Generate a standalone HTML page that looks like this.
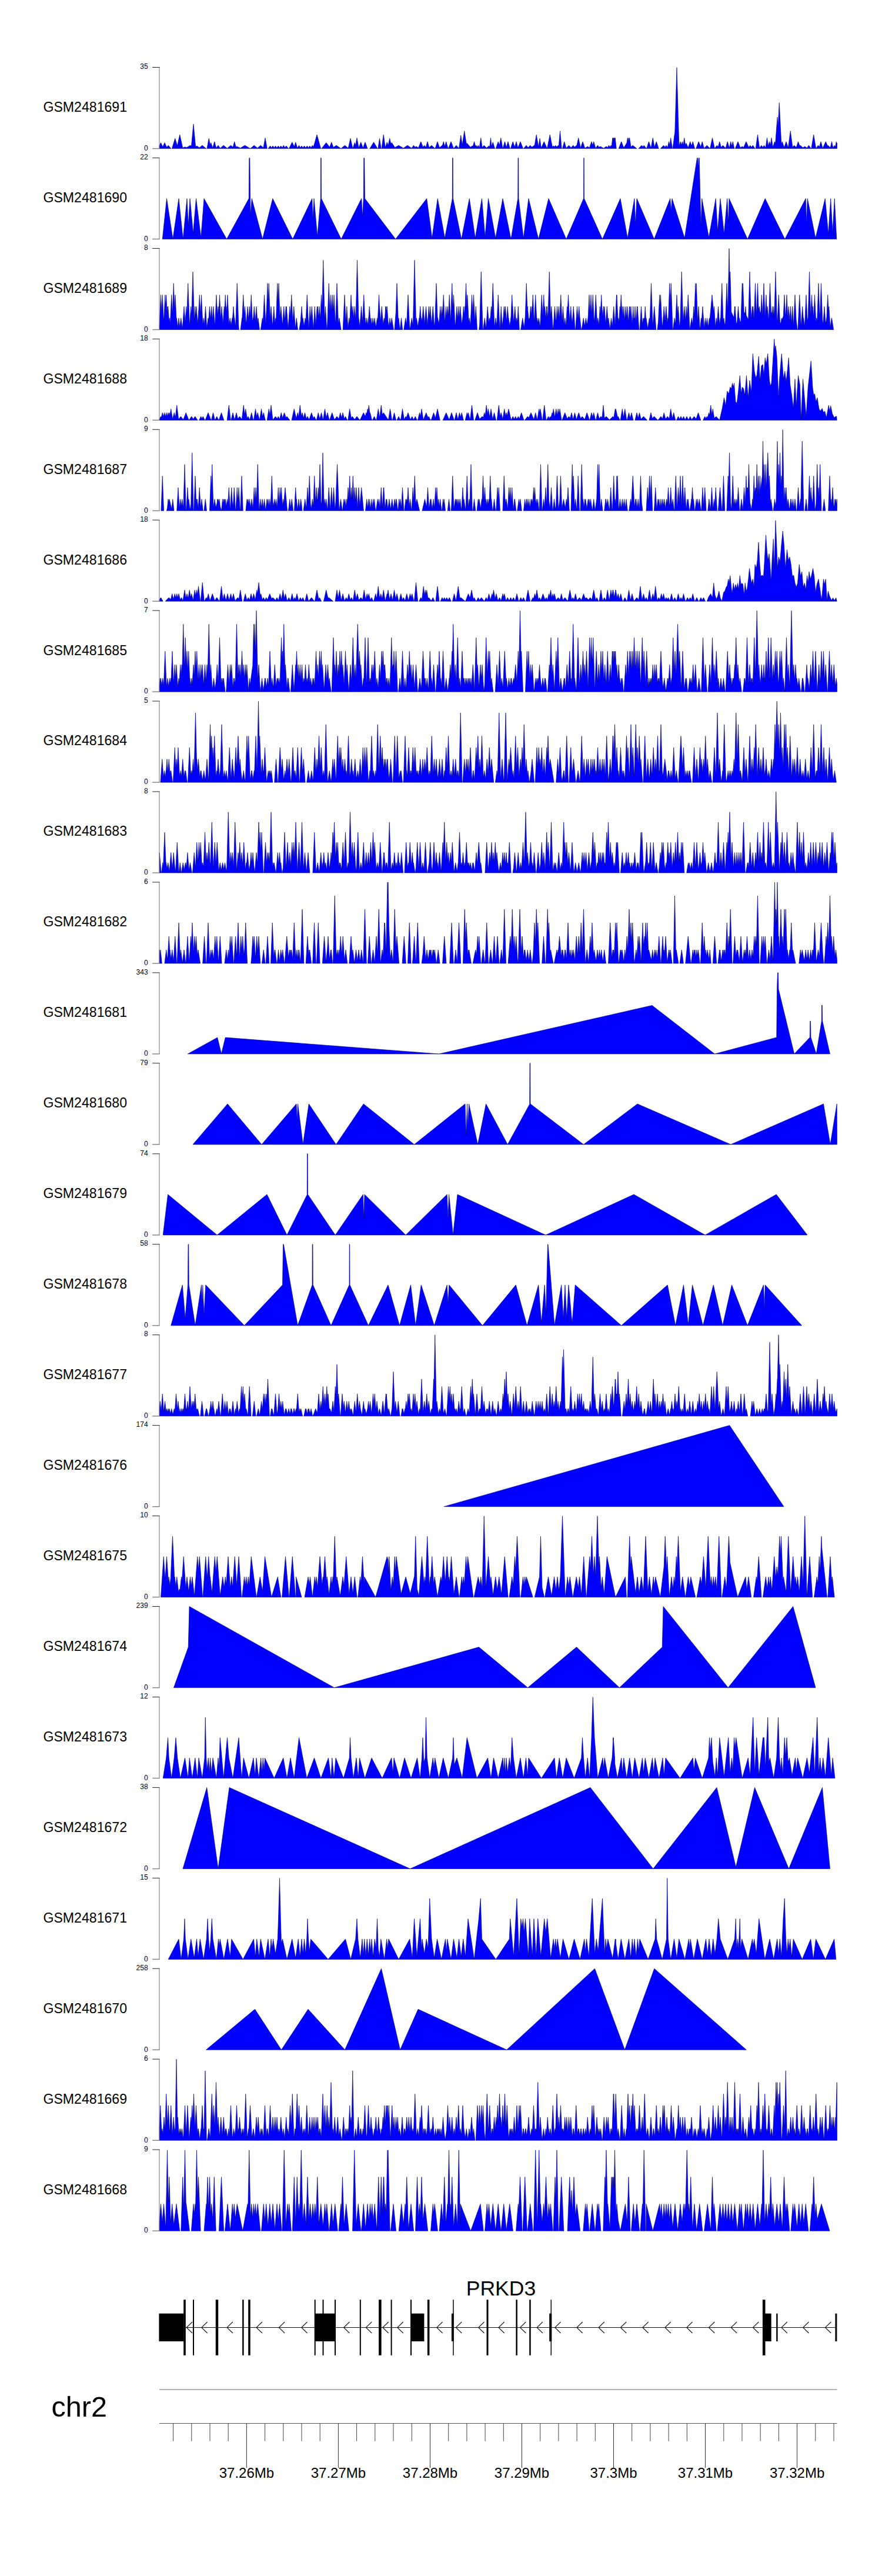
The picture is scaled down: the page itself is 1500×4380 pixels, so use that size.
<!DOCTYPE html>
<html><head><meta charset="utf-8"><title>tracks</title>
<style>
html,body{margin:0;padding:0;background:#fff}
body{width:1500px;height:4380px;overflow:hidden}
svg{display:block}
text{font-family:"Liberation Sans",sans-serif;fill:#000}
.tk{font-size:12.1px}
.lb{font-size:23.1px}
.gn{font-size:35.6px}
.ax{font-size:24px}
.chr{font-size:48.6px}
</style></head><body>
<svg width="1500" height="4380" viewBox="0 0 1500 4380">
<rect width="1500" height="4380" fill="#fff"/>
<path d="M271.00 252.60L271 248.04L273.5 242.62L276.75 249.67L280 242.62L283.5 250.21L283.75 250.11L286.25 247.16L290.75 252.48L291 252.6ZM292.25 252.60L292.5 252.56L297.75 235.37L301.5 247.65L301.75 246.95L305.75 229.02L310.5 250.31L310.75 251.17L314.5 249.88L317.25 250.83L317.5 250.7L323.5 247.16L325.25 248.19L325.5 247.89L329 210.88L332.5 247.89L332.75 249.44L334.75 248.06L339 251L339.25 251.09L344 247.16L350.5 252.54L350.75 252.6ZM351.75 252.60L352 252.4L355.25 235.37L357.25 245.85L357.5 246.42L358.75 242.62L361.5 250.97L361.75 251.57L364.75 240.81L367.75 251.57L368 251.3L371 247.16L374.25 251.64L374.5 251.92L380.25 247.16L386.25 252.12L386.5 252.12L392.5 247.16L396 250.05L396.25 249.77L398.75 240.81L401 248.88L401.25 249.66L402.75 248.97L408.75 251.73L409 251.59L416.5 247.16L425.5 252.48L425.75 252.54L432.25 247.16L437.75 251.71L443.25 247.16L447.75 250.88L448 251.01L451 234.46L454.25 252.39L454.5 252.6ZM456.00 252.60L456.25 252.55L459.5 248.06L461.75 251.17L464 248.06L466.25 251.17L468.5 248.06L470.75 251.17L471 251.17L473.25 248.06L475.5 251.17L477.75 248.06L479.75 250.82L480 250.88L482.25 247.16L484.25 250.47L484.5 250.65L486.75 248.06L490.5 252.38L490.75 252.6ZM491.25 252.60L491.5 252.58L496.75 241.72L500.25 248.96L500.5 249.16L502.75 241.72L505.75 251.65L506 251.3L508.5 247.16L510.75 250.88L511 250.82L513 248.06L515.25 251.17L517.5 248.06L519.75 251.17L520 251.17L522.25 248.06L524.5 251.17L526.75 248.06L528.75 250.82L529 250.88L531.25 247.16L532.75 249.64L533 249.3L534.25 245.85L534.5 245.16L539 229.02L545.5 252.33L545.75 252.6ZM546.75 252.60L547 252.42L554.75 242.62L560.5 249.89L560.75 249.99L563.75 241.72L566.75 249.99L567 250.61L572 247.16L579.75 252.5L580 252.54L586.5 247.16L592 251.71L592.25 251.75L596 235.37L599.75 251.75L600 252.48L603.25 242.62L604.5 246.42L604.75 246.87L607 234.46L610 251.01L610.25 251.37L613.75 241.72L617.25 251.37L617.5 251.37L621 241.72L624.75 252.06L625 252.6ZM628.75 252.60L629 252.47L635.5 241.72L642 252.47L642.25 252.6ZM642.75 252.60L643 251.75L645.5 235.37L648 251.75L648.25 252.6ZM648.75 252.60L649 252.33L652.25 229.02L655 248.74L655.25 249.64L656.25 247.99L656.5 247.51L658.25 241.72L659.75 246.68L660 247.38L662.75 235.37L664.75 244.1L665 244.52L666.25 242.62L671.5 250.59L671.75 250.85L678 247.16L686 251.89L686.25 251.81L693 247.16L700 251.99L703.5 247.16L705.75 250.26L706 250.35L708 248.97L711.5 251.39L711.75 251.05L715.75 240.81L719.25 249.77L719.5 250.26L721.75 247.16L724.25 250.61L724.5 249.77L727 240.81L729.75 250.67L730 250.84L734 247.16L739.75 252.45L740 252.6ZM740.00 252.60L740.25 252.02L744 240.81L747.25 250.52L747.5 250.88L752 247.16L752.25 247.36L752.5 247.08L754.25 240.81L756.5 248.88L758.75 240.81L762 252.46L762.25 252.6ZM762.25 252.60L762.5 252.34L767 240.81L771.5 252.34L771.75 252.18L776 247.16L780.25 252.18L780.5 252.34L783.75 229.92L786 245.44L786.25 245.43L789.75 222.67L793 243.8L793.25 244.68L794.25 243.53L800 250.14L800.25 250.13L803.25 248.06L804.25 248.75L804.5 247.98L806.5 240.81L808.5 247.98L808.75 248.81L809.75 247.16L811.5 250.05L813.25 247.16L815.25 250.47L815.5 249.98L817.75 234.46L820 249.98L820.25 250.26L823.25 247.16L827.25 251.3L827.5 251.51L831.5 248.06L832.75 249.14L833 248.25L834.5 234.46L836 248.25L836.25 248.34L838.25 241.72L841.5 252.47L841.75 252.6ZM843.25 252.60L843.5 252.02L847.25 240.81L849.25 246.79L849.5 246.87L851.75 234.46L855 252.39L855.25 252.46L858.5 240.81L861.25 250.67L864 240.81L867.25 252.46L867.5 252.6ZM868.25 252.60L868.5 252.02L872.25 240.81L875.25 249.77L875.5 249.77L878 240.81L880.75 250.67L881 251.05L885 240.81L889.5 252.34L889.75 252.6ZM890.25 252.60L890.5 252.48L895 247.16L898 250.7L898.25 250.78L901.75 247.16L904.75 250.26L908.5 247.16L909 247.57L909.25 246.95L912.25 229.02L915.75 249.94L916 248.47L918 235.37L920.25 250.11L920.5 251.46L925.25 240.81L930.5 252.58L930.75 252.07L935.25 229.02L939.25 249.51L939.5 249.57L941.25 248.06L942.75 249.36L943 249.57L944.75 247.16L946.5 249.57L946.75 249.74L949.25 247.16L950.25 248.19L950.5 245.43L952.5 222.67L955 251.12L955.25 252.6ZM956.25 252.60L956.5 252.46L959.75 240.81L962.75 251.57L963 251.81L967.5 247.16L971.25 251.04L971.5 251L974.75 247.16L977.25 250.11L977.5 250L980.25 247.16L980.75 247.68L981 247.1L983.75 234.46L987.25 250.55L987.5 251.27L991 240.81L994.75 252.02L995 251.9L999.25 248.97L1002.5 251.21L1002.75 250.52L1006 240.81L1008 246.79L1008.25 246.19L1009.75 240.81L1012.75 251.57L1013 251.99L1016.5 247.16L1018.5 249.92L1018.75 250.21L1021 248.97L1026.5 252.01L1026.75 251.9L1031 248.97L1033.25 250.52L1033.5 250.47L1035.5 247.16L1037.25 250.05L1039 247.16L1040 248.81L1040.25 248.25L1041.75 234.46L1042.25 239.06L1042.75 234.46L1043.25 239.06L1043.75 234.46L1044 236.76L1044.25 236.76L1044.5 234.46L1045 239.06L1045.5 234.46L1045.75 236.76L1046 236.76L1046.25 234.46L1048 250.55L1048.25 252.6ZM1052.00 252.60L1052.25 252.34L1056.75 240.81L1060.75 251.05L1061 251.29L1065.5 243.53L1065.75 243.96L1066 243.08L1067.25 234.46L1068 239.63L1068.25 239.63L1069 234.46L1069.75 239.63L1070 239.63L1070.75 234.46L1072.75 248.25L1073 249.85L1076.25 247.16L1082.75 252.54L1083 252.6ZM1086.00 252.60L1086.25 252.33L1091.25 247.16L1093.5 249.49L1093.75 249.23L1095.25 247.16L1099 252.33L1099.25 252.6ZM1099.50 252.60L1099.75 252.02L1103.5 240.81L1107 251.27L1107.25 251.01L1110.25 234.46L1113 249.63L1113.25 249.77L1116.25 240.81L1120 252.02L1120.25 252.6ZM1123.25 252.60L1123.5 252.33L1128.5 247.16L1131.25 250L1131.5 249.64L1133 247.16L1135.25 250.88L1135.5 249.77L1137.5 240.81L1138.75 246.41L1139 246.53L1140.75 234.46L1143.25 251.7L1143.5 252.6ZM1144.00 252.60L1144.25 251.12L1147.75 224.56L1148 219.56L1151 114.73L1154.75 245.77L1155 247.98L1157 240.81L1158.5 246.19L1158.75 246.19L1160.25 240.81L1161.75 246.19L1162 246.53L1163.75 234.46L1165.5 246.53L1165.75 246.4L1167 243.53L1170.25 251L1170.5 250.52L1173.75 240.81L1176 247.53L1176.25 247.98L1178.25 240.81L1181.5 252.46L1181.75 252.6ZM1183.50 252.60L1183.75 252.34L1188.25 240.81L1191.75 249.77L1194.25 240.81L1197.25 251.57L1197.5 252.07L1202.25 247.16L1207.25 252.33L1207.5 252.6ZM1207.50 252.60L1207.75 251.7L1211.5 234.46L1215.25 251.7L1215.5 252.33L1219.25 247.16L1221 249.57L1221.25 249.77L1223.75 240.81L1226.25 249.77L1226.5 250.26L1229.5 247.16L1234 251.81L1234.25 251.57L1237.25 240.81L1240.25 251.57L1240.5 250.89L1242.75 240.81L1244.5 248.65L1246.25 240.81L1248.75 252.02L1249 252.6ZM1250.25 252.60L1250.5 252.34L1255 240.81L1259 251.05L1259.25 251.04L1262.25 248.97L1264.5 250.52L1264.75 250.33L1269 240.81L1273.25 250.33L1273.5 250.26L1275.75 247.16L1278 250.26L1280.25 247.16L1284 252.33L1284.25 252.6ZM1285.00 252.60L1285.25 252.33L1288.5 229.02L1291.5 250.53L1291.75 251.64L1295 247.16L1297.25 250.26L1297.5 250.47L1299.5 247.16L1302 251.3L1302.25 249.98L1304.5 234.46L1306.25 246.53L1306.5 247.98L1308.5 240.81L1310 246.19L1310.25 246.53L1312 234.46L1314.25 249.98L1314.5 249.77L1317.5 240.81L1318.5 243.8L1318.75 243.17L1322 199.09L1323 212.65L1323.25 214.14L1325.25 174.6L1328.75 243.79L1329 244.54L1330.25 240.81L1333.5 250.52L1333.75 250.52L1337 240.81L1340.25 250.52L1340.5 251.12L1344.25 222.67L1347.75 249.22L1348 250L1350.75 247.16L1354 250.52L1354.25 250.52L1357.5 240.81L1359.75 247.53L1360 247.99L1361 247.16L1365.5 250.88L1365.75 251.04L1368.75 248.97L1372.25 251.39L1372.5 251.3L1375.5 247.16L1379.25 252.33L1379.5 252.6ZM1379.75 252.60L1380 251.43L1383.75 229.02L1387.5 251.43L1387.75 252.33L1391.5 247.16L1393.25 249.57L1393.5 249.77L1396 240.81L1399 251.57L1399.25 252.02L1404.25 240.81L1407.25 247.53L1407.5 247.93L1408.25 247.16L1412 251.04L1412.25 250.89L1414.5 240.81L1416.75 250.89L1417 250.88L1419.25 247.16L1420.75 249.64L1421 248.28L1422.25 240.81L1423 245.29L1423.25 245.29L1423.5 243.05L1423.5 252.6Z" fill="#0000ff" stroke="#000085" stroke-width="0.65" stroke-linejoin="miter" stroke-miterlimit="10"/>
<path d="M271 114.5V252.6" stroke="#7f7f7f" stroke-width="1.1" fill="none"/>
<path d="M259.2 114.5H271.5" stroke="#222" stroke-width="1" fill="none"/>
<path d="M259.2 252.6H271.5" stroke="#7f7f7f" stroke-width="1.4" fill="none"/>
<text x="251.8" y="117.2" class="tk" text-anchor="end">35</text>
<text x="251.8" y="255.8" class="tk" text-anchor="end">0</text>
<text x="73.5" y="189.9" class="lb">GSM2481691</text>
<path d="M276.25 406.54L283.5 337.61L294 406.54ZM294.00 406.54L304 337.61L311.25 406.54ZM311.25 406.54L318 337.61L320.25 383.86L323 337.61L328.5 396.56L333.5 337.61L341.75 403.82L347 337.61L385.5 406.54ZM385.50 406.54L423.25 337.61L423.75 268.67L424.75 268.67L426 365.72L428.25 337.61L446.5 406.54ZM446.50 406.54L463.75 337.61L497.75 406.54ZM497.75 406.54L530.75 337.61L532 372.07L534 337.61L539.75 402L545.25 337.61L545.5 268.67L546.25 268.67L546.5 337.61L580.25 406.54ZM580.25 406.54L614.75 337.61L616.5 368.44L618.25 337.61L618.75 268.67L619.75 268.67L620.5 337.61L672.75 406.54ZM672.75 406.54L725.75 337.61L734.75 404.73L744.25 337.61L756.5 404.73L769.25 337.61L769.5 268.67L770.25 268.67L770.5 337.61L784.75 406.54ZM784.75 406.54L798.25 337.61L808.25 404.73L819.5 337.61L825 402.91L830.5 337.61L842.75 404.73L855 337.61L869 406.54ZM869.00 406.54L880.75 337.61L881 268.67L881.75 268.67L882 337.61L890.25 404.73L899 337.61L915.75 406.54ZM915.75 406.54L933 337.61L963 406.54ZM963.00 406.54L992.5 337.61L992.75 268.67L993.25 268.67L993.5 337.61L1024.5 406.54ZM1024.50 406.54L1055 337.61L1067.25 404.73L1079 337.61L1080.75 381.14L1083 337.61L1112.5 406.54ZM1112.50 406.54L1139.75 337.61L1141.25 358.47L1143 337.61L1164.25 404.73L1185.5 268.67L1186.5 268.67L1187.5 286.36L1188.25 268.67L1189.25 268.67L1192 383.86L1193.75 337.61L1205.5 403.82L1217.25 337.61L1220.5 392.93L1225 337.61L1231.5 397.47L1236.75 337.61L1238.75 379.33L1240 337.61L1271.25 406.54ZM1271.25 406.54L1301.25 337.61L1334.75 406.54ZM1334.75 406.54L1370.25 337.61L1371.5 379.33L1373.25 337.61L1387 404.73L1403.25 337.61L1408.75 397.47L1412.75 337.61L1416 395.2L1419.25 337.61L1422.75 406.54Z" fill="#0000ff" stroke="#000085" stroke-width="0.65" stroke-linejoin="miter" stroke-miterlimit="10"/>
<path d="M271 268.4V406.5" stroke="#7f7f7f" stroke-width="1.1" fill="none"/>
<path d="M259.2 268.4H271.5" stroke="#222" stroke-width="1" fill="none"/>
<path d="M259.2 406.5H271.5" stroke="#7f7f7f" stroke-width="1.4" fill="none"/>
<text x="251.8" y="271.1" class="tk" text-anchor="end">22</text>
<text x="251.8" y="409.7" class="tk" text-anchor="end">0</text>
<text x="73.5" y="343.8" class="lb">GSM2481690</text>
<path d="M271.00 560.48L271 553.93L273.5 501.43L274.75 527.68L275 527.68L276.25 501.43L278 538.18L278.25 542.32L278.5 543.85L278.75 543.43L280.75 501.43L281.75 522.43L282.75 501.43L284.25 532.93L284.5 529.69L285 521.11L285.25 525.4L285.5 524.61L285.75 521.11L287.5 545.61L287.75 544.99L288.25 540.8L289.25 549.19L289.5 548.68L291.75 501.43L293.25 532.93L293.5 530.75L295.25 481.75L296.75 523.75L297 522.43L298 501.43L300 543.43L300.25 542.95L300.5 540.8L302.25 555.88L302.5 554.9L304 540.8L305.5 554.9L305.75 555.35L307.75 540.8L310 557.16L310.25 556.54L310.75 552.6L311 549.11L313 521.11L314.75 545.61L315 547.54L316.75 521.11L317.75 536.22L318 530.75L319.75 481.75L322.25 551.75L322.5 551.68L322.75 549.11L324.75 521.11L325.75 535.11L326 532.07L328 462.07L330.25 540.82L330.5 544.33L331.75 521.11L332.5 535.04L332.75 538.61L334 521.11L336 549.11L336.25 550.41L338.25 521.11L338.5 517.18L339.25 501.43L340.75 532.93L341 532.93L342.5 501.43L344.75 548.68L345 551.55L346.25 540.8L347.5 551.55L347.75 549.91L349.5 521.11L351.75 558.14L352 556.26L354 540.8L354.5 544.66L354.75 544.17L356.5 521.11L358 540.87L358.25 542.11L359.75 521.11L361.25 542.11L361.5 542.11L363 521.11L364.75 545.61L365 548.88L365.5 552.12L365.75 548.68L368 501.43L369.5 532.93L369.75 536.62L371 521.11L371.75 530.42L372 532.93L373.5 501.43L375.25 538.18L375.5 542.11L377 521.11L379 549.11L379.25 550.21L381.25 521.11L381.75 528.39L382 527.68L383.25 501.43L384.25 522.43L384.5 524.71L384.75 521.11L385.5 531.91L385.75 527.68L387 501.43L388.75 538.18L389 543.14L389.75 550.16L390 549.57L391.25 540.8L393 553.08L393.25 551.47L394.75 540.8L395.25 544.35L395.5 542.11L397 521.11L398.5 542.11L398.75 540.8L400.5 555.24L400.75 551.75L403.25 481.75L405.75 551.75L406 555.93L406.25 559.09L406.5 560.48ZM409.00 560.48L409.25 558.66L411.5 540.8L411.75 542.78L412 538.18L413.75 501.43L415.25 532.93L415.5 535.11L416.5 521.11L418.5 549.11L418.75 548.65L419.25 545.51L419.5 542.11L421 521.11L422.5 542.11L422.75 542.11L424.25 521.11L425.25 535.11L425.5 538.18L427.25 501.43L429.25 543.43L429.5 547.21L430.5 540.8L430.75 542.11L432.25 521.11L434 545.61L434.25 545.61L436 521.11L437.75 545.61L438 548.95L439 540.8L441.25 559.15L441.5 560.48ZM443.25 560.48L443.5 559.36L446.25 540.8L447.25 547.55L447.5 543.43L449.5 501.43L451.75 548.68L452 550.62L453.5 521.11L453.75 516.75L455 481.75L456 509.75L456.25 509.75L457.25 481.75L459.25 537.75L459.5 542.11L461 521.11L462.75 545.61L463 548.04L463.5 551.66L463.75 553.18L465.75 521.11L467.5 549.17L467.75 548.24L468.75 540.8L469.25 544.52L469.5 544.75L471.75 481.75L472.75 509.75L473 509.75L474 481.75L476 537.75L476.25 539.41L477.75 521.11L480.25 551.61L480.5 551.33L480.75 549.11L482.75 521.11L484.25 542.11L484.5 540.8L484.75 542.11L486.25 521.11L486.5 524.61L486.75 527.98L487.25 521.11L490 558.9L490.25 556.11L492.75 521.11L493.75 535.11L494 538.18L495.75 501.43L497.75 543.43L498 546.98L499.75 521.11L502.25 558.07L502.5 556.52L504.25 540.8L506.25 558.76L506.5 560.48ZM508.75 560.48L509 559.91L511.25 545.58L511.5 542.11L513 521.11L514.5 542.11L514.75 544.55L515.25 540.8L517 553.94L517.25 554.15L519 540.8L520 548.43L520.25 543.43L522.25 501.43L524.75 553.93L525 558.35L525.25 555.29L527.25 521.11L528.5 542.48L528.75 542.11L530.25 521.11L533 559.61L533.25 556.8L535.25 521.11L537 552.34L537.25 549.65L539.25 521.11L539.5 524.68L539.75 528.11L540.25 521.11L541.5 538.61L541.75 538.61L543 521.11L544.5 542.11L544.75 538.18L546.5 501.43L547.5 522.43L547.75 526.38L549.75 442.38L552 536.88L552.25 543.46L553.5 521.11L555.5 556.86L555.75 559.77L556.5 554.08L556.75 551.75L559.25 481.75L561 530.75L561.25 527.68L562.5 501.43L563.75 527.68L564 527.68L565.25 501.43L566.5 527.68L566.75 527.68L568 501.43L570 543.43L570.25 545.95L570.5 547.67L570.75 544.75L573 481.75L575.25 544.75L575.5 550.39L577 540.8L580 559.99L580.25 560.48ZM583.00 560.48L583.25 559.18L586 501.43L588 543.43L588.25 548.14L589.75 521.11L591.75 557.15L592 556.59L593.75 540.8L594.5 547.56L594.75 548.68L597 501.43L598 522.43L598.25 521.11L599.25 535.11L599.5 531.61L600.25 521.11L601.75 542.11L603.25 521.11L604.75 542.11L605 541.69L605.25 536.88L607.5 442.38L609.75 536.88L610 540.8L611.75 554.59L612 554.36L614.5 521.11L616.25 544.39L616.5 546.91L616.75 543.43L618.75 501.43L620.5 538.18L620.75 543.12L621 540.8L622 550.1L622.25 551.21L623.75 540.8L625.25 551.21L625.5 552.59L626.75 540.8L627 538.61L628.25 521.11L630 545.61L630.25 547.17L631 540.8L632.25 551.42L632.5 552.1L634 540.8L635.25 550.22L635.5 550.64L637 540.8L639.25 555.57L639.5 555.69L641.5 540.8L642.25 546.38L642.5 543.43L644.5 501.43L645.25 517.18L645.5 521.11L647.25 546.69L647.5 544.24L649.25 521.11L651.5 550.85L651.75 550.61L653.25 540.8L654 545.71L654.25 547.1L655.75 521.11L656 525.45L656.25 528.11L656.75 521.11L657.5 531.61L658.25 521.11L660 545.61L660.25 548.24L661 553.83L661.25 555.21L663 540.8L664.25 551.09L664.5 551.71L666.25 540.8L669.25 559.5L669.5 560.48ZM670.75 560.48L671 559.91L673 534.05L673.25 530.75L675 481.75L677.25 544.75L677.5 545.54L678 540.8L680 559.75L680.25 560.48ZM680.25 560.48L680.5 559.12L682.5 540.8L684.5 559.12L684.75 560.48ZM686.75 560.48L687 558.86L689.75 540.8L691.5 552.29L691.75 548.68L694 501.43L696.75 559.18L697 560.48ZM697.00 560.48L697.25 559.35L700.25 540.8L702.25 553.17L702.5 547.38L705 442.38L707.5 547.38L707.75 546.21L708.5 540.8L710.5 555.24L710.75 554.58L712.75 540.8L713 542.52L713.25 542.11L714.75 521.11L716.25 542.11L716.5 542.78L716.75 540.8L717.5 546.75L717.75 545.57L719.75 521.11L722 548.63L722.25 550.13L724.5 521.11L726.75 550.13L727 552.61L729.25 521.11L730.5 538.61L731.75 521.11L733.25 542.11L733.5 545.47L734 548.59L734.25 549.11L736.25 521.11L738 545.61L738.25 548.67L739.25 554.96L739.5 551.75L742 481.75L744 537.75L744.25 542.35L744.5 540.8L746 550.11L746.25 549.18L747 544.15L747.25 542.11L748.75 521.11L750 538.61L750.25 538.61L751.5 521.11L752.5 535.11L752.75 532.93L754.25 501.43L756.5 548.68L756.75 546L758.5 521.11L759.75 538.89L760 536.63L761.25 521.11L762.5 536.63L762.75 532.93L764.25 501.43L766.25 543.43L766.5 542.74L766.75 537.75L768.75 481.75L770.25 523.75L770.5 522.43L771.5 501.43L773.75 548.68L774 551.28L774.25 553.02L774.5 552.92L777 521.11L778.5 540.2L778.75 542.11L780.25 521.11L781.5 538.61L781.75 538.61L783 521.11L785 549.11L785.25 550.97L786.75 540.8L787 538.61L788.25 521.11L789.25 535.11L789.5 535.09L790.5 521.11L790.75 524.61L791 523.75L792.5 481.75L793.75 516.75L794 522.43L795 501.43L797 543.43L797.25 548.04L798.25 540.8L800 553.47L800.25 548.68L802.5 501.43L804 532.93L805.5 501.43L807.5 543.43L807.75 546.85L809.25 521.11L811.5 559.71L811.75 560.48ZM814.50 560.48L814.75 559.63L815.5 552.57L815.75 549.57L818.25 462.07L821 558.32L821.25 560.48ZM821.50 560.48L821.75 560.3L824.25 540.8L826.5 558.35L826.75 556.11L829.25 521.11L831.25 549.11L831.5 547.51L832.5 540.8L833.25 545.83L833.5 545.53L835.5 521.11L836.25 530.27L836.5 530.75L838.25 481.75L840.75 551.75L841 555.52L843 540.8L844.75 553.68L845 548.68L847.25 501.43L849.75 553.93L850 558.66L850.25 560.06L852.25 521.11L854 555.19L854.25 553.22L855.75 540.8L856 538.61L857.25 521.11L858.25 535.11L858.5 531.83L859.25 521.11L859.5 521.11L861.25 545.61L861.5 545.61L863.25 521.11L864.75 542.11L865 540.8L866.75 553.69L867 553.78L868.75 540.8L869 538.18L870.75 501.43L871.75 522.43L872 521.11L873.5 547.13L873.75 549.11L875.75 521.11L877.75 549.11L878 547.18L878.75 540.8L879.75 549.31L880 544.77L881.25 521.11L883.25 558.97L883.5 560.48ZM885.50 560.48L885.75 559.74L888.75 540.8L891.25 556.58L891.5 555.52L893 540.8L893.25 537.75L895.25 481.75L896.75 523.75L897 524.23L897.25 521.11L899.25 546.04L899.5 544.36L900 540.8L900.5 544.36L900.75 542.11L902.25 521.11L903.25 535.11L903.5 534.45L904.5 521.11L904.75 524.45L905 527.68L906.25 501.43L908.5 548.68L910.75 501.43L912.75 543.43L913 543.96L913.5 540.8L914.75 548.7L915 548.73L916.25 540.8L918.5 555.07L918.75 553.93L921.25 501.43L923 538.18L924.75 501.43L926 527.68L926.25 527.94L926.75 521.11L928.25 541.58L928.5 538.61L929.75 521.11L930 524.61L930.25 521.11L931.5 539.77L931.75 537.98L932.25 531.24L932.5 523.32L934.25 462.07L936.25 532.07L936.5 539.87L937.75 521.11L940.25 558.62L940.5 560.48ZM940.50 560.48L940.75 559.61L943.5 521.11L945 542.11L945.25 543.89L945.5 545.44L945.75 546.95L947.5 521.11L948.75 539.57L949 538.61L950.25 521.11L951.75 542.11L952 538.18L953.75 501.43L955.75 543.43L956 546.87L957.5 521.11L959.25 551.16L959.5 551.92L960.75 540.8L962.25 554.14L962.5 554L964.5 521.11L965 529.34L965.25 527.68L966.5 501.43L967.25 517.18L967.5 521.11L968.75 544.97L969 545.61L970.75 521.11L972.25 542.11L972.5 544.09L973.25 549.02L973.5 545.6L975.25 521.11L978 559.59L978.25 560.48ZM978.50 560.48L978.75 559.61L981.5 521.11L982.75 538.61L983 540.8L983.25 542.11L984.75 521.11L986 538.61L986.25 540.8L988.25 558.93L988.5 560.48ZM989.00 560.48L989.25 560.07L992.25 540.8L994.25 553.64L994.5 553.3L996.5 540.8L998.25 551.74L998.5 551.83L1000 540.8L1000.25 538.18L1002 501.43L1003.5 532.93L1005 501.43L1006.5 532.93L1006.75 532.93L1008.25 501.43L1010 538.18L1010.25 540.8L1011 546.26L1011.25 543.43L1013.25 501.43L1015.5 548.68L1015.75 547.79L1016.75 540.8L1018.25 551.29L1018.5 552.9L1020.25 521.11L1021 534.74L1021.25 532.93L1022.75 501.43L1023.5 517.18L1023.75 521.11L1025 536.68L1025.25 538.61L1026.5 521.11L1027.25 531.61L1027.5 528.86L1028 521.11L1029.75 548.22L1030 547.86L1030.5 544.33L1030.75 542.11L1032.25 521.11L1034 545.61L1034.25 547.41L1035 540.8L1037 558.42L1037.25 560.09L1039.5 540.8L1041.25 555.81L1041.5 552.38L1043.75 521.11L1046 552.38L1046.25 548.68L1048.5 501.43L1048.75 506.68L1049 501.43L1051 543.43L1051.25 542.36L1051.5 540.8L1052.5 547.03L1052.75 545.81L1054.25 521.11L1054.75 529.35L1055 527.68L1056.25 501.43L1057.5 527.68L1057.75 531.05L1058.5 521.11L1059.75 537.67L1060 538.35L1061 521.11L1062.25 542.66L1062.5 543.73L1064.25 521.11L1065.75 540.5L1066 538.09L1067 521.11L1068.5 546.58L1068.75 545.61L1070.5 521.11L1070.75 524.61L1071 521.11L1071.75 535.28L1072 535.11L1073 521.11L1075 549.11L1075.25 550.14L1076.75 521.11L1077.75 540.47L1078 544.3L1078.5 540.8L1078.75 542.55L1079 540.58L1080 521.11L1081.25 545.45L1081.5 546.22L1083.5 521.11L1083.75 524.25L1084 521.11L1086.75 559.61L1087 560.48ZM1087.75 560.48L1088 559.42L1090.5 521.11L1092.25 547.93L1092.5 550.64L1094 540.8L1094.5 544.08L1094.75 544.3L1095.25 540.8L1095.75 544.3L1096 541.9L1097.25 521.11L1098.5 541.9L1098.75 542.55L1099 540.8L1101.5 558.3L1101.75 557.6L1104.25 540.8L1105 545.84L1105.25 544.75L1107.5 481.75L1110 551.75L1110.25 552.63L1112.75 521.11L1115.75 558.94L1116 560.48ZM1117.75 560.48L1118 560.21L1119.5 547.27L1119.75 543.43L1121.75 501.43L1122.5 517.18L1122.75 517.18L1123.5 501.43L1125.25 538.18L1125.5 542.22L1126.5 556.29L1126.75 556.11L1129.25 521.11L1131 545.61L1131.25 543.6L1132.75 521.11L1133 521.11L1135 549.11L1135.25 547.18L1136 540.8L1136.25 542.92L1136.5 544.75L1138.75 481.75L1140 516.75L1141.25 481.75L1144 558.75L1144.25 560.48ZM1144.50 560.48L1144.75 559.38L1147 540.8L1148 549.06L1148.25 550.48L1148.75 546.61L1149 543.43L1151 501.43L1152.5 532.93L1152.75 534.24L1153.5 521.11L1155.5 556.11L1155.75 554.47L1156.75 545.35L1157 540.82L1159.25 462.07L1161.5 540.82L1161.75 547.62L1163.75 521.11L1165.5 544.31L1165.75 542.18L1167 521.11L1168.25 542.18L1168.5 538.18L1170.25 501.43L1173 559.18L1173.25 559.56L1176.25 540.8L1178 551.74L1178.25 547.78L1179.75 521.11L1180.5 534.45L1180.75 537.75L1182.75 481.75L1183.5 502.75L1184.25 481.75L1186.5 544.75L1186.75 543.11L1188 521.11L1190 556.3L1190.25 560.48ZM1190.25 560.48L1190.5 559.91L1192.5 540.8L1193 545.57L1193.25 545.61L1195 521.11L1197.5 556.11L1197.75 556.76L1199.5 540.8L1200.75 552.2L1201 552.45L1202.5 540.8L1204.25 554.39L1204.5 555.52L1206.25 540.8L1206.75 545L1207 544.83L1211 501.43L1213.75 531.27L1214 529.44L1214.5 521.11L1216.5 554.43L1216.75 554.89L1218.25 540.8L1219.25 550.2L1219.5 549.11L1221.5 521.11L1223.5 549.11L1223.75 551.98L1225.25 540.8L1225.5 542.66L1225.75 537.75L1227.75 481.75L1230 544.75L1230.25 546.42L1231 540.8L1232.75 553.93L1233 552.15L1233.5 548.36L1233.75 544.75L1236 481.75L1237.5 523.75L1237.75 527.52L1238 520.7L1240 422.7L1241 471.7L1241.25 479.57L1241.75 462.07L1243.5 523.32L1243.75 531.5L1244 530.96L1248 539.64L1248.25 538.61L1249.5 521.11L1249.75 524.45L1250 521.11L1252 547.81L1252.25 548.86L1253 550.49L1253.25 549.43L1253.75 545.12L1254 542.11L1255.5 521.11L1257 542.11L1257.25 544.59L1257.75 540.8L1258.5 546.49L1258.75 548.32L1259.75 546.15L1260 544.75L1262.25 481.75L1262.75 495.75L1263 495.75L1263.5 481.75L1265.25 530.75L1265.5 533.67L1266.75 530.96L1267 531.5L1267.25 531.61L1268 521.11L1269 535.11L1269.25 536.38L1272.5 543.43L1272.75 540.82L1275 462.07L1276.5 514.57L1276.75 521.11L1277.75 538.02L1278 542.11L1279.5 521.11L1280 528.11L1280.25 528.97L1280.75 521.11L1282 540.75L1282.25 542.09L1282.5 537.75L1284.5 481.75L1286 523.75L1286.25 530.52L1286.75 529.07L1287 523.75L1288.5 481.75L1289.75 516.75L1290 522.56L1291 525.45L1291.25 524.41L1291.5 521.11L1292 527.71L1292.25 529.07L1293.5 532.69L1293.75 532.93L1295.25 501.43L1296.75 532.93L1297 537.75L1299 481.75L1301 537.75L1301.25 538.18L1303 501.43L1304.25 527.68L1304.5 531.24L1305.25 521.11L1306.75 541.37L1307 541.81L1307.25 541.26L1307.5 537.75L1309.5 481.75L1311.25 530.75L1311.5 532.04L1312 530.96L1312.5 532.04L1312.75 531.61L1313.5 521.11L1314.5 535.11L1314.75 536.92L1315 533.84L1315.75 521.11L1316.75 538.08L1317 532.07L1319 462.07L1321 532.07L1321.25 540.16L1321.5 543.33L1321.75 545.91L1322.25 542.5L1322.5 538.18L1324.25 501.43L1326 538.18L1326.25 542.96L1327 549.45L1327.25 550.49L1328.25 547.88L1328.5 546.33L1329.25 540.8L1329.5 542.64L1329.75 543.98L1332.25 537.47L1332.5 532.93L1334 501.43L1335.25 527.68L1335.5 532.91L1336.25 534.86L1336.5 532.93L1338 501.43L1339.75 538.18L1340 538.61L1341.25 521.11L1343 545.61L1343.25 541.72L1344.5 521.11L1346.25 549.96L1346.5 545.71L1347.75 521.11L1349.25 550.63L1349.5 552.85L1349.75 548.68L1352 501.43L1353.75 538.18L1354 542.9L1356 559.76L1356.25 560.48ZM1356.75 560.48L1357 559.18L1359.75 501.43L1362.25 553.93L1362.5 552.61L1364.75 521.11L1366.25 542.11L1366.5 540.8L1368.25 554.37L1368.5 553.93L1371 501.43L1373 543.43L1373.25 546.66L1374 540.8L1374.25 540.82L1376.5 462.07L1378.5 532.07L1378.75 538.18L1380.5 501.43L1381.75 527.68L1382 530.15L1382.5 521.11L1383.5 539.19L1383.75 538.18L1385.5 501.43L1387.5 543.43L1387.75 548.34L1388.75 540.8L1389.5 546.45L1389.75 544.75L1392 481.75L1394 537.75L1394.25 536.71L1394.75 530.47L1395 523.75L1396.5 481.75L1398.5 537.75L1398.75 543.08L1399.75 552.23L1400 549.11L1402 521.11L1404 549.11L1404.25 549.98L1405.75 540.8L1406 538.18L1407.75 501.43L1409 527.68L1409.25 529.31L1409.75 521.11L1411.75 553.88L1412 556.48L1412.25 554.8L1414.25 540.8L1414.5 540.8L1417.5 559.62L1417.75 560.48Z" fill="#0000ff" stroke="#000085" stroke-width="0.65" stroke-linejoin="miter" stroke-miterlimit="10"/>
<path d="M271 422.4V560.5" stroke="#7f7f7f" stroke-width="1.1" fill="none"/>
<path d="M259.2 422.4H271.5" stroke="#222" stroke-width="1" fill="none"/>
<path d="M259.2 560.5H271.5" stroke="#7f7f7f" stroke-width="1.4" fill="none"/>
<text x="251.8" y="425.1" class="tk" text-anchor="end">8</text>
<text x="251.8" y="563.7" class="tk" text-anchor="end">0</text>
<text x="73.5" y="497.7" class="lb">GSM2481689</text>
<path d="M271.00 714.42L271 713.26L273.5 708.07L274.25 709.63L274.5 708.98L276.25 701.72L277.75 707.94L278 707.94L279.5 701.72L281 707.94L281.25 707.94L282.75 701.72L284.25 707.94L285.75 701.72L286.75 705.87L287 705.87L288 701.72L289 705.87L289.25 704.71L290.75 695.37L293.5 712.48L293.75 712.09L296.25 701.72L298 708.98L298.25 709.76L300.75 689.02L303.5 711.84L303.75 712.93L307.5 708.07L311.5 713.26L311.75 713.39L316.25 701.72L321 714.04L321.25 714.42ZM321.25 714.42L321.5 714.37L325.75 708.07L328.75 712.52L331.75 708.07L336 714.37L336.25 714.42ZM338.50 714.42L338.75 714.29L341.75 708.07L343.5 711.7L345.25 708.07L348.25 714.29L348.5 714.42ZM349.00 714.42L349.25 714.04L354 701.72L358.75 714.04L359 714.42ZM359.25 714.42L359.5 714.17L362.5 701.72L365.5 714.17L365.75 714.29L368.75 708.07L371.75 714.29L372 714.42ZM372.00 714.42L372.25 714.31L376.5 701.72L380.75 714.31L381 714.42ZM386.00 714.42L386.25 713.91L389.25 689.02L392.25 713.91L392.5 714.42ZM392.75 714.42L393 714.17L396 701.72L399 714.17L402 701.72L404.25 711.05L404.5 711.96L407.5 708.07L411.25 712.93L411.5 711.84L414.25 689.02L416 703.54L416.25 704.71L417.75 695.37L420.25 710.93L420.5 711.18L422 708.07L424.75 713.77L425 713.13L427.75 701.72L430.75 714.17L431 714.42ZM431.25 714.42L431.5 714.04L434.5 695.37L436.5 707.82L436.75 707.94L438.25 701.72L441.25 714.17L441.5 714.04L444.5 695.37L446.5 707.82L446.75 707.94L448.25 701.72L451.25 714.17L451.5 714.42ZM454.00 714.42L454.25 714.04L457.25 695.37L458.75 704.71L459 705.62L461 689.02L463.75 711.84L464 713.9L468.5 708.07L471.25 711.64L471.5 711.7L473.25 708.07L475.5 712.74L475.75 712.09L478.25 701.72L480.25 710.02L480.5 710.61L483.5 701.72L486.25 709.87L486.5 710.02L488 708.07L492.75 714.23L493 714.42ZM495.75 714.42L496 714.26L500.25 695.37L503.75 710.93L504 711.05L506.25 701.72L507.75 707.94L508 707.69L510.25 689.02L512.5 707.69L512.75 706.91L514 701.72L516.25 711.05L518.5 701.72L521 712.09L521.25 711.7L523 708.07L525.5 713.26L525.75 713.57L529.75 701.72L532.75 710.61L533 711.18L534.5 708.07L537.5 714.29L537.75 714.42ZM538.00 714.42L538.25 714.17L541.25 701.72L543.75 712.09L544 712.09L546.5 701.72L549.25 713.13L549.5 714.04L552.5 695.37L554.75 709.37L555 710.02L557 701.72L560 714.17L560.25 714.42ZM560.25 714.42L560.5 714.31L564.75 701.72L568.75 713.57L569 713.26L573 708.07L576 711.96L576.25 712.09L578.75 701.72L580.75 710.02L581 710.02L583 701.72L585.5 712.09L585.75 711.7L587.5 708.07L590.5 714.29L590.75 714.42ZM591.50 714.42L591.75 714.04L594.75 695.37L597 709.37L597.25 710.66L599.25 708.07L603 712.93L603.25 712.93L607 708.07L611.75 714.23L612 714.42ZM612.00 714.42L612.25 714.17L618.25 701.72L621.25 707.94L622.75 701.72L623.25 703.8L623.5 704.71L625 695.37L625.75 700.04L626 699.39L627.25 689.02L629 703.54L629.25 702.76L629.5 701.72L632.5 714.17L632.75 714.42ZM633.25 714.42L633.5 714.29L636.5 708.07L639.5 714.29L639.75 714.42ZM640.00 714.42L640.25 714.04L643.25 695.37L645.5 709.37L645.75 709.76L648.25 689.02L650 703.54L650.25 704.68L652.25 701.72L660.5 713.94L660.75 712.48L663.5 695.37L666.5 714.04L666.75 714.42ZM667.25 714.42L667.5 714.17L670.5 701.72L673.5 714.17L673.75 714.42ZM674.75 714.42L675 714.29L678 708.07L681 714.29L681.25 714.42ZM681.25 714.42L681.5 714.04L684.5 695.37L687.25 712.48L687.5 713.26L690 708.07L691 710.14L691.25 709.87L694 701.72L698 713.57L698.25 713.26L700.75 708.07L703.5 713.77L706.25 708.07L709.25 714.29L709.5 714.42ZM710.25 714.42L710.5 714.17L713.5 701.72L714.75 706.91L715 707.82L717 695.37L719.75 712.48L720 714.04L724.75 701.72L728 710.15L728.25 710.14L729.25 708.07L732.25 714.29L732.5 714.42ZM733.00 714.42L733.25 714.31L737.5 701.72L740.5 710.61L740.75 709.82L744 695.37L748.25 714.26L748.5 714.42ZM753.00 714.42L753.25 714.4L758.75 701.72L763.75 713.24L764 713.57L768 701.72L772.25 714.31L772.5 714.42ZM772.75 714.42L773 714.17L776 701.72L778.75 713.13L781.5 701.72L783.25 708.98L783.5 708.98L785.25 701.72L788.25 714.17L788.5 714.42ZM791.00 714.42L791.25 714.17L794.25 701.72L795.25 705.87L795.5 705.87L796.5 701.72L799.25 713.13L799.5 713.91L802.5 689.02L805.5 713.91L805.75 714.42ZM807.50 714.42L807.75 714.31L812 701.72L815.5 712.09L815.75 712.48L820 708.07L821.75 709.89L822 708.98L823.75 701.72L825 706.91L825.25 705.62L827.25 689.02L829 703.54L829.25 703.15L830.5 695.37L832.75 709.37L835 695.37L837.75 712.48L838 712.09L840.5 701.72L843.5 714.17L843.75 714.42ZM845.00 714.42L845.25 713.91L848.25 689.02L850.5 707.69L850.75 707.94L852.25 701.72L854.75 712.09L855 712.48L857.75 695.37L859.5 706.26L859.75 706.91L861 701.72L862.25 706.91L862.5 706.48L865 695.37L869.25 714.26L869.5 713.77L872.25 708.07L874.5 712.74L876.75 708.07L879 712.74L881.25 708.07L883 711.7L883.25 712.09L886.75 701.72L891 714.31L891.25 714.42ZM892.25 714.42L892.5 714.23L897.25 708.07L899 710.34L899.25 710.36L903 701.72L907.75 712.67L908 713.13L910.75 701.72L913.5 713.13L913.75 714.04L916.75 695.37L917.75 701.59L918 701.59L919 695.37L922 714.04L922.25 714.42ZM922.50 714.42L922.75 713.91L925.75 689.02L928.75 713.91L929 714.42ZM929.25 714.42L929.5 714.29L932.5 708.07L934 711.18L934.25 711.18L935.75 708.07L936.75 710.14L937 710.02L939 701.72L939.5 703.8L939.75 704.71L941.25 695.37L943.5 709.37L945.75 695.37L947.5 706.26L949.25 695.37L950.5 703.15L950.75 703.15L952 695.37L955 714.04L955.25 714.42ZM955.75 714.42L956 714.04L960.75 701.72L964.5 711.44L964.75 711.64L967.5 708.07L969.75 710.99L970 710.02L972 701.72L974.75 713.13L977.5 701.72L980.25 713.13L980.5 712.83L984.25 701.72L987.5 711.35L987.75 711.31L990.25 708.07L994.25 713.26L994.5 712.83L998.25 701.72L1002.5 714.31L1002.75 714.42ZM1002.75 714.42L1003 714.17L1006 701.72L1007.75 708.98L1008 708.98L1009.75 701.72L1012.75 714.17L1013 714.42ZM1013.25 714.42L1013.5 714.17L1016.5 701.72L1018.75 711.05L1019 711.96L1022 708.07L1023.75 710.34L1024 709.76L1026 689.02L1028 709.76L1028.25 710.92L1031 708.07L1036.5 713.77L1036.75 713.77L1042.25 708.07L1043.75 709.63L1044 709.37L1046.25 695.37L1046.5 696.93L1046.75 697.59L1047.25 695.37L1050.25 708.71L1050.5 709.63L1051.25 708.07L1054.25 714.29L1054.5 714.42ZM1055.00 714.42L1055.25 714.04L1058.25 695.37L1060.5 709.37L1062.75 695.37L1065.75 714.04L1066 714.42ZM1066.25 714.42L1066.5 714.17L1069.5 701.72L1071.75 711.05L1074 701.72L1077 714.17L1077.25 714.42ZM1079.75 714.42L1080 714.17L1083 701.72L1085.25 711.05L1087.5 701.72L1090 712.09L1090.25 712.48L1094.5 708.07L1100.5 714.29L1100.75 714.42ZM1103.75 714.42L1104 714.17L1107 701.72L1109.25 711.05L1109.5 711.18L1112.5 708.07L1118.5 714.29L1118.75 714.42ZM1119.00 714.42L1119.25 714.23L1124 708.07L1126.75 711.64L1127 711.05L1129.25 701.72L1131.75 712.09L1132 712.28L1135.25 708.07L1138 711.64L1138.25 710.93L1140.75 695.37L1143.25 710.93L1143.5 711.05L1145.75 701.72L1148.75 714.17L1149 714.42ZM1150.25 714.42L1150.5 714.29L1153.5 708.07L1155.75 712.74L1158 708.07L1160.25 712.74L1162.5 708.07L1165.25 713.77L1168 708.07L1170.75 713.77L1171 713.77L1173.75 708.07L1176.25 713.26L1176.5 713.26L1180.5 708.07L1183.75 712.28L1184 712.09L1187.5 701.72L1191.75 714.31L1192 714.42ZM1195.50 714.42L1195.75 714.29L1198.75 708.07L1200.5 711.7L1202.25 708.07L1203.25 710.14L1203.5 710.02L1205.5 701.72L1206.5 705.87L1206.75 705.62L1208.75 689.02L1210.5 703.54L1210.75 704.71L1212.25 695.37L1214.75 710.93L1215 710.92L1217.75 708.07L1223.75 714.29L1224 713.31L1228.25 694.47L1231.5 676.32L1234 689.93L1236.75 664.99L1239.5 669.52L1241.75 658.18L1244 660.45L1245.5 651.38L1247.25 658.18L1248.5 651.38L1251 683.13L1253.25 685.4L1255.75 664.99L1258.25 638.68L1260.5 669.52L1262.25 658.18L1264.5 660.45L1266.75 671.79L1269.5 638.68L1272.25 676.32L1275 646.85L1277.75 667.25L1280.25 601.49L1283 630.97L1285.25 642.31L1287.25 637.78L1290.25 606.03L1292.5 646.85L1295 621.9L1297.25 619.64L1299 637.78L1301.25 608.3L1303 619.64L1305.75 601.49L1308.5 646.85L1310.25 655.92L1312 651.38L1314.5 612.83L1316.75 576.55L1318 594.69L1319.25 587.89L1321.25 608.3L1324 676.32L1325.75 642.31L1329.25 601.49L1332.5 644.58L1334.75 630.97L1337 649.11L1339.25 628.71L1341.25 608.3L1343.75 653.65L1346.5 671.79L1349.25 694.47L1352 644.58L1354.25 689.93L1357.5 638.68L1360.25 653.65L1362.5 712.61L1365.5 644.58L1371 708.07L1374.25 658.18L1376.5 637.78L1379.25 613.74L1382 658.18L1383.75 671.79L1385.5 669.52L1387.75 683.13L1390 676.32L1392.75 694.47L1395 699L1398.25 694.47L1400.5 701.27L1402.75 699L1405.5 710.34L1409.25 689.02L1411 699L1412.75 689.93L1415.5 703.54L1418.75 710.34L1421 708.07L1422.75 708.07L1423.25 714.42Z" fill="#0000ff" stroke="#000085" stroke-width="0.65" stroke-linejoin="miter" stroke-miterlimit="10"/>
<path d="M271 576.3V714.4" stroke="#7f7f7f" stroke-width="1.1" fill="none"/>
<path d="M259.2 576.3H271.5" stroke="#222" stroke-width="1" fill="none"/>
<path d="M259.2 714.4H271.5" stroke="#7f7f7f" stroke-width="1.4" fill="none"/>
<text x="251.8" y="579.0" class="tk" text-anchor="end">18</text>
<text x="251.8" y="717.6" class="tk" text-anchor="end">0</text>
<text x="73.5" y="651.7" class="lb">GSM2481688</text>
<path d="M273.75 868.36L274 867.9L276.25 809.31L278.5 867.9L278.75 868.36ZM283.25 868.36L283.5 868.21L284.5 863.87L284.75 861.41L286 848.68L286.5 853.77L286.75 854.1L288 848.68L291.75 864.95L292 864.42L293.75 848.68L295.75 866.67L296 868.36ZM300.50 868.36L300.75 868.05L303 828.99L305 863.71L305.25 861.7L306.75 848.68L308 859.53L308.25 860.72L309.75 848.68L311.25 860.72L311.5 862.39L312 857.82L312.25 850.39L314 789.63L316.25 867.75L316.5 868.36ZM316.50 868.36L316.75 868.05L319 828.99L320.25 850.69L320.5 852.78L321 848.68L323.25 867.14L323.5 866.54L324.75 856.61L325 845.9L326.75 769.95L329 867.6L329.25 868.36ZM329.50 868.36L329.75 867.9L332 809.31L333.75 854.88L334 853.79L334.5 848.68L334.75 851.23L335 850.85L335.25 848.68L337 863.87L337.25 863.71L339.25 828.99L341.25 863.71L341.5 861.7L343 848.68L345.25 868.21L345.5 868.36ZM346.75 868.36L347 868.21L349.25 848.68L351.5 868.21L351.75 868.36ZM356.25 868.36L356.5 867.9L358.75 809.31L359.5 828.84L359.75 824.35L360.75 789.63L362.75 859.07L363 862.2L365 848.68L367 862.2L367.25 862.24L368.75 856.81L369 855.89L369.75 848.68L370 851.08L370.25 851.39L371 848.68L372.5 854.1L372.75 854.03L373.25 848.68L374.25 859.38L374.5 861.34L376.25 867.66L376.5 868.36ZM376.50 868.36L376.75 866.18L378.5 848.68L379.25 856.18L379.5 855.19L380.25 848.68L380.75 853.02L381 853.76L381.75 848.68L382.5 853.76L382.75 853.02L383.25 848.68L384.5 859.53L384.75 861.55L386.5 848.68L387.5 856.03L387.75 855.03L389.25 828.99L391.5 868.05L393.75 828.99L395 850.69L395.25 853.79L396.25 860.6L396.5 859.37L398.25 828.99L400.5 868.05L400.75 868.36ZM400.75 868.36L401 868.05L403.25 828.99L404.5 850.69L404.75 850.69L406 828.99L408.25 868.05L408.5 868.36ZM408.50 868.36L408.75 867.9L411 809.31L413.25 867.9L413.5 868.36ZM417.75 868.36L418 867.95L420 848.68L420.5 853.49L420.75 855.46L422 848.68L423.5 856.81L423.75 855.74L424.5 848.68L426 862.8L426.25 861.54L428 848.68L430 863.38L430.25 863.71L432.25 828.99L433.5 850.69L433.75 850.69L435 828.99L436 846.35L436.25 850.5L436.5 850.39L438.25 789.63L440.5 867.75L440.75 867.07L442.75 848.68L444.25 862.47L444.5 861.7L446 848.68L447.75 863.87L449.5 848.68L451.75 868.21L454 848.68L455 857.36L455.25 855.22L456 848.68L457.25 859.59L457.5 859.53L458.75 848.68L460 859.53L460.25 861.39L462.25 809.31L463.75 848.37L464 853.69L465 860.37L465.25 859.05L466.75 848.68L468.25 859.05L468.5 857.36L469.5 848.68L471 861.7L471.25 863.71L473.25 828.99L474.5 850.69L474.75 853.57L475 850.69L476.25 828.99L477.25 846.35L477.5 846.35L478.5 828.99L480.25 859.37L480.5 859.18L481.5 848.68L482.25 856.55L482.5 856.12L485 828.99L488.5 866.97L488.75 868.36ZM490.25 868.36L490.5 868.21L492.75 848.68L494.25 861.7L494.5 862.47L496.25 848.68L498.5 866.41L498.75 868.36ZM500.25 868.36L500.5 868.05L502.75 828.99L504 850.69L504.25 848.68L506 867.56L506.25 865.29L508 848.68L509.5 862.92L509.75 865.08L511.5 848.68L511.75 848.68L514 868.21L514.25 868.36ZM516.00 868.36L516.25 867.27L518.75 848.68L520.75 863.55L521 863.71L523 828.99L524.25 850.69L524.5 854.88L526.25 809.31L528 854.88L528.25 857.73L529.25 864.97L529.5 863.87L531.25 848.68L532.5 859.53L532.75 861.39L534.75 809.31L536.5 854.88L536.75 850.69L538 828.99L539.25 850.69L539.5 850.88L539.75 848.68L540 850.69L541.25 828.99L542.25 846.35L542.5 841.71L544 789.63L546 859.07L546.25 858.08L547 852.44L547.25 845.9L549 769.95L551 856.75L551.25 857.51L552.25 848.68L553.25 857.51L553.5 859.53L554.75 848.68L556.75 866.04L557 868.05L559.25 828.99L561.5 868.05L563.75 828.99L565.5 859.37L565.75 859.37L567.5 828.99L569.5 863.71L569.75 865.79L570.75 856.01L571 851.63L573.5 789.63L576.5 864.03L576.75 868.36ZM576.75 868.36L577 867.5L579.5 848.68L582 867.5L582.25 868.36ZM582.25 868.36L582.5 868.21L584.75 848.68L585.5 855.19L585.75 856.51L586.75 848.68L588.25 860.43L588.5 860.44L589.75 848.68L590.25 853.38L590.5 855.03L592 828.99L593 846.35L593.25 848.37L594.75 809.31L596.25 848.37L596.5 846.35L597.5 828.99L598.5 846.35L598.75 848.37L600.25 809.31L601.75 848.37L602 850.46L602.25 846.35L603.25 828.99L604.5 850.69L604.75 850.69L606 828.99L608 863.71L610 828.99L611.75 859.37L612 858.83L614.75 828.99L618.25 866.97L618.5 868.36ZM621.25 868.36L621.5 868.21L623.75 848.68L625.5 863.87L627.25 848.68L627.5 850.61L627.75 848.68L629.75 864.16L630 864.28L631.5 848.68L632.75 861.68L633 863.89L634.5 848.68L635.25 856.29L635.5 857.36L636.5 848.68L638.75 868.21L639 868.36ZM639.25 868.36L639.5 867.9L642.25 848.68L643.25 855.67L643.5 857.36L644.5 848.68L646 861.7L646.25 863.71L648.25 828.99L650.25 863.71L652.25 828.99L652.5 833.33L652.75 828.99L654.75 863.71L655 863.87L656.75 848.68L657.25 853.02L657.75 848.68L659.5 863.87L659.75 865.81L662 848.68L664.25 865.81L664.5 865.04L666.75 848.68L669 865.04L669.25 864.54L671 848.68L672 857.74L672.25 859.53L673.5 848.68L673.75 850.54L674 848.68L676.5 867.26L676.75 868.36ZM676.75 868.36L677 866.71L678.75 848.68L679.5 856.41L679.75 857.36L680.75 848.68L682.25 861.7L682.5 863.71L684.5 828.99L686.75 868.05L687 868.36ZM687.50 868.36L687.75 868.21L690 848.68L690.75 855.19L691 853.95L691.75 848.68L692.5 853.95L692.75 850.69L694 828.99L695.75 859.37L696 861.7L697.5 848.68L699.75 868.21L700 868.05L702.25 828.99L703.5 850.69L703.75 848.37L705.25 809.31L707 854.88L707.25 856.27L709 848.68L713.5 868.21L713.75 868.36ZM717.75 868.36L718 868.21L722.5 848.68L725.5 861.7L725.75 859.37L727.5 828.99L729.25 859.37L729.5 862.85L729.75 863.83L732 848.68L732.5 852.04L732.75 850.85L733 848.68L735 866.04L737 848.68L738.5 861.7L738.75 863.71L740.75 828.99L741.75 846.35L742 846.35L743 828.99L744.5 855.03L744.75 857.89L745.75 848.68L747 860.2L747.25 861.7L748.75 848.68L751 868.21L751.25 868.36ZM751.50 868.36L751.75 867.25L753.5 848.68L754.25 856.64L754.5 855.19L755.25 848.68L757.5 868.21L757.75 868.36ZM761.00 868.36L761.25 868.21L763.5 848.68L765.75 868.21L766 868.36ZM767.00 868.36L767.25 867.21L767.5 864.56L767.75 861.39L769.75 809.31L771.75 861.39L772 865.37L774.25 848.68L775 854.24L775.25 855.19L776 848.68L776.75 855.19L777 855.83L777.75 848.68L778.75 858.22L779 859.53L780.25 848.68L781.25 857.36L781.5 858.02L782.5 848.68L784.5 867.36L784.75 868.05L787 828.99L788.25 850.69L788.5 852.02L789 848.68L791.75 867.04L792 867.9L794.25 809.31L796.25 861.39L796.5 861.15L798 848.68L799 856.99L799.25 850.39L801 789.63L803.25 867.75L803.5 868.36ZM804.00 868.36L804.25 868.21L806.5 848.68L808.75 868.21L809 868.36ZM810.75 868.36L811 868.21L813.25 848.68L814 855.19L814.25 853.74L815 848.68L817.25 863.87L817.5 864.93L819.25 848.68L819.75 853.32L820 848.37L821.5 809.31L823 848.37L823.25 850.69L824.5 828.99L826 855.03L826.25 853.63L826.75 848.68L827.75 858.58L828 859.53L829.25 848.68L830.25 857.36L830.5 856.53L831.5 848.68L832 852.6L832.25 848.37L833.75 809.31L835.25 848.37L835.5 851.35L835.75 848.68L837.5 867.36L837.75 868.36ZM838.00 868.36L838.25 868.21L840.5 848.68L842.75 868.21L843 868.36ZM843.50 868.36L843.75 868.05L846 828.99L847 846.35L847.25 846.35L848.25 828.99L850.5 868.05L850.75 868.36ZM854.75 868.36L855 867.9L857.25 809.31L858.75 848.37L859 850.36L859.25 848.68L860.25 855.39L860.5 855.19L861.25 848.68L863.25 866.04L863.5 863.71L865.5 828.99L866.5 846.35L866.75 846.35L867.75 828.99L869.25 855.03L870.75 828.99L872.75 863.71L873 866.19L875 848.68L875.25 850.85L875.5 848.68L877.75 868.21L878 868.36ZM879.50 868.36L879.75 867.87L882.5 848.68L883.75 857.4L884 857.36L885 848.68L887.25 868.21L887.5 868.36ZM890.25 868.36L890.5 868.21L892.75 848.68L894.25 861.7L895.75 848.68L896 850.85L896.25 850.74L896.5 848.68L898 861.03L898.25 859.53L899.5 848.68L901.25 863.87L903 848.68L903.75 855.19L904 853.84L904.75 848.68L905.75 855.57L906 855.03L907.5 828.99L908.5 846.35L909.5 828.99L911 855.03L911.25 856.52L912.25 848.68L913.25 856.52L913.5 857.36L914.5 848.68L916.75 868.21L917 868.36ZM917.00 868.36L917.25 867.75L919.5 789.63L921.75 867.75L922 868.36ZM922.00 868.36L922.25 868.21L924.5 848.68L926 861.7L926.25 859.37L928 828.99L929.5 855.03L929.75 859.07L931.75 789.63L933.5 850.39L933.75 852.51L935.25 864.02L935.5 863.71L937.5 828.99L939.75 868.05L940 868.36ZM940.00 868.36L940.25 868.21L942.5 848.68L944.5 866.04L944.75 865.16L945.5 859.67L945.75 854.88L947.5 809.31L949.5 861.39L949.75 866.13L951.75 852.17L952 848.37L953.5 809.31L955.5 861.39L955.75 863.6L958.5 848.68L961.25 863.6L961.5 862.69L963.25 848.68L964.25 856.69L964.5 855.03L966 828.99L968.25 868.05L968.5 868.36ZM970.75 868.36L971 867.75L973.25 789.63L974.25 824.35L974.5 828.84L975.25 809.31L977.25 861.39L977.5 859.53L978.75 848.68L980.75 866.04L981 867.9L983.25 809.31L985.5 867.9L985.75 868.36ZM986.75 868.36L987 867.75L989.25 789.63L991 850.39L991.25 854.06L991.75 848.68L993 862.13L993.25 861.7L994.75 848.68L995 850.85L995.25 852.14L995.75 848.68L998 864.24L998.25 863.44L1000.25 848.68L1001 854.21L1001.25 855.19L1002 848.68L1003 857.36L1003.25 857.21L1004.5 848.68L1007.25 867.46L1007.5 868.21L1009.75 848.68L1012 868.21L1012.25 867.1L1014.75 848.68L1015 841.71L1016.5 789.63L1017.5 824.35L1017.75 824.35L1018.75 789.63L1020.75 859.07L1021 863.87L1022.75 848.68L1025 868.21L1025.25 868.36ZM1027.50 868.36L1027.75 868.21L1030 848.68L1030.25 850.7L1030.5 848.68L1031.75 858.81L1032 858.87L1033.5 848.68L1036.25 867.36L1036.5 868.05L1038.75 828.99L1041 868.05L1041.25 868.36ZM1041.25 868.36L1041.5 867.9L1043.75 809.31L1045.25 848.37L1045.5 852.37L1046 848.68L1047 856.06L1047.25 854.88L1049 809.31L1049.5 822.33L1050 809.31L1052 861.39L1052.25 867.15L1052.5 866.04L1054.5 848.68L1056.25 863.87L1056.5 863.87L1058.25 848.68L1059.75 861.7L1060 861.61L1061.5 848.68L1063.25 863.76L1063.5 861.7L1065 848.68L1067.25 868.21L1067.5 868.36ZM1069.50 868.36L1069.75 867.94L1072.5 848.68L1073.5 855.68L1073.75 855.81L1076.25 809.31L1079 860.46L1079.25 860.9L1081 848.68L1081.25 850.42L1081.5 850.85L1081.75 848.68L1083.5 863.87L1085.25 848.68L1087.25 866.04L1087.5 861.39L1089.5 809.31L1091 848.37L1091.25 854.6L1092.75 866.46L1093 868.36ZM1098.75 868.36L1099 868.05L1101.25 828.99L1102.5 850.69L1102.75 854.88L1104.5 809.31L1106 848.37L1107.5 809.31L1109.75 867.9L1110 868.36ZM1112.25 868.36L1112.5 868.05L1114.75 828.99L1116.75 863.71L1117 865.09L1119 848.68L1119.75 854.83L1120 855.19L1120.75 848.68L1122.25 861.7L1122.5 861.7L1124 848.68L1125.25 859.53L1125.5 860.7L1127 848.68L1128.25 858.7L1128.5 859.53L1129.75 848.68L1131.5 863.87L1131.75 863.87L1133.5 848.68L1133.75 848.68L1134.75 857.49L1135 855.03L1136.5 828.99L1137.75 850.69L1138 854.54L1138.75 860.4L1139 859.37L1140.75 828.99L1142 850.69L1142.25 853.34L1142.75 858L1143 859.53L1144.25 848.68L1146.5 868.21L1146.75 868.36ZM1146.75 868.36L1147 867.9L1149.25 809.31L1151.25 861.39L1151.5 863.71L1153.5 828.99L1155 855.03L1155.25 854.88L1157 809.31L1159 861.39L1161 809.31L1162.5 848.37L1162.75 854.54L1163 856.49L1163.25 855.03L1164.75 828.99L1166.25 855.03L1166.5 859.33L1167 864.66L1167.25 864.94L1168.75 848.68L1169.25 854.1L1169.5 855.19L1170.25 848.68L1172.5 868.21L1172.75 868.36ZM1173.00 868.36L1173.25 867.61L1176 848.68L1176.25 850.4L1176.5 846.35L1177.5 828.99L1178.75 850.69L1179 853.96L1179.5 848.68L1181.25 867.15L1181.5 868.36ZM1181.75 868.36L1182 868.21L1184.25 848.68L1185.25 857.36L1185.5 857.53L1186.5 848.68L1187.75 859.74L1188 859.87L1189.5 848.68L1192 867.34L1192.25 868.36ZM1192.50 868.36L1192.75 868.05L1195 828.99L1196.75 859.37L1197 859.37L1198.75 828.99L1201 868.05L1201.25 868.36ZM1203.50 868.36L1203.75 868.21L1204.5 861.7L1204.75 859.24L1205.75 848.68L1206 848.68L1208 866.04L1208.25 868.05L1210.5 828.99L1212.5 863.71L1212.75 864.91L1214.5 848.68L1215.5 857.95L1215.75 855.03L1217.25 828.99L1219.5 868.05L1219.75 868.36ZM1221.25 868.36L1221.5 866.19L1224.5 828.99L1227.5 866.19L1227.75 868.36ZM1228.00 868.36L1228.25 867.9L1230.5 809.31L1232.75 867.9L1233 868.36ZM1235.75 868.36L1236 866.5L1236.25 861.39L1238.25 809.31L1239 828.84L1239.25 824.2L1240.5 769.95L1242.25 845.9L1242.5 853.62L1243.75 865.96L1244 865.89L1244.25 861.39L1246.25 809.31L1248 854.88L1248.25 859.59L1249.75 848.68L1250 848.68L1251 857.36L1251.25 859.33L1252.75 848.68L1253.75 855.78L1254 855.03L1255.5 828.99L1257.75 868.05L1258 868.36ZM1258.50 868.36L1258.75 867.62L1261 848.68L1263.25 867.62L1263.5 863.71L1265.5 828.99L1266.75 850.69L1267 853.59L1267.25 852.14L1267.5 848.37L1269 809.31L1270 835.35L1270.25 834.78L1270.5 833.33L1270.75 828.99L1271 830.44L1271.25 828.99L1272 833.33L1272.25 833.03L1273.5 789.63L1275.25 850.39L1275.5 853.59L1277.75 866.61L1278 866.54L1279.75 848.68L1280.25 853.78L1280.5 854.88L1282.25 809.31L1283.25 835.35L1283.5 837.67L1285 828.99L1285.75 833.33L1286 833.03L1287.25 789.63L1288.75 841.71L1289 835.35L1290 809.31L1291.25 841.86L1292.5 809.31L1293.25 828.84L1293.5 833.18L1296.25 809.31L1296.5 802.34L1297.5 750.26L1298.75 815.36L1299 815.67L1299.75 789.63L1301 833.03L1302.25 789.63L1303.25 824.35L1303.5 828.3L1303.75 824.2L1305.75 769.95L1307.75 824.2L1308 822.33L1308.5 809.31L1310.25 854.88L1310.5 854.2L1311.25 848.68L1313.75 867.1L1314 868.36ZM1315.00 868.36L1315.25 868.21L1317.5 848.68L1318.75 859.53L1319 859.61L1320 852.32L1320.25 841.4L1322 750.26L1323 802.34L1323.25 812.57L1323.5 809.31L1323.75 806.99L1324.25 789.63L1325 815.67L1325.25 824.2L1326.5 769.95L1327.75 824.2L1328 825.59L1329 809.31L1329.75 821.52L1330 806.53L1331.25 730.58L1333.25 852.1L1333.5 850.69L1334.75 828.99L1335.75 846.35L1336 846.35L1337 828.99L1338.75 859.37L1339 858.07L1340.25 848.68L1342.5 865.59L1342.75 866.04L1344.75 848.68L1345 850.47L1345.25 848.68L1347 861.21L1347.25 859.51L1348.5 848.68L1350.25 863.84L1350.5 861.7L1352 848.68L1354.25 868.21L1354.5 868.36ZM1355.00 868.36L1355.25 868.05L1357.5 828.99L1359.25 859.37L1359.5 863L1361.5 848.68L1361.75 850.47L1362 847.91L1364.25 750.26L1366.75 858.76L1367 868.36ZM1368.50 868.36L1368.75 868.21L1371 848.68L1373.25 868.21L1373.5 868.36ZM1374.00 868.36L1374.25 867.9L1376.5 809.31L1378 848.37L1378.25 846.35L1379.25 828.99L1380.25 846.35L1380.5 850.53L1380.75 848.68L1381.75 856.1L1382 854.88L1383.75 809.31L1386 867.9L1386.25 867.86L1387.75 857.4L1388 850.39L1389.75 789.63L1391.25 841.71L1391.5 837.67L1392 828.99L1393 846.35L1393.25 841.71L1394.75 789.63L1397 867.75L1397.25 868.36ZM1399.00 868.36L1399.25 868.21L1401.5 848.68L1403.75 868.21L1404 868.36ZM1408.50 868.36L1408.75 867.9L1411 809.31L1412.5 848.37L1412.75 852.79L1413.25 848.68L1414.25 856.91L1414.5 855.03L1416 828.99L1417.5 855.03L1417.75 859.26L1418.25 862.78L1418.5 861.7L1420 848.68L1420.25 850.85L1420.5 852.12L1421 848.68L1422.25 857.29L1422.5 855.19L1423.25 848.68L1423.5 850.85L1423.5 868.36Z" fill="#0000ff" stroke="#000085" stroke-width="0.65" stroke-linejoin="miter" stroke-miterlimit="10"/>
<path d="M271 730.3V868.4" stroke="#7f7f7f" stroke-width="1.1" fill="none"/>
<path d="M259.2 730.3H271.5" stroke="#222" stroke-width="1" fill="none"/>
<path d="M259.2 868.4H271.5" stroke="#7f7f7f" stroke-width="1.4" fill="none"/>
<text x="251.8" y="733.0" class="tk" text-anchor="end">9</text>
<text x="251.8" y="871.6" class="tk" text-anchor="end">0</text>
<text x="73.5" y="805.6" class="lb">GSM2481687</text>
<path d="M271.00 1022.30L271 1020.27L273.5 1015.95L277 1022L277.25 1022.3ZM281.00 1022.30L281.25 1022.17L287.25 1015.95L290.25 1019.06L290.5 1018.93L292.75 1009.6L295 1018.93L297.25 1009.6L299 1016.86L300.75 1009.6L302.25 1015.82L302.5 1015.82L304 1009.6L306.5 1019.97L306.75 1019.58L308.5 1015.95L311 1021.14L311.25 1020.36L314 1003.25L316 1015.7L316.25 1016.86L318 1009.6L319.75 1016.86L320 1017.25L322.25 1003.25L324.25 1015.7L324.5 1014.79L325.75 1009.6L328.25 1019.97L328.5 1020.36L331.25 1003.25L332.75 1012.59L333 1012.59L334.5 1003.25L335.75 1011.03L336 1009.35L337.5 996.9L340.5 1021.79L340.75 1022.3ZM341.00 1022.30L341.25 1021.67L344.25 990.55L347.25 1021.67L347.5 1022.3ZM347.50 1022.30L347.75 1022.17L350.75 1015.95L352 1018.54L352.25 1017.9L354.25 1009.6L357 1021.01L357.25 1021.45L361.25 1009.6L365 1020.71L365.25 1021.14L368.75 1015.95L373 1022.25L373.25 1022.3ZM373.25 1022.30L373.5 1021.79L376.5 996.9L379 1017.64L379.25 1018.93L381.5 1009.6L384.25 1021.01L387 1009.6L389.75 1021.01L392.5 1009.6L394.75 1018.93L397 1009.6L399.75 1021.01L400 1021.46L404.25 1015.95L406.25 1018.54L406.5 1017.25L408.75 1003.25L411.75 1021.92L412 1022.3ZM414.00 1022.30L414.25 1022.05L417.25 1009.6L419.75 1019.97L420 1020.62L422.25 1015.95L424.25 1020.1L424.5 1019.97L427 1009.6L429.25 1018.93L431.5 1009.6L434 1019.97L434.25 1018.81L436.75 1003.25L437.75 1009.47L438 1007.84L440 990.55L442.5 1012.16L442.75 1013.75L443.75 1009.6L446.25 1019.97L446.5 1019.58L448.25 1015.95L450.5 1020.62L452.75 1015.95L454.5 1019.58L454.75 1019.97L458.75 1009.6L461.75 1017.38L462 1018.02L464 1015.95L468.5 1020.62L468.75 1020.62L471 1015.95L473.25 1020.62L473.5 1021.01L476.25 1009.6L478.5 1018.93L478.75 1018.81L481.25 1003.25L483.5 1017.25L483.75 1016.86L485.5 1009.6L488.25 1021.01L488.5 1021.65L491.25 1015.95L493.75 1021.14L494 1021.01L496.75 1009.6L499.25 1019.97L499.5 1019.58L501.25 1015.95L502.5 1018.54L502.75 1018.93L505 1009.6L507.75 1021.01L508 1021.65L510.75 1015.95L512.75 1020.1L513 1020.1L515 1015.95L518 1022.17L518.25 1022.3ZM518.50 1022.30L518.75 1022.05L521.75 1009.6L524.75 1022.05L525 1022.11L529.75 1015.95L534.5 1022.11L534.75 1022.3ZM535.25 1022.30L535.5 1021.4L539 1003.25L542 1018.81L542.25 1018.54L543.5 1015.95L546.5 1022.17L546.75 1022.3ZM550.25 1022.30L550.5 1022.14L554.75 1003.25L557.75 1016.59L558 1017.03L559.25 1015.95L566.5 1022.22L566.75 1022.3ZM569.75 1022.30L570 1021.92L573 1003.25L575.25 1017.25L577.5 1003.25L580.25 1020.36L580.5 1019.97L583 1009.6L585.75 1021.01L586 1021.65L588.75 1015.95L590.5 1019.58L590.75 1019.97L593.25 1009.6L595.75 1019.97L596 1019.58L597.75 1015.95L600.25 1021.14L600.5 1020.36L603.25 1003.25L605.5 1017.25L605.75 1017.9L607.75 1009.6L610.25 1019.97L610.5 1020.16L613.75 1015.95L616.5 1019.52L616.75 1018.81L619.25 1003.25L621.75 1018.81L622 1018.93L624.25 1009.6L625.75 1015.82L627.25 1009.6L629.75 1019.97L630 1020.1L632 1015.95L635 1022.17L635.25 1022.3ZM635.50 1022.30L635.75 1022.05L638.75 1009.6L640.5 1016.86L640.75 1017.64L643.25 996.9L645.75 1017.64L646 1016.86L647.75 1009.6L649.75 1017.9L650 1017.25L652.25 1003.25L655.25 1021.92L655.5 1021.01L658.25 1009.6L658.5 1010.64L658.75 1011.03L660 1003.25L662.5 1018.81L662.75 1018.93L665 1009.6L667.5 1019.97L667.75 1020.36L670.5 1003.25L672.75 1017.25L673 1017.9L675 1009.6L678 1022.05L678.25 1022.3ZM678.50 1022.30L678.75 1022.05L681.75 1009.6L684.25 1019.97L684.5 1019.58L686.25 1015.95L688.75 1021.14L689 1021.01L691.75 1009.6L694.5 1021.01L694.75 1021.01L697.5 1009.6L699 1015.82L699.25 1015.82L700.75 1009.6L703.75 1022.05L704 1022.3ZM704.25 1022.30L704.5 1021.67L707.5 990.55L710.5 1021.67L710.75 1022.3ZM712.50 1022.30L712.75 1022.17L715.75 1015.95L717.5 1019.58L717.75 1017.64L720.25 996.9L722 1011.42L722.25 1011.03L723.5 1003.25L724.5 1009.47L724.75 1009.47L725.75 1003.25L728 1017.25L728.25 1017.25L729.25 1015.95L733.5 1021.46L733.75 1021.14L736.25 1015.95L739.25 1022.17L739.5 1022.3ZM740.75 1022.30L741 1021.79L744 996.9L747 1021.79L747.25 1022.3ZM748.75 1022.30L749 1022.17L752 1015.95L753.75 1019.58L754 1019.58L755.75 1015.95L757.75 1020.1L759.75 1015.95L762 1020.62L764.25 1015.95L767.25 1022.17L767.5 1022.3ZM769.25 1022.30L769.5 1022.05L772.5 1009.6L775.5 1022.05L775.75 1021.1L779.25 996.9L782 1015.92L782.25 1017.25L783.75 1015.95L791 1022.22L791.25 1022.3ZM791.50 1022.30L791.75 1021.92L796.5 1009.6L799.25 1016.73L799.5 1016.22L802 1003.25L805 1018.81L805.25 1018.54L806.5 1015.95L809.5 1022.17L809.75 1022.3ZM810.00 1022.30L810.25 1022.17L813.25 1015.95L815.25 1020.1L815.5 1020.16L818.75 1015.95L823.5 1022.11L823.75 1022.17L826.75 1015.95L828.75 1020.1L829 1019.97L831.5 1009.6L834 1019.97L834.25 1019.97L836.75 1009.6L837.75 1013.75L838 1012.59L839.5 1003.25L841.75 1017.25L842 1017.9L844 1009.6L846.75 1021.01L847 1021.14L849.5 1015.95L852 1021.14L852.25 1021.01L855 1009.6L856.25 1014.79L856.5 1014.79L857.75 1009.6L860.5 1021.01L860.75 1021.14L863.25 1015.95L865.75 1021.14L866 1021.14L868.5 1015.95L870.75 1020.62L871 1020.62L873.25 1015.95L876 1021.65L876.25 1021.01L879 1009.6L882 1022.05L882.25 1022.3ZM882.50 1022.30L882.75 1022.17L885.75 1015.95L888 1020.62L890.25 1015.95L893.25 1022.17L893.5 1022.3ZM894.25 1022.30L894.5 1021.4L898 1003.25L901.5 1021.4L901.75 1022.3ZM903.00 1022.30L903.25 1022.17L906.25 1015.95L907.25 1018.02L907.5 1017.9L909.5 1009.6L910.75 1014.79L911 1015.7L913 1003.25L915.5 1018.81L915.75 1019.58L917.5 1015.95L919.75 1020.62L920 1019.97L923.5 1009.6L927 1019.97L927.25 1019.58L929 1015.95L930.75 1019.58L931 1019.97L933.5 1009.6L934.5 1013.75L934.75 1014.14L936.5 1003.25L938.5 1015.7L938.75 1015.82L940.25 1009.6L941.5 1014.79L941.75 1014.79L943 1009.6L945.5 1019.97L945.75 1020.49L949.25 1015.95L952.25 1019.84L952.5 1018.93L954.75 1009.6L957.25 1019.97L957.5 1020.16L960.75 1015.95L965.5 1022.11L965.75 1021.4L969.25 1003.25L972.25 1018.81L972.5 1019.58L974.25 1015.95L976 1019.58L976.25 1019.97L978.75 1009.6L981.5 1021.01L981.75 1020.81L985.5 1015.95L988.75 1020.16L989 1019.97L992.5 1009.6L995.25 1017.75L995.5 1017.51L997 1015.95L1000.75 1019.84L1003.75 1015.95L1006.5 1019.52L1006.75 1018.81L1009.75 1003.25L1012.75 1018.81L1013 1020.1L1015 1015.95L1018 1022.17L1018.25 1022.3ZM1018.75 1022.30L1019 1021.92L1022 1003.25L1024.75 1020.36L1025 1021.65L1027.75 1015.95L1030.25 1021.14L1030.5 1020.36L1033.25 1003.25L1036 1020.36L1036.25 1020.36L1039 1003.25L1040.5 1012.59L1040.75 1012.59L1042.25 1003.25L1042.5 1004.81L1042.75 1003.25L1044.75 1015.7L1046.75 1003.25L1047 1004.81L1047.25 1003.25L1049.25 1015.7L1049.5 1016.86L1051.25 1009.6L1053.5 1018.93L1055.75 1009.6L1058.75 1022.05L1059 1022.3ZM1059.50 1022.30L1059.75 1022.17L1062.75 1015.95L1065.75 1022.17L1066 1022.3ZM1066.25 1022.30L1066.5 1021.92L1069.5 1003.25L1072.25 1020.36L1072.5 1019.97L1075 1009.6L1078 1022.05L1078.25 1022.11L1083 1015.95L1086 1019.84L1086.25 1019.72L1089 996.9L1091.75 1019.72L1092 1019.97L1094.5 1009.6L1097 1019.97L1097.25 1019.58L1099 1015.95L1101.5 1021.14L1101.75 1020.36L1104.5 1003.25L1107.25 1020.36L1107.5 1021.01L1110.25 1009.6L1112 1016.86L1112.25 1017.64L1114.75 996.9L1117.5 1019.72L1117.75 1021.14L1120.25 1015.95L1122 1019.58L1122.25 1019.97L1124.75 1009.6L1126.5 1016.86L1126.75 1016.86L1128.5 1009.6L1131 1019.97L1131.25 1019.58L1133 1015.95L1134.75 1019.58L1136.5 1015.95L1139 1021.14L1139.25 1021.01L1142 1009.6L1144.75 1021.01L1145 1021.14L1147.5 1015.95L1150.25 1021.65L1150.5 1022.05L1153.5 1009.6L1156 1019.97L1156.25 1019.58L1158 1015.95L1159.75 1019.58L1160 1019.97L1162.5 1009.6L1165.5 1022.05L1165.75 1022.3ZM1166.00 1022.30L1166.25 1022.17L1169.25 1015.95L1171.5 1020.62L1173.75 1015.95L1175.5 1019.58L1175.75 1019.97L1178.25 1009.6L1181.25 1022.05L1181.5 1022.3ZM1181.75 1022.30L1182 1022.17L1185 1015.95L1188 1022.17L1188.25 1022.3ZM1188.75 1022.30L1189 1022.17L1192 1015.95L1194.25 1020.62L1196.5 1015.95L1199.5 1022.17L1199.75 1022.3ZM1202.25 1022.30L1205.5 1014.14L1208.75 1009.6L1211.5 1016.4L1213.75 991.46L1216 1011.87L1218.25 1018.67L1220.5 1014.14L1222.75 1005.07L1225 1016.4L1227.75 1022.3ZM1227.75 1022.30L1230.5 1007.33L1232.75 1005.07L1235 998.26L1236.75 996L1238.75 984.66L1240 991.46L1241.75 978.76L1243.25 993.73L1245 1009.6L1247.25 991.46L1249 1002.8L1251 993.73L1252.75 1000.53L1254.5 991.46L1256.25 1002.8L1258.25 978.76L1260 993.73L1261.75 991.46L1263.5 993.73L1265.5 1011.87L1267.25 991.46L1269 1005.07L1270.75 1000.53L1272.75 984.66L1274.5 966.52L1276.25 980.12L1278 991.46L1280.25 984.66L1282.25 998.26L1284 959.71L1286.25 966.52L1288 952.91L1290 922.07L1292.25 961.98L1294 980.12L1296.25 977.86L1298.5 980.12L1300.25 952.91L1302.5 909.83L1304.5 939.31L1306.25 952.91L1308 941.57L1309.75 961.98L1311.25 989.19L1313 952.91L1315.25 916.63L1316.75 966.52L1319 884.89L1322.5 966.52L1324.25 947.02L1326.5 955.18L1329 925.7L1331.25 903.03L1333.5 927.97L1335.75 966.52L1338.5 934.77L1340.75 952.91L1343 947.02L1345.25 959.71L1347.5 980.12L1349.75 977.86L1352 991.46L1354.25 998.26L1356.5 991.46L1359.25 959.71L1361.5 980.12L1363.75 971.96L1366 998.26L1368.25 991.46L1370.5 1002.8L1372.5 978.76L1374.25 991.46L1376 971.96L1378.25 984.66L1380.25 977.86L1382.5 966.52L1384.75 980.12L1387 1007.33L1389.25 993.73L1392 984.66L1394.75 1002.8L1397.25 1020.94L1400.5 984.66L1402.25 993.73L1404.25 984.66L1406.5 1022.3ZM1406.50 1022.30L1408.25 1005.07L1411 1014.14L1414.25 1020.94L1416.5 1016.4L1419.25 1020.94L1421.75 1016.4L1423.25 1022.3Z" fill="#0000ff" stroke="#000085" stroke-width="0.65" stroke-linejoin="miter" stroke-miterlimit="10"/>
<path d="M271 884.2V1022.3" stroke="#7f7f7f" stroke-width="1.1" fill="none"/>
<path d="M259.2 884.2H271.5" stroke="#222" stroke-width="1" fill="none"/>
<path d="M259.2 1022.3H271.5" stroke="#7f7f7f" stroke-width="1.4" fill="none"/>
<text x="251.8" y="886.9" class="tk" text-anchor="end">18</text>
<text x="251.8" y="1025.5" class="tk" text-anchor="end">0</text>
<text x="73.5" y="959.5" class="lb">GSM2481686</text>
<path d="M271.00 1176.24L271 1164.88L272 1153.25L272.5 1159.06L272.75 1159.38L273.5 1153.25L275 1165.51L275.25 1163.84L276.5 1153.25L276.75 1153.25L278.25 1165.51L278.5 1162.46L280.75 1107.26L283 1162.46L283.25 1167.56L285 1153.25L286.75 1167.56L288.5 1153.25L289.5 1161.42L289.75 1161.86L290.75 1153.25L291 1155.4L291.25 1150.19L293 1107.26L295.25 1162.46L295.5 1158.87L297.25 1130.25L298.5 1150.7L298.75 1150.7L300 1130.25L302.25 1167.05L302.5 1165.51L304 1153.25L304.75 1159.38L305 1158.87L306.75 1130.25L307.75 1146.61L308 1146.61L309 1130.25L309.75 1142.52L310 1132.83L311.75 1061.27L313.5 1132.83L313.75 1133.33L315.25 1084.27L316.75 1133.33L317 1131.79L318 1107.26L319.25 1137.93L319.5 1137.93L320.75 1107.26L322.5 1150.19L322.75 1155.92L323 1153.25L324 1163.94L324.25 1165.51L325.75 1153.25L326.75 1161.42L327 1162.96L329 1130.25L330 1146.61L330.25 1150.19L332 1107.26L333.25 1137.93L333.5 1137.93L334.75 1107.26L336.75 1156.32L337 1154.79L338.5 1130.25L340 1154.79L340.25 1154.79L341.75 1130.25L343 1150.7L344.25 1130.25L346.25 1162.96L346.5 1162.96L348.5 1130.25L350.25 1158.87L352 1130.25L353 1146.61L353.25 1143.05L355.25 1061.27L357.25 1143.05L357.5 1146.61L358.5 1130.25L360.75 1167.05L361 1171.01L361.25 1171.65L363.5 1153.25L365.5 1169.6L365.75 1171.1L367.5 1157.22L367.75 1154.79L369.25 1130.25L371 1158.87L371.25 1157.86L373.5 1084.27L375.75 1157.86L376 1161.42L377 1153.25L378 1161.42L378.25 1162.28L379 1153.25L379.5 1159.27L379.75 1157.34L380.25 1153.25L383 1175.73L383.25 1176.24ZM384.50 1176.24L384.75 1175.23L387.5 1130.25L389.5 1162.96L391.5 1130.25L392.5 1146.61L392.75 1146.61L393.75 1130.25L396 1167.05L396.25 1168.72L397.5 1153.25L397.75 1156.34L398 1155.29L398.25 1153.25L399.25 1161.42L399.5 1161.12L400 1157.18L400.25 1153.27L402.5 1061.27L404.5 1143.05L404.75 1150.7L406 1130.25L407 1146.61L407.25 1146.61L408.25 1130.25L409.5 1150.7L409.75 1150.19L411.5 1107.26L413 1144.06L413.25 1146.61L414.25 1130.25L415.75 1154.79L417.25 1130.25L418.5 1150.7L419.75 1130.25L422.25 1171.14L422.5 1173.88L422.75 1171.22L424.25 1153.25L425 1162.23L425.25 1164.66L429.75 1132.06L430 1122.6L431.5 1061.27L432.25 1091.94L432.5 1091.94L433.25 1061.27L434.25 1102.16L434.5 1111.88L436 1038.28L438.25 1148.68L438.5 1154.79L440 1130.25L442.75 1175.23L443 1175.23L445.5 1153.25L447.75 1173.03L448 1173.69L450.5 1153.25L450.75 1155.29L451 1155.23L451.25 1153.25L453 1167.12L453.25 1167.56L455 1153.25L456.5 1165.51L456.75 1162.46L459 1107.26L461.25 1162.46L461.5 1163.47L462.75 1153.25L464.75 1169.6L465 1167.05L467.25 1130.25L469.5 1167.05L469.75 1165.51L471.25 1153.25L471.75 1157.34L472 1157.83L472.5 1153.25L473.25 1160.12L473.5 1161.42L474.5 1153.25L475.75 1163.47L476 1161.49L476.25 1157.86L478.5 1084.27L479.75 1125.15L480 1119.53L480.5 1107.26L481 1119.53L481.25 1122.6L482.75 1061.27L484.5 1132.83L484.75 1142.52L485.5 1130.25L487.75 1167.05L488 1169.6L488.25 1167.56L488.5 1165.01L489.5 1153.25L489.75 1155.29L490 1153.25L492.75 1175.73L493 1176.24ZM494.25 1176.24L494.5 1175.23L497.25 1130.25L500 1175.23L502.75 1130.25L503 1134.34L503.25 1137.93L504.5 1107.26L506 1144.06L506.25 1146.61L507.25 1130.25L508.75 1154.79L510.25 1130.25L511.75 1154.79L512 1154.79L513.5 1130.25L515.5 1162.96L515.75 1161.42L516.75 1153.25L517.5 1159.38L517.75 1158.87L519.5 1130.25L521.25 1158.87L521.5 1159.38L522.25 1153.25L523.25 1161.42L523.5 1158.87L525.25 1130.25L527.25 1162.96L527.5 1161.42L528.5 1153.25L530.25 1167.56L532 1153.25L532.75 1159.38L533 1160.58L533.75 1153.25L535 1165.46L535.25 1162.46L537.5 1107.26L539 1144.06L539.25 1146.61L540.25 1130.25L541.5 1150.7L541.75 1150.19L543.5 1107.26L544.75 1137.93L545 1137.93L546.25 1107.26L547.5 1137.93L547.75 1142.52L548.5 1130.25L551 1171.14L551.25 1169.83L551.75 1165.69L552 1162.96L554 1130.25L555.75 1158.87L557.5 1130.25L559.25 1158.87L559.5 1159.38L560.25 1153.25L563 1175.73L563.25 1176.24ZM564.00 1176.24L564.25 1174.22L567 1084.27L568.5 1133.33L568.75 1138.43L569.25 1130.25L570.25 1146.61L570.5 1144.06L572 1107.26L573.75 1150.19L574 1150.7L575.25 1130.25L576.25 1146.61L576.5 1144.06L578 1107.26L579.25 1137.93L579.5 1137.93L580.75 1107.26L582 1137.93L582.25 1142.52L583 1130.25L585 1162.96L585.25 1162.46L587.5 1107.26L589 1144.06L589.25 1146.61L590.25 1130.25L593 1175.23L593.25 1175.23L596 1130.25L597.25 1150.7L597.5 1153.25L597.75 1155.92L598 1157.86L600.25 1084.27L602.25 1149.69L602.5 1150.7L603.75 1130.25L605.25 1154.79L605.5 1148.41L608.25 1061.27L610.25 1124.65L610.5 1131.79L611.5 1107.26L612.75 1137.93L613 1142.52L613.75 1130.25L616 1167.05L616.25 1169.6L618.25 1153.25L618.75 1157.34L619 1149.69L621 1084.27L623.5 1166.04L626 1084.27L628.25 1157.86L628.5 1161.42L629.5 1153.25L630.25 1159.38L630.5 1158.87L632.25 1130.25L633.25 1146.61L633.5 1146.61L634.5 1130.25L635.5 1146.61L635.75 1144.06L637.25 1107.26L639.5 1162.46L639.75 1163.47L641 1153.25L643 1169.6L643.25 1167.05L645.5 1130.25L647 1154.79L647.25 1150.19L649 1107.26L650 1131.79L650.25 1131.79L651.25 1107.26L651.5 1107.26L652.75 1137.93L653 1142.52L653.75 1130.25L654 1134.34L654.25 1134.34L654.5 1130.25L656.5 1162.96L656.75 1161.76L657.5 1153.25L657.75 1156.09L658 1155.29L658.25 1153.25L659.75 1165.51L660 1163.63L661.25 1153.25L663 1167.78L663.25 1166.04L665.75 1084.27L667.25 1133.33L667.5 1136.59L668.25 1130.25L668.75 1134.48L669 1131.79L670 1107.26L671.75 1150.19L673.5 1107.26L676.25 1174.72L676.5 1176.24ZM677.50 1176.24L677.75 1176.14L680 1153.25L681.75 1171.05L682 1168.59L684.5 1107.26L687 1168.59L687.25 1171.07L688.75 1153.25L690.25 1171.07L690.5 1171.14L693 1130.25L694.25 1150.7L694.5 1150.19L696.25 1107.26L697.75 1144.06L698 1146.61L699 1130.25L700.75 1158.87L702.5 1130.25L705 1171.14L707.5 1130.25L710.25 1175.23L710.5 1176.24ZM711.00 1176.24L711.25 1176.15L714 1153.25L716 1169.9L716.25 1170.1L716.75 1164.48L717 1161.58L719.5 1107.26L721.75 1156.15L722 1157.34L722.5 1153.25L722.75 1155.29L723 1156.3L723.25 1153.25L724.25 1165.47L724.5 1167.56L726.25 1153.25L728.5 1171.65L728.75 1168.59L731.25 1107.26L733.25 1156.32L733.5 1155.54L733.75 1153.25L735.25 1166.99L735.5 1162.96L737.5 1130.25L740.25 1175.23L740.5 1176.24ZM741.00 1176.24L741.25 1175.23L744 1130.25L745 1146.61L745.25 1150.19L747 1107.26L749 1156.32L749.25 1158.8L749.75 1153.25L751 1167.14L751.25 1162.46L753.5 1107.26L756 1168.59L756.25 1173.69L758.75 1153.25L761.5 1175.73L761.75 1173.73L764 1153.25L764.25 1154.79L765.75 1130.25L766.75 1146.61L767 1150.19L768.75 1107.26L769.25 1119.53L769.5 1112.38L770.75 1061.27L772.75 1143.05L773 1150.7L774.25 1130.25L775.75 1154.79L776 1157.86L778.25 1084.27L780.5 1157.86L780.75 1164.81L781.75 1153.25L783 1167.69L783.25 1168.23L783.5 1166.09L783.75 1162.46L786 1107.26L788 1156.32L788.25 1155.71L788.5 1153.25L788.75 1155.71L789 1155.29L789.25 1153.25L790.75 1165.51L791 1164.2L792 1153.25L792.75 1161.46L793 1163.47L794.25 1153.25L795.5 1163.47L795.75 1165.18L797 1153.25L797.5 1158.02L797.75 1157.34L798.25 1153.25L799.75 1165.51L800 1162.69L800.75 1153.25L801.75 1165.83L802 1167.05L804.25 1130.25L806.75 1171.14L807 1174.22L809.75 1084.27L811.5 1141.51L811.75 1138.43L812.25 1130.25L814.5 1167.05L814.75 1166.59L815 1162.96L817 1130.25L818.5 1154.79L820 1130.25L822.75 1175.23L823 1174.77L824.25 1164.99L824.5 1157.86L826.75 1084.27L828.75 1149.69L829 1144.06L830.5 1107.26L831.5 1131.79L831.75 1131.79L832.75 1107.26L834.75 1156.32L835 1161.42L836 1153.25L838.75 1175.73L839 1176.24ZM842.00 1176.24L842.25 1175.23L845 1130.25L847 1162.96L847.25 1162.46L849.5 1107.26L851.75 1162.46L852 1163.47L853.25 1153.25L855.25 1169.6L855.5 1167.01L858.25 1107.26L860.5 1156.15L860.75 1161.24L861.5 1153.25L863 1169.23L863.25 1171.65L865.5 1153.25L867.25 1167.56L869 1153.25L869.25 1155.29L869.5 1156.04L869.75 1153.25L870.75 1164.41L871 1165.92L873.5 1153.25L874.5 1158.32L874.75 1155.6L876.75 1130.25L879 1158.77L879.25 1156.32L881.25 1107.26L882.25 1131.79L882.5 1136.41L884.5 1038.28L886 1111.88L886.25 1119.53L886.75 1107.26L889.5 1174.72L889.75 1176.24ZM893.25 1176.24L893.5 1174.72L896.25 1107.26L897.5 1137.93L897.75 1137.93L899 1107.26L900.75 1150.19L901 1154.79L902.5 1130.25L903.75 1150.7L904 1150.7L905.25 1130.25L908 1175.23L908.25 1176.24ZM908.25 1176.24L908.5 1174.86L910.75 1153.25L911.75 1162.85L912 1161.42L913 1153.25L914 1161.42L914.25 1160.55L915 1153.25L915.5 1158.12L915.75 1158.87L917.5 1130.25L918.75 1150.7L919 1153.25L920.75 1168.05L921 1169.6L923 1153.25L923.25 1153.25L925 1167.3L925.25 1167.58L926.5 1153.25L926.75 1156.11L927 1157.34L927.5 1153.25L930.25 1175.73L930.5 1176.24ZM931.25 1176.24L931.5 1175.23L934.25 1130.25L935 1142.52L935.25 1141.51L937 1084.27L939 1149.69L939.25 1146.61L940.25 1130.25L942.75 1171.14L943 1174.72L945.75 1107.26L947 1137.93L947.25 1133.33L948.75 1084.27L951.25 1166.04L951.5 1171.65L953.75 1153.25L956.5 1175.73L959.25 1153.25L959.75 1157.34L960 1156.3L960.25 1153.25L961.5 1168.51L961.75 1171.14L964.25 1130.25L966.25 1162.96L966.5 1162.46L968.75 1107.26L970.75 1156.32L971 1155.41L971.25 1153.25L972.25 1161.89L972.5 1153.27L974.75 1061.27L977 1153.27L977.25 1155.29L977.5 1153.25L980 1173.69L980.25 1174.22L983 1084.27L985.5 1166.04L985.75 1162.96L987.75 1130.25L989.25 1154.79L989.5 1156.32L991.5 1107.26L993 1144.06L993.25 1146.61L994.25 1130.25L995.5 1150.7L995.75 1150.19L997.5 1107.26L1000 1168.59L1000.25 1166.04L1002.75 1084.27L1004 1125.15L1004.25 1125.15L1005.5 1084.27L1006.25 1108.8L1006.5 1113.6L1007.25 1123.1L1007.5 1125.15L1008.75 1084.27L1011.5 1174.22L1011.75 1168.59L1014.25 1107.26L1016.25 1156.32L1016.5 1158.87L1018.25 1130.25L1019.75 1154.79L1020 1156.32L1022 1107.26L1023.5 1144.06L1025 1107.26L1026.75 1150.19L1027 1155.45L1027.25 1153.25L1027.5 1150.7L1028.75 1130.25L1030.75 1162.96L1031 1162.46L1033.25 1107.26L1035.5 1162.46L1035.75 1162.96L1037.75 1130.25L1039.25 1154.79L1039.5 1150.19L1041.25 1107.26L1041.75 1119.53L1042.25 1107.26L1043 1125.66L1043.25 1125.66L1044 1107.26L1044.75 1125.66L1045.5 1107.26L1046 1119.53L1046.25 1119.53L1046.75 1107.26L1048 1137.93L1048.25 1142.52L1049 1130.25L1050.5 1154.79L1050.75 1154.79L1052.25 1130.25L1053.75 1154.79L1054 1153.25L1055.25 1163.69L1055.5 1163.47L1056.75 1153.25L1057.5 1159.38L1057.75 1158.36L1058.25 1153.25L1060.25 1173.72L1060.5 1176.24ZM1061.00 1176.24L1061.25 1175.23L1064 1130.25L1065.25 1150.7L1065.5 1150.19L1067.25 1107.26L1069 1150.19L1070.75 1107.26L1071.75 1131.79L1072 1131.79L1073 1107.26L1074.25 1137.93L1074.5 1137.93L1075.75 1107.26L1076.75 1131.79L1077 1133.33L1078.5 1084.27L1079.75 1125.15L1080 1133.3L1080.75 1130.25L1081 1125.66L1081.75 1107.26L1083 1137.93L1083.25 1137.93L1084.5 1107.26L1085.75 1137.93L1086 1137.93L1087.25 1107.26L1089.5 1162.46L1089.75 1166.04L1092.25 1084.27L1093.75 1133.33L1094 1137.93L1095.25 1107.26L1097.5 1162.46L1099.75 1107.26L1102 1162.46L1102.25 1168.53L1103.5 1153.25L1104.25 1162.42L1104.5 1163.47L1105.75 1153.25L1106.75 1161.42L1107 1161.52L1107.75 1153.25L1108.25 1158.76L1108.5 1158.87L1110.25 1130.25L1111.75 1154.79L1112 1154.79L1113.5 1130.25L1114.75 1150.7L1115 1150.7L1116.25 1130.25L1118 1158.87L1118.25 1161.42L1119.25 1153.25L1119.75 1157.34L1120 1158.73L1120.5 1153.25L1121.25 1161.47L1121.5 1161.58L1124 1107.26L1126 1150.72L1126.25 1155.72L1127.5 1168.06L1127.75 1169.6L1129.75 1153.25L1132.5 1175.73L1135.25 1153.25L1136 1159.38L1136.25 1160.09L1137 1153.25L1137.25 1154.79L1138.75 1130.25L1140.75 1162.96L1141 1163.53L1142.25 1153.25L1142.5 1155.3L1142.75 1149.69L1144.75 1084.27L1146.5 1141.51L1146.75 1137.93L1148 1107.26L1149.5 1144.06L1149.75 1148.41L1152.5 1061.27L1154.5 1124.65L1154.75 1131.79L1155.75 1107.26L1158.25 1168.59L1158.5 1168.59L1161 1107.26L1163.5 1168.59L1163.75 1171.65L1166 1153.25L1166.75 1159.38L1167 1159.4L1167.5 1153.25L1169.25 1174.8L1169.5 1176.24ZM1170.00 1176.24L1170.25 1175.73L1173 1153.25L1174 1161.42L1174.25 1161.69L1175.25 1153.25L1176.5 1163.81L1176.75 1162.96L1178.75 1130.25L1180 1150.7L1180.25 1153.25L1180.75 1158.05L1181 1158.87L1182.75 1130.25L1185.5 1175.23L1185.75 1176.24ZM1185.75 1176.24L1186 1175.73L1188.75 1153.25L1191.5 1175.73L1191.75 1176.24ZM1192.50 1176.24L1192.75 1174.22L1195.5 1084.27L1197.75 1157.86L1198 1158.87L1199.75 1130.25L1202.5 1175.23L1202.75 1176.24ZM1204.00 1176.24L1204.25 1175.23L1207 1130.25L1209 1162.96L1209.25 1157.86L1211.5 1084.27L1213.25 1141.51L1213.5 1146.61L1214.5 1130.25L1216 1154.79L1216.25 1150.72L1218.25 1107.26L1220.75 1161.58L1221 1161.99L1221.75 1153.25L1223.5 1173.66L1223.75 1171.65L1226 1153.25L1228.25 1171.65L1230.5 1153.25L1233.25 1175.73L1233.5 1176.24ZM1234.00 1176.24L1234.25 1172.45L1237.25 1107.26L1239.25 1150.72L1239.5 1154.79L1241 1130.25L1242.75 1158.87L1243 1158.36L1243.5 1153.25L1244.5 1163.47L1244.75 1165.51L1246.25 1153.25L1246.75 1157.34L1247 1157.24L1247.5 1153.25L1247.75 1155.24L1248 1154.79L1249.5 1130.25L1250 1138.43L1250.25 1133.33L1251.75 1084.27L1253.75 1149.69L1254 1146.61L1255 1130.25L1256.25 1150.7L1256.5 1153.25L1257.25 1160.69L1257.5 1161.42L1258.5 1153.25L1261.25 1175.73L1261.5 1176.24ZM1263.50 1176.24L1263.75 1174.45L1266 1153.25L1266.25 1155.6L1266.5 1155.29L1266.75 1153.25L1267.75 1161.42L1268 1161.3L1268.25 1157.86L1270.5 1084.27L1272.75 1157.86L1273 1162.96L1275 1130.25L1276.75 1158.87L1277 1161.17L1278 1153.25L1278.5 1157.21L1278.75 1155.29L1279 1153.25L1280.25 1163.47L1280.5 1157.86L1282.75 1084.27L1284.5 1141.51L1284.75 1146.92L1287.25 1038.28L1289.5 1136.06L1289.75 1146.61L1290.75 1130.25L1292 1150.7L1292.25 1153.25L1293 1161.21L1293.25 1162.96L1295.25 1130.25L1296.75 1154.79L1297 1155.64L1297.25 1153.25L1297.5 1154.79L1299 1130.25L1300.75 1158.87L1301 1156.32L1303 1107.26L1304.5 1144.06L1304.75 1149.69L1306.75 1084.27L1309 1157.86L1311.25 1084.27L1313.5 1157.86L1313.75 1154.79L1315.25 1130.25L1316.5 1150.7L1316.75 1150.19L1318.5 1107.26L1319.75 1137.93L1320 1137.93L1321.25 1107.26L1323.5 1162.46L1323.75 1161.67L1324.5 1153.25L1324.75 1150.19L1326.5 1107.26L1327.75 1137.93L1328 1137.93L1329.25 1107.26L1331.5 1162.46L1331.75 1161.72L1332.5 1153.25L1334.5 1175.84L1334.75 1174.22L1337.5 1084.27L1339.5 1149.69L1339.75 1146.61L1340.75 1130.25L1343 1167.05L1343.25 1157.79L1346 1038.28L1348.5 1146.92L1348.75 1146.61L1349.75 1130.25L1351.25 1154.79L1351.5 1154.79L1353 1130.25L1354.5 1154.79L1354.75 1157.36L1355.25 1153.25L1356.75 1165.6L1357 1167.56L1358.75 1153.25L1361.5 1175.73L1361.75 1176.24ZM1362.50 1176.24L1362.75 1174.6L1364.5 1153.25L1364.75 1156.3L1365 1157.34L1365.5 1153.25L1368.25 1175.73L1368.5 1176.24ZM1369.00 1176.24L1369.25 1175.23L1372 1130.25L1373.5 1154.79L1373.75 1155.33L1374 1153.25L1376 1169.91L1376.25 1171.14L1378.75 1130.25L1380.25 1154.79L1380.5 1156.32L1382.5 1107.26L1384.25 1150.19L1384.5 1155.36L1384.75 1157.46L1385 1156.32L1387 1107.26L1389.75 1174.72L1390 1175.23L1392.75 1130.25L1394.5 1158.87L1394.75 1162.46L1397 1107.26L1398.75 1150.19L1400.5 1107.26L1402.5 1156.32L1402.75 1154.79L1404.25 1130.25L1407 1175.23L1407.25 1176.24ZM1407.50 1176.24L1407.75 1174.72L1410.5 1107.26L1412.5 1156.32L1412.75 1154.79L1414.25 1130.25L1416.25 1162.96L1418.25 1130.25L1420.5 1167.05L1420.75 1165.51L1422.25 1153.25L1423.5 1163.47L1423.5 1176.24Z" fill="#0000ff" stroke="#000085" stroke-width="0.65" stroke-linejoin="miter" stroke-miterlimit="10"/>
<path d="M271 1038.1V1176.2" stroke="#7f7f7f" stroke-width="1.1" fill="none"/>
<path d="M259.2 1038.1H271.5" stroke="#222" stroke-width="1" fill="none"/>
<path d="M259.2 1176.2H271.5" stroke="#7f7f7f" stroke-width="1.4" fill="none"/>
<text x="251.8" y="1040.8" class="tk" text-anchor="end">7</text>
<text x="251.8" y="1179.4" class="tk" text-anchor="end">0</text>
<text x="73.5" y="1113.5" class="lb">GSM2481685</text>
<path d="M272.75 1330.18L273 1329.31L275.75 1290.81L277.75 1318.81L278 1321L279.5 1310.5L281 1321L281.25 1320.8L282.25 1310.5L282.5 1311.81L284 1290.81L285.5 1311.81L285.75 1311.81L287.25 1290.81L289 1315.31L289.25 1315.54L290 1310.5L290.25 1312.18L290.5 1312.25L290.75 1310.5L293.5 1329.75L293.75 1330.18ZM294.25 1330.18L294.5 1328.88L297.25 1271.13L299 1307.88L299.25 1304.81L300.25 1290.81L301.25 1304.81L301.5 1302.63L303 1271.13L304.75 1307.88L305 1312.44L305.75 1318.26L306 1319.25L307.25 1310.5L308.5 1319.25L308.75 1318.81L310.75 1290.81L312.75 1318.81L313 1321L314.5 1310.5L315 1314L315.25 1314.37L315.75 1310.5L318.25 1329.85L318.5 1330.18ZM319.25 1330.18L319.5 1328.88L322.25 1271.13L324 1307.88L324.25 1312.38L324.75 1316.16L325 1315.75L325.75 1310.5L326.5 1315.75L326.75 1315.31L328.5 1290.81L330 1311.81L330.25 1306.58L332.5 1212.08L334.25 1285.58L334.5 1294.31L334.75 1290.81L336 1308.31L336.25 1308.31L337.5 1290.81L339.5 1318.81L339.75 1321.26L341.25 1310.5L341.5 1312.29L341.75 1312.25L342 1310.5L344.25 1326.25L344.5 1325.72L346.75 1310.5L349 1325.72L349.25 1324.87L349.75 1321.28L350 1318.81L352 1290.81L354.5 1325.81L354.75 1328.02L357.5 1231.77L358.75 1275.52L359 1272.45L359.75 1251.45L361 1286.45L361.25 1286.88L362 1271.13L363 1292.13L363.25 1293.45L364.75 1251.45L367 1314.45L367.25 1321L368.75 1310.5L369.25 1314L369.5 1311.81L371 1290.81L373 1318.81L373.25 1319.43L374.5 1310.5L374.75 1310.52L377 1231.77L379.5 1319.27L379.75 1322.75L381.5 1310.5L383 1321L383.25 1321L384.75 1310.5L387.25 1328L387.5 1328.88L390.25 1271.13L392.75 1323.63L393 1322.31L395.25 1290.81L396.75 1311.81L397 1310.5L398.25 1323.42L398.5 1323.63L401 1271.13L402.5 1302.63L402.75 1307.25L405 1251.45L407 1301.05L407.25 1304.81L408.25 1290.81L409.5 1308.31L409.75 1310.5L411.5 1325.98L411.75 1328L414.25 1310.5L417 1329.75L417.25 1328.45L420 1251.45L421.25 1286.45L421.5 1286.45L422.75 1251.45L425.25 1321.45L425.5 1326.25L427.75 1310.5L428 1312.25L428.25 1310.5L430 1324.98L430.25 1324.24L432.25 1310.5L432.75 1313.93L433 1307.45L435 1251.45L437 1307.45L437.25 1306.33L439.5 1192.4L441 1268.35L441.25 1265.45L441.75 1251.45L444 1314.45L444.25 1315.31L446 1290.81L447.75 1315.31L448 1313.18L448.25 1310.5L448.5 1313.13L450.5 1271.13L453.25 1328.88L453.5 1329.75L456.25 1310.5L457.25 1317.5L457.5 1316.16L458.25 1310.5L458.75 1314.28L459 1314L459.5 1310.5L460.5 1317.5L460.75 1316.9L461.5 1310.5L463.75 1329.72L464 1330.18ZM466.50 1330.18L466.75 1329.31L469.5 1290.81L472.25 1329.31L472.5 1330.18ZM473.00 1330.18L473.25 1326.93L476.25 1271.13L478.25 1308.33L478.5 1311.81L480 1290.81L482.5 1325.81L482.75 1325.52L484.75 1310.5L485.75 1318.01L486 1318.81L488 1290.81L489.75 1315.31L490 1315.31L491.75 1290.81L494.5 1329.31L494.75 1330.18ZM494.75 1330.18L495 1329.41L495.25 1327.31L495.5 1323.63L498 1271.13L500.25 1318.38L500.5 1317.54L501.25 1310.5L501.5 1312.25L501.75 1310.5L503.5 1322.75L503.75 1323.63L506.25 1271.13L508.75 1323.63L509 1328.47L509.25 1330.18ZM509.50 1330.18L509.75 1328.88L512.5 1271.13L514.5 1313.13L514.75 1311.81L516.25 1290.81L519 1329.31L519.25 1330.18ZM521.50 1330.18L521.75 1329.75L524.5 1310.5L527 1328L527.25 1328L529.75 1310.5L532 1326.25L532.25 1326.75L532.75 1323.14L533 1318.38L535.25 1271.13L537.25 1313.13L537.5 1311.81L539 1290.81L540.25 1308.31L540.5 1307.45L542.5 1251.45L544.5 1307.45L544.75 1302.63L546.25 1271.13L548.5 1318.38L548.75 1321L550.25 1310.5L551.5 1319.25L551.75 1319.27L554.25 1231.77L557 1328.02L557.25 1330.18ZM557.25 1330.18L557.5 1329.75L560.25 1310.5L563 1329.75L563.25 1329.31L566 1290.81L567.25 1308.31L567.5 1308.31L568.75 1290.81L571.25 1325.81L571.5 1327.58L571.75 1321.45L574.25 1251.45L576 1300.45L576.25 1297.38L577.5 1271.13L578.5 1292.13L578.75 1292.13L579.75 1271.13L581.5 1307.88L581.75 1308.31L583 1290.81L584.5 1311.81L584.75 1312.62L585 1310.5L585.25 1308.31L586.5 1290.81L588.25 1315.31L588.5 1315.29L589 1310.5L590 1320.08L590.25 1314.45L592.5 1251.45L594.75 1314.45L595 1320.94L596 1313.98L596.25 1311.81L597.75 1290.81L599.5 1315.31L599.75 1318.52L600.5 1310.5L601.5 1321.19L601.75 1318.81L603.75 1290.81L605.75 1318.81L606 1321.22L606.25 1323.37L606.5 1322.75L608.25 1310.5L610 1322.75L610.25 1322.31L612.5 1290.81L614.75 1322.31L615 1318.38L617.25 1271.13L618.75 1302.63L619 1302.63L620.5 1271.13L622 1302.63L622.25 1302.63L623.75 1271.13L626.25 1323.63L626.5 1326.77L626.75 1328.81L627 1328.78L629 1310.5L629.5 1315.07L629.75 1314.45L632 1251.45L634.25 1314.45L634.5 1317.5L635.5 1310.5L637 1321L637.25 1322.73L638.75 1310.5L639.75 1318.65L640 1310.52L642.25 1231.77L644.25 1301.77L644.5 1307.25L646.75 1251.45L648.5 1294.85L648.75 1297.38L650 1271.13L651 1292.13L651.25 1290.81L652.5 1308.31L653.75 1290.81L654.5 1301.31L654.75 1301.31L655.5 1290.81L656.75 1308.31L657 1308.31L658.25 1290.81L658.5 1294.31L658.75 1294.31L659 1290.81L661.25 1322.31L661.5 1323.95L662.75 1314.34L663 1311.81L664.5 1290.81L667.25 1329.31L667.5 1330.18ZM668.25 1330.18L668.5 1328.45L671.25 1251.45L673.5 1314.45L675.75 1251.45L678.25 1321.45L678.5 1322.7L680.75 1310.5L681.5 1314.57L681.75 1315.05L682.25 1310.5L684.25 1328.72L684.5 1330.18ZM685.75 1330.18L686 1329.12L686.25 1326.46L686.5 1321.45L689 1251.45L691 1307.45L691.25 1312.54L691.5 1310.5L692.5 1318.68L692.75 1318.38L695 1271.13L697.25 1318.38L697.5 1317L698.25 1310.5L698.5 1312.67L698.75 1312.25L699 1310.5L700 1317.5L700.25 1313.13L702.25 1271.13L704 1307.88L705.75 1271.13L707.75 1313.13L708 1317.2L708.75 1310.5L709.25 1314.97L709.5 1315.75L710.25 1310.5L711.5 1319.25L711.75 1318.24L712.75 1310.5L713 1312.43L713.25 1311.81L714.75 1290.81L716.75 1318.81L717 1318.81L719 1290.81L720.5 1311.81L720.75 1309.8L722.5 1290.81L724.25 1309.8L724.5 1307.88L726.25 1271.13L728 1307.88L728.25 1310.5L729.5 1319.14L729.75 1317.5L730.75 1310.5L731.75 1317.5L732 1314.45L734.25 1251.45L736.5 1314.45L736.75 1315.31L738.5 1290.81L740.25 1315.31L742 1290.81L744.25 1322.31L744.5 1322.24L746 1310.5L746.25 1308.31L747.5 1290.81L749.75 1322.31L752 1290.81L754.25 1322.31L754.5 1324.4L756 1310.5L756.5 1315.13L756.75 1313.13L758.75 1271.13L760.25 1302.63L760.5 1307.45L762.5 1251.45L764.5 1307.45L764.75 1314.42L765.5 1320.31L765.75 1319.25L767 1310.5L768.5 1321L768.75 1318.81L770.75 1290.81L772.75 1318.81L774.75 1290.81L776.75 1318.81L777 1319.25L778.25 1310.5L778.5 1312.18L778.75 1310.5L780.5 1322.25L780.75 1320.58L783.25 1212.08L785.75 1320.58L786 1330.18ZM786.75 1330.18L787 1329.31L789.75 1290.81L791.5 1315.31L793.25 1290.81L794.5 1308.31L794.75 1308.31L796 1290.81L797.75 1315.31L798 1313.13L800 1271.13L802.5 1323.63L802.75 1326.25L803.5 1321L803.75 1318.4L804.5 1310.5L804.75 1312.25L805 1310.5L807 1324.5L807.25 1323.63L809.75 1271.13L811 1297.38L811.25 1293.45L812.75 1251.45L814.75 1307.45L815 1304.81L816 1290.81L817.25 1308.31L817.5 1307.45L819.5 1251.45L822 1321.45L822.25 1321L823.75 1310.5L825.75 1324.5L826 1322.31L828.25 1290.81L830 1315.31L830.25 1313.13L832.25 1271.13L834 1307.88L834.25 1309.8L836 1290.81L839.5 1328.79L839.75 1330.18ZM842.25 1330.18L842.5 1329.54L845 1310.5L846 1318.12L846.25 1317.08L848.75 1212.08L851.25 1317.08L851.5 1325.81L854 1290.81L856.5 1325.81L856.75 1328.96L857.25 1324.35L857.5 1317.08L860 1212.08L862.75 1327.58L863 1325.81L865.5 1290.81L866.25 1301.31L866.5 1303.68L868.5 1271.13L871.25 1315.89L871.5 1319.73L872.5 1310.5L874 1324.35L874.25 1321.45L876.75 1251.45L878.75 1307.45L879 1302.63L880.5 1271.13L882.75 1318.38L883 1318.81L885 1290.81L886 1304.81L886.25 1307.88L888 1271.13L889.25 1297.38L889.5 1293.02L891.25 1231.77L893.5 1310.52L893.75 1308.31L895 1290.81L897 1318.81L897.25 1317.25L898 1310.5L900 1328.51L900.25 1330.18ZM900.50 1330.18L900.75 1328.41L903 1312.29L903.25 1309.8L905 1290.81L908.5 1328.79L908.75 1330.18ZM910.00 1330.18L910.25 1328.88L913 1271.13L914.5 1302.63L914.75 1302.63L916.25 1271.13L917.5 1297.38L917.75 1301.31L918.5 1290.81L919.5 1304.81L919.75 1302.63L921.25 1271.13L923.25 1313.13L923.5 1312.63L923.75 1310.5L924 1308.31L925.25 1290.81L927.25 1318.81L927.5 1318.38L929.75 1271.13L930.5 1286.88L930.75 1286.45L932 1251.45L933.75 1300.45L934 1301.66L935.75 1290.81L942 1329.56L942.25 1330.18ZM945.50 1330.18L945.75 1329.31L948.5 1290.81L950.25 1315.31L950.5 1313.13L952.5 1271.13L954.75 1318.38L955 1321.8L955.75 1327.45L956 1328L958.5 1310.5L958.75 1312.25L959 1312.95L959.25 1310.5L961 1327.65L961.25 1321.45L963.75 1251.45L966.5 1328.45L966.75 1330.18ZM967.75 1330.18L968 1328.88L970.75 1271.13L972.75 1313.13L973 1312.7L973.25 1310.5L973.5 1312.51L975.5 1290.81L979 1328.79L979.25 1330.18ZM980.00 1330.18L980.25 1329.12L983 1310.5L983.25 1310.5L986 1329.75L986.25 1329.6L986.5 1327.48L986.75 1321.45L989.25 1251.45L991.5 1314.45L991.75 1311.81L993.25 1290.81L995.5 1322.31L997.75 1290.81L999 1308.31L999.25 1308.31L1000.5 1290.81L1002.75 1322.31L1005 1290.81L1006.5 1311.81L1006.75 1311.81L1008.25 1290.81L1009.5 1308.31L1009.75 1308.31L1011 1290.81L1012.75 1315.31L1013 1315.46L1013.5 1310.5L1014.25 1317.95L1014.5 1313.13L1016.5 1271.13L1018.5 1313.13L1018.75 1315.31L1020.5 1290.81L1022 1311.81L1022.25 1310.5L1022.5 1312.67L1022.75 1311.81L1024.25 1290.81L1025.75 1311.81L1027.25 1290.81L1029.25 1318.81L1029.5 1314.45L1031.75 1251.45L1034.5 1328.45L1034.75 1326.45L1036 1315.06L1036.25 1311.81L1037.75 1290.81L1039.75 1318.81L1040 1314.45L1042.25 1251.45L1042.5 1258.45L1042.75 1251.45L1043.75 1279.45L1044 1284.27L1045.5 1231.77L1047.5 1301.77L1047.75 1297.38L1049 1271.13L1051 1313.13L1051.25 1312.58L1051.5 1310.5L1053 1323.01L1053.25 1318.38L1055.5 1271.13L1057.75 1318.38L1058 1317.47L1058.75 1310.5L1059.5 1317.47L1059.75 1317.5L1060.75 1310.5L1062.75 1324.5L1063 1321.45L1065.5 1251.45L1066.75 1286.45L1067 1292.13L1068 1271.13L1070.25 1318.38L1070.5 1319.27L1073 1231.77L1074.75 1293.02L1075 1297.38L1076.25 1271.13L1078.5 1318.38L1078.75 1319.27L1081.25 1231.77L1082.75 1284.27L1083 1292.13L1084 1271.13L1085.25 1297.38L1085.5 1300.45L1087.25 1251.45L1089 1300.45L1089.25 1301.31L1090 1290.81L1092.75 1329.31L1093 1330.18ZM1093.75 1330.18L1094 1328.45L1096.75 1251.45L1099.25 1321.45L1099.5 1322.31L1101.75 1290.81L1103.5 1315.31L1103.75 1317.88L1104.25 1322.8L1104.5 1322.31L1106.75 1290.81L1108.25 1311.81L1108.5 1313.88L1109 1317.26L1109.25 1313.13L1111.25 1271.13L1113 1307.88L1113.25 1311.81L1114.75 1290.81L1116.25 1311.81L1116.5 1307.45L1118.5 1251.45L1120.5 1307.45L1120.75 1313.98L1121.25 1310.5L1121.5 1312.24L1121.75 1310.52L1124 1231.77L1126 1301.77L1126.25 1310.5L1127.25 1317.8L1127.5 1319.02L1130.75 1290.81L1134.75 1325.53L1135 1325.48L1136.5 1310.5L1136.75 1313L1137 1314L1137.5 1310.5L1139.25 1322.75L1139.5 1323.39L1141.25 1310.5L1143 1323.39L1143.25 1323.63L1145.75 1271.13L1148.25 1323.63L1148.5 1322.75L1150.25 1310.5L1153 1329.75L1153.25 1330.18ZM1153.75 1330.18L1154 1328.61L1158 1251.45L1160.75 1304.49L1161 1302.63L1162.5 1271.13L1164.75 1318.38L1165 1321.72L1166.5 1310.5L1167.75 1319.85L1168 1319.25L1169.25 1310.5L1170.75 1321L1171 1320.06L1172 1310.5L1172.25 1312.89L1172.5 1314L1173 1310.5L1175.75 1329.75L1176 1330.18ZM1177.50 1330.18L1177.75 1328.88L1180.5 1271.13L1182.75 1318.38L1183 1318.81L1185 1290.81L1187.5 1325.81L1187.75 1328.88L1190.5 1271.13L1192 1302.63L1192.25 1304.81L1193.25 1290.81L1194.75 1311.81L1195 1311.81L1196.5 1290.81L1197.5 1304.81L1197.75 1307.45L1199.75 1251.45L1201.75 1307.45L1202 1308.31L1203.25 1290.81L1205.5 1322.31L1205.75 1324.5L1207.75 1310.5L1210.5 1329.75L1210.75 1330.18ZM1212.00 1330.18L1212.25 1328.88L1215 1271.13L1217.25 1318.38L1217.5 1316.62L1217.75 1306.58L1220 1212.08L1222.25 1306.58L1222.5 1308.31L1223.75 1290.81L1226.5 1329.31L1226.75 1329.28L1229 1310.5L1229.25 1312.58L1229.5 1310.52L1231.75 1231.77L1234.25 1319.27L1234.5 1323.56L1235.25 1329.16L1235.5 1329.75L1238.25 1310.5L1239.75 1321L1240 1322.32L1241.25 1310.5L1241.5 1312.25L1241.75 1310.5L1243.25 1321L1243.5 1321L1245 1310.5L1246 1317.5L1246.25 1316L1246.5 1314.17L1246.75 1311.81L1248.25 1290.81L1249.25 1304.81L1249.5 1306.58L1251.75 1212.08L1253.5 1285.58L1253.75 1293.02L1255.5 1231.77L1257.75 1310.52L1258 1317.5L1259 1310.5L1259.25 1312.24L1259.5 1310.5L1262 1327.9L1262.25 1328.88L1265 1271.13L1267 1313.13L1267.25 1315.31L1269 1290.81L1271.75 1329.31L1272 1330.18ZM1272.00 1330.18L1272.25 1328.45L1275 1251.45L1277.25 1314.45L1277.5 1311.81L1279 1290.81L1280.5 1311.81L1280.75 1313.13L1282.75 1271.13L1283.5 1286.88L1283.75 1284.27L1285.25 1231.77L1287.75 1319.27L1288 1318.38L1290.25 1271.13L1292.25 1313.13L1292.5 1311.81L1294 1290.81L1295.75 1315.31L1296 1313.13L1298 1271.13L1300 1313.13L1300.25 1317.83L1301.25 1310.5L1301.5 1311.81L1303 1290.81L1304.25 1308.31L1304.5 1310.5L1305.75 1322.55L1306 1321L1307.5 1310.5L1309.5 1324.5L1309.75 1322.31L1312 1290.81L1313.5 1311.81L1313.75 1311.81L1315.25 1290.81L1316 1301.31L1316.25 1293.02L1318 1231.77L1319 1266.77L1319.25 1268.35L1321.25 1192.4L1323 1258.86L1323.25 1266.77L1324.25 1231.77L1325.75 1284.27L1326 1275.08L1327.5 1212.08L1329.25 1285.58L1329.5 1286.88L1330.25 1271.13L1331.75 1302.63L1332 1301.77L1334 1231.77L1335.25 1275.52L1336.5 1231.77L1338 1284.27L1338.25 1292.13L1339.25 1271.13L1341.25 1313.13L1341.5 1314.45L1343.75 1251.45L1346.25 1321.45L1346.5 1318.81L1348.5 1290.81L1350 1311.81L1351.5 1290.81L1353.5 1318.81L1353.75 1318.38L1356 1271.13L1358.25 1318.38L1358.5 1322.31L1360.75 1290.81L1362 1308.31L1362.25 1310.5L1363.75 1321.91L1364 1321L1365.5 1310.5L1367.25 1322.75L1367.5 1322.31L1369.75 1290.81L1372 1322.31L1372.25 1324.5L1374.25 1310.5L1376.5 1326.25L1376.75 1323.63L1379.25 1271.13L1381 1307.88L1381.25 1313.07L1381.5 1310.52L1383.75 1231.77L1386.25 1319.27L1386.5 1322.75L1388.25 1310.5L1388.75 1314L1389 1314.91L1389.5 1310.5L1389.75 1312.7L1390 1313.13L1392 1271.13L1394 1313.13L1394.25 1310.52L1396.5 1231.77L1398.75 1310.52L1399 1313.13L1401 1271.13L1403 1313.13L1403.25 1315.31L1405 1290.81L1407.5 1325.81L1407.75 1328.88L1410.5 1271.13L1412.5 1313.13L1412.75 1311.81L1414.25 1290.81L1416 1315.31L1416.25 1318.03L1417.25 1325.56L1417.5 1324.5L1419.5 1310.5L1422 1328L1422.25 1330.18Z" fill="#0000ff" stroke="#000085" stroke-width="0.65" stroke-linejoin="miter" stroke-miterlimit="10"/>
<path d="M271 1192.1V1330.2" stroke="#7f7f7f" stroke-width="1.1" fill="none"/>
<path d="M259.2 1192.1H271.5" stroke="#222" stroke-width="1" fill="none"/>
<path d="M259.2 1330.2H271.5" stroke="#7f7f7f" stroke-width="1.4" fill="none"/>
<text x="251.8" y="1194.8" class="tk" text-anchor="end">5</text>
<text x="251.8" y="1333.4" class="tk" text-anchor="end">0</text>
<text x="73.5" y="1267.4" class="lb">GSM2481684</text>
<path d="M271.00 1484.12L271 1452.72L271.25 1449.65L274 1483.36L274.25 1484.12ZM274.50 1484.12L274.75 1482.97L276.75 1466.89L277.5 1472.92L277.75 1470.35L280 1415.19L282 1464.22L282.25 1468.42L282.5 1466.89L284 1476.07L284.25 1476.08L285.75 1466.89L288 1480.68L288.25 1480.3L290.75 1449.65L293 1477.23L295.25 1449.65L297 1471.1L297.25 1473.42L298.5 1481.59L298.75 1478.39L301.25 1432.42L303.75 1478.39L304 1482.63L304.25 1484.12ZM304.25 1484.12L304.5 1482.18L306.25 1466.89L308 1482.18L308.25 1484.12ZM308.25 1484.12L308.5 1483.74L311.25 1466.89L313.25 1479.14L315.25 1466.89L315.5 1468.42L315.75 1466.89L316.75 1473.32L317 1474.17L319 1449.65L321.25 1477.23L321.5 1479.14L323.5 1466.89L326.25 1483.74L326.5 1484.12ZM327.25 1484.12L327.5 1483.36L330.25 1449.65L332.25 1474.17L332.5 1473.79L334.75 1432.42L336.5 1464.6L336.75 1464.6L338.5 1432.42L339.75 1455.4L340 1455.4L341.25 1432.42L343 1464.6L343.25 1466.89L343.75 1471.5L344 1471.48L344.75 1466.89L346 1474.55L346.25 1470.35L348.5 1415.19L350.5 1464.22L350.75 1464.98L352 1449.65L353.25 1464.98L353.5 1464.6L355.25 1432.42L357.25 1469.19L357.5 1468.92L357.75 1466.89L358 1466.9L360.25 1397.95L362.75 1474.57L363 1473.79L365.25 1432.42L367.25 1469.19L369.25 1432.42L371.75 1478.39L372 1480.68L374.25 1466.89L376.25 1479.14L376.5 1478.71L378.5 1466.89L378.75 1466.89L380.5 1477.61L380.75 1477.61L382.5 1466.89L384.75 1480.68L385 1481.28L385.5 1477.17L385.75 1472.65L388.25 1380.72L390.5 1463.46L390.75 1471.1L392.5 1449.65L393.75 1464.98L394 1464.98L395.25 1449.65L397.25 1474.17L397.5 1466.9L399.75 1397.95L402.25 1474.57L402.5 1480.3L405 1449.65L406 1461.91L406.25 1460L407.75 1432.42L409.5 1464.6L409.75 1464.98L411 1449.65L412.5 1468.04L412.75 1469.19L414.75 1432.42L417.25 1478.39L417.5 1477.84L418.75 1466.89L419 1469.08L419.25 1471.1L421 1449.65L422.5 1468.04L422.75 1471.03L423.75 1479.33L424 1478.18L425.25 1470.11L425.5 1468.04L427 1449.65L428.5 1468.04L430 1449.65L431.75 1471.1L432 1473.51L433 1482.34L433.25 1483.36L436 1449.65L437.5 1468.04L437.75 1466.9L440 1397.95L441.25 1436.26L441.5 1433.57L442.25 1415.19L443.5 1445.83L443.75 1445.83L445 1415.19L447.75 1482.61L448 1484.12ZM448.50 1484.12L448.75 1482.98L451.5 1432.42L453.25 1464.6L453.5 1468.04L455 1449.65L456 1461.91L456.25 1461.91L457.25 1449.65L458.5 1464.98L458.75 1463.46L461 1380.72L463.5 1472.65L463.75 1474.06L464.75 1466.89L465.25 1470.47L465.5 1471.48L466.25 1466.89L469 1483.74L469.25 1484.12ZM469.25 1484.12L469.5 1483.36L472.25 1449.65L473.75 1468.04L474 1468.04L475.5 1449.65L477.25 1471.1L477.5 1469.25L477.75 1466.89L479.5 1483.45L479.75 1484.12ZM480.00 1484.12L480.25 1483.68L481.5 1475.28L481.75 1470.35L484 1415.19L486.25 1470.35L486.5 1475.4L486.75 1473.7L487 1469.19L489 1432.42L491 1469.19L491.25 1468.04L492.75 1449.65L494.5 1471.1L494.75 1469.19L496.75 1432.42L498 1455.4L498.25 1455.4L499.5 1432.42L500.75 1455.4L501 1459.24L503 1397.95L505.5 1474.57L505.75 1478.45L506 1478.39L508.5 1432.42L510.75 1473.79L511 1474.57L513.5 1397.95L515.75 1466.9L516 1474.36L516.25 1475.85L516.5 1474.17L518.5 1449.65L521.25 1483.36L524 1449.65L526.75 1483.36L527 1484.12ZM531.75 1484.12L532 1482.61L534.75 1415.19L537.5 1482.61L537.75 1482.21L540.25 1466.89L542.75 1482.21L543 1483.36L545.75 1449.65L547.75 1474.17L548 1473.97L549 1466.89L549.25 1468.04L550.75 1449.65L552.5 1471.1L552.75 1473.5L553.75 1466.89L555.5 1478.47L555.75 1477.23L558 1449.65L560.25 1477.23L560.5 1475.38L561.5 1466.89L561.75 1464.98L563 1449.65L564 1461.91L564.25 1458.09L566 1415.19L567 1439.7L567.25 1436.26L568.5 1397.95L570.5 1459.24L570.75 1455.4L572 1432.42L573 1450.81L573.25 1450.81L574.25 1432.42L576.5 1473.79L576.75 1473.14L577.5 1466.89L578 1471.06L578.25 1469.95L578.75 1466.89L580.5 1477.61L580.75 1478.39L583.25 1432.42L585.25 1469.19L585.5 1464.22L587.5 1415.19L590 1476.48L590.25 1477.61L592 1466.89L592.75 1471.48L593 1472.65L595.5 1380.72L597.5 1454.27L597.75 1460L599.25 1432.42L600.75 1460L601 1460L602.5 1432.42L604.5 1469.19L604.75 1472.92L605.75 1480.96L606 1482.61L608.75 1415.19L611.25 1476.48L611.5 1480.68L613.75 1466.89L615.5 1477.61L615.75 1478.39L618.25 1432.42L620.5 1473.79L620.75 1474.17L622.75 1449.65L624.25 1468.04L624.5 1469.83L625 1466.89L625.25 1464.98L626.5 1449.65L628.25 1471.1L628.5 1469.19L630.5 1432.42L632.25 1464.6L632.5 1464.22L634.5 1415.19L636 1451.96L636.25 1450.81L637.25 1432.42L639.75 1478.39L640 1477.61L641.75 1466.89L643.25 1476.08L643.5 1475.2L644.75 1466.89L645 1464.6L646.75 1432.42L649.5 1482.98L649.75 1484.12ZM649.75 1484.12L650 1483.36L652.75 1449.65L653 1452.72L653.25 1449.65L655.25 1474.17L655.5 1474.55L656.75 1466.89L657.25 1469.95L657.75 1466.89L659.5 1477.61L659.75 1474.57L662.25 1397.95L664.75 1474.57L665 1478.48L665.25 1479.14L667.25 1466.89L668.5 1474.55L668.75 1474.17L670.75 1449.65L672.75 1474.17L673 1473.77L674 1466.89L675 1473.77L675.25 1474.17L677.25 1449.65L678.75 1468.04L679 1468.37L679.25 1466.89L680.5 1474.29L680.75 1474.17L682.75 1449.65L685.5 1483.36L685.75 1484.12ZM687.75 1484.12L688 1482.98L690.75 1432.42L693 1473.79L693.25 1474.55L694.5 1466.89L695 1469.95L695.25 1469.19L697.25 1432.42L699.25 1469.19L699.5 1471.1L701.25 1449.65L702.75 1468.04L703 1468.52L703.25 1466.89L705.75 1483.26L706 1484.12ZM706.25 1484.12L706.5 1483.09L707.25 1476.15L707.5 1473.79L709.75 1432.42L712 1473.79L712.25 1473.79L714.5 1432.42L717 1478.39L717.25 1477.61L719 1466.89L720.75 1477.61L721 1478.39L723.5 1432.42L726.25 1482.98L726.5 1484.12ZM727.00 1484.12L727.25 1483.07L729.75 1466.89L730 1464.6L731.75 1432.42L733.75 1469.19L734 1473.56L735.25 1481.9L735.5 1478.39L738 1432.42L740 1469.19L740.25 1471.1L742 1449.65L743.5 1468.04L743.75 1468.82L744 1466.89L745.25 1476.53L745.5 1474.17L747.5 1449.65L750 1480.3L750.25 1482.98L753 1432.42L754 1450.81L754.25 1443.92L755.75 1397.95L757.75 1459.24L758 1464.6L759.75 1432.42L761.25 1460L761.5 1461.91L762.5 1449.65L763.75 1464.98L764 1466.89L764.25 1469.03L764.5 1468.04L766 1449.65L767.25 1464.98L767.5 1464.6L769.25 1432.42L772 1482.98L772.25 1482.21L774.75 1466.89L777 1480.68L777.25 1481.95L779.25 1466.89L779.5 1464.22L781.5 1415.19L783.75 1470.35L784 1471.77L784.75 1466.89L785.5 1471.77L785.75 1471.1L787.5 1449.65L789.5 1474.17L789.75 1473.55L790.5 1466.89L791 1471.33L791.25 1469.19L793.25 1432.42L795.25 1469.19L795.5 1471.18L796 1466.89L796.5 1471.18L796.75 1471.48L797.5 1466.89L798.75 1474.55L799 1474.57L800.25 1466.89L802.25 1479.17L802.5 1478.5L804 1466.89L804.25 1468.82L804.5 1469.95L805 1466.89L807.25 1480.68L807.5 1480.3L810 1449.65L811.5 1468.04L811.75 1468.04L814.25 1432.42L817 1471.61L817.25 1471.22L817.75 1466.89L819.5 1482.06L819.75 1484.12ZM824.75 1484.12L825 1482.98L827.75 1432.42L830.25 1478.39L830.5 1477.23L832.75 1449.65L834 1464.98L834.25 1464.6L836 1432.42L837.75 1464.6L838 1461.91L839 1449.65L840.25 1464.98L840.5 1464.6L842.25 1432.42L843.75 1460L844 1461.91L845 1449.65L846.25 1464.98L846.5 1466.89L848.25 1481.26L848.5 1482.21L851 1466.89L852.5 1476.08L852.75 1477.23L855 1449.65L856.25 1464.98L856.5 1464.98L857.75 1449.65L859.25 1468.04L859.5 1468.04L861 1449.65L862.5 1468.04L862.75 1469.82L863.25 1466.89L864 1471.28L864.25 1469.19L866.25 1432.42L869 1482.98L869.25 1484.12ZM872.00 1484.12L872.25 1483.02L873.25 1476.57L873.5 1474.17L875.5 1449.65L878.25 1483.36L878.5 1483.36L881.25 1449.65L883.5 1477.23L883.75 1479.09L885.5 1466.89L887 1477.35L887.25 1473.79L889.5 1432.42L891.5 1469.19L891.75 1463.46L894 1380.72L896 1454.27L896.25 1461.91L897.25 1449.65L899.25 1474.17L899.5 1472.8L900.5 1466.89L900.75 1464.6L902.5 1432.42L904.5 1469.19L904.75 1468.55L905 1466.89L906.25 1475.2L906.5 1474.17L908.5 1449.65L911.25 1483.36L911.5 1484.12ZM912.25 1484.12L912.5 1483.36L915.25 1449.65L917.5 1477.23L917.75 1479.52L919.25 1468.69L919.5 1464.6L921.25 1432.42L923 1464.6L923.25 1468.04L924.75 1449.65L927 1477.23L927.25 1476.48L929.75 1415.19L931.25 1451.96L931.5 1450.81L932.5 1432.42L934.75 1473.79L935 1474.57L937.5 1397.95L940.25 1482.23L940.5 1480.71L942.5 1466.89L943.5 1473.8L943.75 1473.02L944.75 1466.89L947.25 1482.21L947.5 1482.51L947.75 1480.3L950.25 1449.65L952.5 1477.23L952.75 1479.14L954.75 1466.89L956 1474.55L956.25 1474.57L958.75 1397.95L960.25 1443.92L960.5 1441.61L961 1432.42L962.25 1455.4L962.5 1455.4L963.75 1432.42L965.75 1469.19L966 1468.04L967.5 1449.65L970 1480.3L970.25 1482.98L973 1432.42L975.75 1482.98L976 1483.74L978.75 1466.89L981.25 1482.21L981.5 1482.98L984.25 1466.89L987 1482.98L987.25 1484.12ZM987.25 1484.12L987.5 1483.36L990.25 1449.65L991.75 1468.04L993.25 1449.65L994.75 1468.04L995 1468.04L996.5 1449.65L999 1480.3L1001.5 1449.65L1003.75 1477.23L1004 1477.31L1005.5 1466.89L1005.75 1468.62L1006 1464.04L1008.25 1415.19L1010 1453.19L1010.25 1455.4L1011.5 1432.42L1013.75 1473.79L1014 1477.46L1015.75 1466.89L1016.25 1469.91L1016.5 1471.1L1018.25 1449.65L1019.5 1464.98L1019.75 1464.98L1021 1449.65L1022.5 1468.04L1022.75 1468.04L1024.25 1449.65L1025.25 1461.91L1025.5 1461.91L1026.5 1449.65L1028 1468.04L1028.25 1470.83L1028.75 1466.89L1029.25 1470.83L1029.5 1470.35L1031.75 1415.19L1032.75 1439.7L1033 1443.92L1034.5 1397.95L1036.5 1459.24L1036.75 1460L1038.25 1432.42L1040 1464.6L1040.25 1461.91L1041.25 1449.65L1041.5 1449.65L1043.5 1474.17L1043.75 1474.26L1044.75 1466.89L1045.75 1474.26L1046 1473.79L1048.25 1432.42L1048.5 1437.02L1048.75 1437.02L1049 1432.42L1049.75 1446.21L1050.5 1432.42L1053.25 1482.98L1053.5 1484.12ZM1055.25 1484.12L1055.5 1482.82L1055.75 1480.3L1058.25 1449.65L1060.25 1474.17L1060.5 1474.65L1061.75 1466.89L1062.75 1473.09L1063 1474.17L1065 1449.65L1066.75 1471.1L1068.5 1449.65L1070.25 1471.1L1070.5 1471.33L1071 1466.89L1072 1475.77L1072.25 1477.61L1074 1466.89L1075.25 1474.55L1075.5 1475.58L1076.75 1466.89L1077.5 1472.1L1077.75 1471.1L1079.5 1449.65L1081.75 1477.23L1082 1479.14L1084 1466.89L1084.75 1471.48L1085 1470.97L1085.5 1466.89L1087.25 1481.19L1087.5 1476.48L1090 1415.19L1090.75 1433.57L1091 1433.57L1091.75 1415.19L1094.5 1482.61L1094.75 1484.12ZM1095.00 1484.12L1095.25 1482.87L1097.75 1466.89L1098 1464.6L1099.75 1432.42L1101.5 1464.6L1101.75 1466.89L1102.5 1471.44L1102.75 1471.48L1103.5 1466.89L1104 1469.95L1104.25 1469.19L1106.25 1432.42L1108.75 1478.39L1111.25 1432.42L1113.75 1478.39L1114 1480.04L1116 1466.89L1116.25 1466.89L1119 1483.74L1119.25 1484.12ZM1120.00 1484.12L1120.25 1483.36L1123 1449.65L1124 1461.91L1124.25 1460L1125.75 1432.42L1126.75 1450.81L1127 1450.81L1128 1432.42L1130 1469.19L1130.25 1471.56L1131.25 1477.79L1131.5 1476.68L1132.75 1466.89L1133.5 1472.77L1133.75 1469.19L1135.75 1432.42L1137 1455.4L1137.25 1458.85L1138 1449.65L1139 1461.91L1139.25 1460L1140.75 1432.42L1143 1473.79L1143.25 1474.17L1145.25 1449.65L1146.75 1468.04L1147 1464.6L1148.75 1432.42L1150.25 1460L1150.5 1464.22L1152.5 1415.19L1154.5 1464.22L1154.75 1461.91L1155.75 1449.65L1156.75 1461.91L1157 1464.6L1158.75 1432.42L1159.75 1450.81L1160 1450.81L1161 1432.42L1163.75 1482.98L1164 1484.12ZM1167.50 1484.12L1167.75 1483.74L1170.5 1466.89L1171.25 1471.48L1171.5 1471.36L1172.25 1466.89L1174 1477.32L1174.25 1477.61L1176 1466.89L1177.75 1477.61L1178 1478.39L1180.5 1432.42L1182.75 1473.79L1185 1432.42L1187.5 1478.39L1187.75 1477.44L1188.75 1470.4L1189 1468.04L1190.5 1449.65L1192.25 1471.1L1192.5 1471.85L1193.25 1466.89L1193.5 1468.54L1193.75 1464.6L1195.5 1432.42L1197.25 1464.6L1197.5 1464.98L1198.75 1449.65L1201.5 1483.36L1201.75 1484.12ZM1201.75 1484.12L1202 1483.74L1204.75 1466.89L1207.25 1482.21L1207.5 1482.21L1210 1466.89L1212.75 1483.74L1213 1482.78L1214 1473.7L1214.25 1471.1L1216 1449.65L1217.75 1471.1L1218 1470.42L1218.5 1466.89L1219 1470.42L1219.25 1469.2L1221.5 1397.95L1223.75 1469.2L1224 1474.17L1226 1449.65L1228 1474.17L1228.25 1473.79L1230.5 1432.42L1233.25 1482.98L1236 1432.42L1236.75 1446.21L1237 1445.83L1238.25 1415.19L1239.25 1439.7L1239.5 1435.88L1241 1380.72L1243.25 1463.46L1243.5 1460L1245 1432.42L1247.25 1473.79L1247.5 1474.17L1249.5 1449.65L1251.25 1471.1L1251.5 1471.1L1253.25 1449.65L1255 1471.1L1256.75 1449.65L1258.25 1468.04L1258.5 1468.04L1260 1449.65L1261.75 1471.1L1262 1472.96L1262.25 1466.9L1264.5 1397.95L1267.25 1482.23L1267.5 1484.12ZM1268.25 1484.12L1268.5 1483.74L1271.25 1466.89L1271.75 1469.95L1272 1469.2L1272.25 1466.89L1273.25 1476.13L1273.5 1473.79L1275.75 1432.42L1278 1473.79L1278.25 1474.17L1280.25 1449.65L1282.5 1477.23L1282.75 1477.23L1285 1449.65L1286.25 1464.98L1286.5 1464.22L1288.5 1415.19L1290.5 1464.22L1290.75 1464.6L1292.5 1432.42L1294 1460L1294.25 1461.91L1295.25 1449.65L1296.25 1461.91L1296.5 1459.24L1298.5 1397.95L1300.75 1466.9L1301 1466.89L1301.5 1471.18L1301.75 1469.95L1302.25 1466.89L1304 1477.61L1304.25 1474.57L1306.75 1397.95L1308.5 1451.58L1308.75 1451.96L1310.25 1415.19L1312.25 1464.22L1312.5 1468.5L1313.5 1474.96L1313.75 1476.08L1315.25 1466.89L1317 1477.61L1317.25 1468.83L1319.75 1346.25L1321.25 1419.8L1321.5 1428.6L1322.5 1397.95L1325.25 1482.23L1325.5 1478.39L1328 1432.42L1328.75 1446.21L1329 1445.83L1330.25 1415.19L1332.25 1464.22L1332.5 1460L1334 1432.42L1335.75 1464.6L1336 1468.42L1336.25 1469.96L1336.5 1464.22L1338.5 1415.19L1340.75 1470.35L1341 1469.95L1341.5 1466.89L1343 1476.08L1343.25 1474.17L1345.25 1449.65L1346.75 1468.04L1347 1468.04L1348.5 1449.65L1349.75 1464.98L1350 1466.89L1352.75 1483.64L1353 1484.12ZM1353.00 1484.12L1353.25 1482.23L1356 1397.95L1357.75 1451.58L1358 1458.09L1359.75 1415.19L1361.5 1458.09L1361.75 1455.4L1363 1432.42L1364.5 1460L1364.75 1458.09L1366.5 1415.19L1368.75 1470.35L1369 1474.55L1370.25 1466.89L1371.75 1476.08L1372 1477.22L1373 1470.33L1373.25 1468.04L1374.75 1449.65L1376.25 1468.04L1376.5 1469.17L1376.75 1466.89L1377 1464.6L1378.75 1432.42L1381 1473.79L1383.25 1432.42L1385.25 1469.19L1385.5 1469.19L1387.5 1432.42L1389.5 1469.19L1389.75 1471.1L1391.5 1449.65L1392.5 1461.91L1392.75 1460L1394.25 1432.42L1396.25 1469.19L1398.25 1432.42L1400.5 1473.79L1400.75 1474.17L1402.75 1449.65L1404 1464.98L1404.25 1466.89L1404.5 1468.5L1404.75 1464.6L1406.5 1432.42L1409.25 1482.98L1409.5 1480.3L1412 1449.65L1412.5 1455.78L1412.75 1458.09L1414.5 1415.19L1415.5 1439.7L1416.5 1415.19L1418.25 1458.09L1418.5 1460L1420 1432.42L1422 1469.19L1422.25 1473.02L1423.25 1466.89L1423.5 1468.42L1423.5 1484.12Z" fill="#0000ff" stroke="#000085" stroke-width="0.65" stroke-linejoin="miter" stroke-miterlimit="10"/>
<path d="M271 1346.0V1484.1" stroke="#7f7f7f" stroke-width="1.1" fill="none"/>
<path d="M259.2 1346.0H271.5" stroke="#222" stroke-width="1" fill="none"/>
<path d="M259.2 1484.1H271.5" stroke="#7f7f7f" stroke-width="1.4" fill="none"/>
<text x="251.8" y="1348.7" class="tk" text-anchor="end">8</text>
<text x="251.8" y="1487.3" class="tk" text-anchor="end">0</text>
<text x="73.5" y="1421.4" class="lb">GSM2481683</text>
<path d="M271.00 1638.06L271 1617.11L271.25 1615.07L272 1621.2L272.25 1622.66L273 1615.07L275.25 1637.84L275.5 1638.06ZM279.75 1638.06L280 1637.55L282.75 1615.07L284.75 1631.42L285 1628.87L287.25 1592.07L288.75 1616.61L289 1615.07L290.75 1629.83L291 1629.38L292.75 1615.07L295 1633.47L295.25 1632.96L297.75 1592.07L300.5 1637.05L300.75 1638.06ZM301.00 1638.06L301.25 1636.54L304 1569.08L306.25 1624.28L306.5 1623.24L307.5 1615.07L310.25 1637.55L313 1615.07L315.75 1637.55L316 1638.06ZM316.00 1638.06L316.25 1637.05L319 1592.07L321.75 1637.05L324.5 1592.07L325.25 1604.34L325.5 1605.88L327 1569.08L329 1618.14L329.25 1616.61L330.75 1592.07L332 1612.52L332.25 1612.52L333.5 1592.07L335.25 1620.69L335.5 1624.57L337 1615.07L340.5 1637.25L340.75 1638.06ZM344.50 1638.06L344.75 1637.05L347.5 1592.07L349.75 1628.87L350 1632.84L350.5 1637.92L350.75 1638.06ZM351.00 1638.06L351.25 1636.29L351.5 1630.41L354 1569.08L356.5 1630.41L356.75 1631.42L358.75 1615.07L360 1625.29L361.25 1615.07L363.25 1631.42L363.5 1628.87L365.75 1592.07L367.25 1616.61L368.75 1592.07L371.5 1637.05L374.25 1592.07L377 1637.05L377.25 1638.06ZM381.75 1638.06L382 1637.55L384.75 1615.07L386.75 1631.42L387 1630.62L388.25 1615.07L389.25 1627.51L389.5 1624.78L391.5 1592.07L392.75 1612.52L393 1612.52L394.25 1592.07L397 1637.05L397.25 1638.06ZM397.50 1638.06L397.75 1637.05L400.5 1592.07L402.5 1624.78L402.75 1623.08L403 1618.14L405 1569.08L407.25 1624.28L407.5 1628.87L409.75 1592.07L411.25 1616.61L412.75 1592.07L414.5 1620.69L414.75 1624.06L415.75 1615.07L416 1612.01L417.75 1569.08L420.5 1636.54L420.75 1638.06ZM426.75 1638.06L427 1636.41L427.75 1628.4L428 1624.78L430 1592.07L431 1608.43L431.25 1608.43L432.25 1592.07L434.5 1628.87L436.75 1592.07L438.25 1616.61L438.5 1616.61L440 1592.07L442.75 1637.05L443 1638.06ZM445.25 1638.06L445.5 1637.55L448.25 1615.07L451 1637.55L451.25 1638.06ZM452.00 1638.06L452.25 1637.05L455 1592.07L457.75 1637.05L458 1638.06ZM460.25 1638.06L460.5 1636.54L463.25 1569.08L465.5 1624.28L465.75 1626.9L467.25 1615.07L467.5 1617.04L467.75 1615.07L470.5 1637.55L470.75 1638.06ZM471.25 1638.06L471.5 1636.22L473.5 1615.07L475.25 1633.57L475.5 1633.47L477.75 1615.07L479.25 1627.33L480.75 1615.07L483.5 1637.55L483.75 1638.06ZM484.00 1638.06L484.25 1636.44L487.75 1592.07L490.5 1626.93L490.75 1627.33L492.25 1615.07L493 1621.2L493.25 1621.34L494 1615.07L494.75 1621.34L495 1621.2L495.75 1615.07L497.5 1629.38L497.75 1630.41L500.25 1569.08L502 1612.01L502.25 1615.07L503.25 1626.93L503.5 1627.33L505 1615.07L506.75 1629.38L507 1626.8L508 1615.07L508.25 1617.11L508.5 1615.07L511 1635.51L511.25 1636.04L514 1546.09L516.75 1636.04L517 1638.06ZM520.00 1638.06L520.25 1637.05L523 1592.07L524.75 1620.69L525 1624.04L526 1615.07L526.25 1617.31L526.5 1617.11L526.75 1615.07L529.5 1637.55L529.75 1638.06ZM531.50 1638.06L531.75 1636.54L534.5 1569.08L537.25 1636.54L537.5 1638.06ZM538.00 1638.06L538.25 1637.19L538.5 1634.97L538.75 1630.41L541.25 1569.08L544 1636.54L544.25 1638.06ZM548.25 1638.06L548.5 1635.53L551.5 1592.07L554.5 1635.53L554.75 1633.16L556.5 1615.07L556.75 1612.52L558 1592.07L560.25 1628.87L560.5 1631.42L562.5 1615.07L562.75 1617.11L563 1617.52L563.25 1615.07L565.5 1637.11L565.75 1638.06ZM566.25 1638.06L566.5 1635.53L569.25 1523.09L571.25 1604.87L571.5 1615.07L572.5 1624.78L572.75 1623.24L573.75 1615.07L575 1625.29L575.25 1624.67L576.25 1615.07L577.25 1624.67L577.5 1620.69L579.25 1592.07L580.5 1612.52L580.75 1615.07L581.25 1619.67L581.5 1620.69L583.25 1592.07L585.75 1632.96L586 1631.42L588 1615.07L590.75 1637.55L591 1638.06ZM593.75 1638.06L594 1635.53L597 1592.07L599 1621.05L599.25 1621.32L600 1615.07L602.5 1635.9L602.75 1637.55L605.5 1615.07L607.75 1633.47L610 1615.07L612.25 1633.47L612.5 1633.47L614.75 1615.07L617.5 1637.55L617.75 1636.04L620.5 1546.09L623.25 1636.04L623.5 1638.06ZM625.25 1638.06L625.5 1637.05L628.25 1592.07L631 1637.05L631.25 1638.06ZM631.50 1638.06L631.75 1637.55L634.5 1615.07L637 1635.51L637.25 1637.05L640 1592.07L641.75 1620.69L642 1619.68L644.25 1546.09L647 1636.04L647.25 1637.55L650 1615.07L651.25 1625.29L651.5 1624.28L653.75 1569.08L654 1575.21L654.25 1575.21L654.5 1569.08L656.5 1618.14L656.75 1610.5L659 1500.1L659.5 1524.63L660 1500.1L661.5 1573.7L661.75 1581.35L663.75 1630.41L664 1629.38L665.75 1615.07L668.25 1635.51L668.5 1636.04L671.25 1546.09L673.25 1611.51L673.5 1611.09L675 1592.07L678.5 1636.44L678.75 1638.06ZM684.00 1638.06L684.25 1635.53L687.25 1592.07L690.25 1635.53L690.5 1638.06ZM693.25 1638.06L693.5 1636.54L696.25 1569.08L699 1636.54L699.25 1638.06ZM701.25 1638.06L701.5 1636.53L702.25 1628.48L702.5 1624.78L704.5 1592.07L707.25 1637.05L707.5 1636.54L710.25 1569.08L713 1636.54L713.25 1638.06ZM717.00 1638.06L717.25 1637.33L719 1623.16L719.25 1621.05L721.25 1592.07L723.75 1628.29L724 1631.09L726 1615.07L728 1631.09L728.25 1631.42L730.25 1615.07L731 1621.2L731.25 1620.26L731.75 1615.07L732.25 1620.26L732.5 1619.16L733 1615.07L734.5 1627.33L734.75 1627.33L736.25 1615.07L736.75 1619.16L737 1617.26L737.25 1615.07L738 1621.64L738.25 1623.24L739.25 1615.07L742 1637.55L742.25 1638.06ZM742.25 1638.06L742.5 1637.55L745.25 1615.07L748 1637.55L748.25 1638.06ZM752.50 1638.06L752.75 1635.53L755.75 1592.07L758.75 1635.53L759 1638.06ZM764.75 1638.06L765 1634.27L768 1569.08L771 1634.27L771.25 1638.06ZM772.50 1638.06L772.75 1636.58L775 1615.07L777.25 1636.58L777.5 1634.27L780.5 1569.08L783.5 1634.27L783.75 1638.06ZM787.25 1638.06L787.5 1636.04L790.25 1546.09L791.75 1595.15L792 1599.75L793.25 1569.08L795.5 1624.28L795.75 1622.96L796.75 1615.07L797 1617.04L797.25 1618.24L797.75 1615.07L801.25 1637.25L801.5 1638.06ZM804.00 1638.06L804.25 1637.88L808.75 1615.07L810.25 1622.67L810.5 1620.69L812.25 1592.07L813.5 1612.52L814.75 1592.07L817.5 1637.05L817.75 1638.06ZM818.50 1638.06L818.75 1637.55L821.5 1615.07L821.75 1615.07L824.5 1637.32L824.75 1638.06ZM824.75 1638.06L825 1636.54L827.75 1569.08L830.5 1636.54L830.75 1638.06ZM831.50 1638.06L831.75 1637.55L834.5 1615.07L837.25 1637.55L837.5 1638.06ZM837.50 1638.06L837.75 1637.05L840.5 1592.07L843.25 1637.05L846 1592.07L848.75 1637.05L849 1638.06ZM849.75 1638.06L850 1637.55L852.75 1615.07L855 1633.47L855.25 1627.86L857.75 1546.09L860.5 1636.04L860.75 1638.06ZM864.00 1638.06L864.25 1636.44L867.75 1592.07L869.25 1611.09L869.5 1603.33L871.25 1546.09L873.25 1611.51L873.5 1608.43L874.5 1592.07L876 1616.61L876.25 1616.61L877.75 1592.07L880 1628.87L880.25 1631.43L881 1637.56L881.25 1636.04L884 1546.09L886.25 1619.68L886.5 1616.61L888 1592.07L890 1624.78L890.25 1628.16L891.75 1615.07L892 1617.25L892.25 1619.16L892.75 1615.07L895 1633.47L897.25 1615.07L899.5 1633.47L901.75 1615.07L904.5 1637.55L904.75 1638.06ZM905.00 1638.06L905.25 1636.89L906.75 1622.34L907 1618.14L909 1569.08L910.25 1599.75L910.5 1603.33L912.25 1546.09L913.5 1586.97L913.75 1593.61L914.75 1569.08L917.5 1636.54L917.75 1638.06ZM921.50 1638.06L921.75 1637.05L924.5 1592.07L927.25 1637.05L927.5 1638.06ZM928.25 1638.06L928.5 1636.04L931.25 1546.09L932.5 1586.97L932.75 1587.48L933.5 1569.08L935.5 1618.14L935.75 1618.87L936.5 1615.07L941 1637.88L941.25 1638.06ZM942.25 1638.06L942.5 1637.88L947 1615.07L948.25 1621.4L948.5 1621.17L949.25 1615.07L949.5 1617.1L949.75 1614.25L951.5 1592.07L954.25 1626.93L954.5 1625.32L955.5 1615.07L956 1620.19L956.25 1621.2L957 1615.07L959 1631.42L959.25 1630.09L960.75 1615.07L961 1617.57L961.25 1617.11L961.5 1615.07L963.25 1629.38L963.5 1630.41L966 1569.08L968.25 1624.28L968.5 1625.29L969.75 1615.07L971.25 1627.33L971.5 1627.33L973 1615.07L974.25 1625.29L975.5 1615.07L977.5 1631.42L977.75 1632.96L980.25 1592.07L982.25 1624.78L984.25 1592.07L986 1620.69L986.25 1618.14L988.25 1569.08L990.25 1618.14L990.5 1611.51L992.5 1546.09L995.25 1636.04L995.5 1637.55L998.25 1615.07L1000.75 1635.51L1001 1637.05L1003.75 1592.07L1005 1612.52L1005.25 1612.01L1007 1569.08L1009 1618.14L1009.25 1622.99L1010.5 1615.07L1013.5 1634.08L1013.75 1633.47L1016 1615.07L1017.75 1629.38L1019.5 1615.07L1021 1627.33L1021.25 1627.33L1022.75 1615.07L1025.25 1635.51L1027.75 1615.07L1030.5 1637.55L1030.75 1638.06ZM1034.50 1638.06L1034.75 1634.27L1037.75 1569.08L1040.5 1628.83L1040.75 1627.33L1042.25 1615.07L1042.5 1617.11L1042.75 1615.07L1043 1617.04L1043.25 1615.07L1044.25 1622.94L1044.5 1624.28L1046.75 1569.08L1047.75 1593.61L1048 1593.61L1049 1569.08L1051.75 1636.54L1052 1638.06ZM1052.00 1638.06L1052.25 1637.55L1055 1615.07L1055.5 1619.16L1055.75 1620.94L1056.5 1615.07L1057.25 1620.94L1057.5 1621.2L1058.25 1615.07L1060.75 1635.51L1061 1633.86L1062.75 1615.07L1064 1628.49L1064.25 1624.78L1066.25 1592.07L1067.75 1616.61L1068 1611.51L1070 1546.09L1071.5 1595.15L1071.75 1599.75L1073 1569.08L1074.25 1599.75L1074.5 1599.75L1075.75 1569.08L1078.5 1636.54L1078.75 1638.06ZM1078.75 1638.06L1079 1637.55L1081.75 1615.07L1083 1625.29L1083.25 1624.78L1085.25 1592.07L1086.25 1608.43L1086.5 1608.43L1087.5 1592.07L1090 1632.96L1090.25 1636.54L1093 1569.08L1094.5 1605.88L1094.75 1607.28L1096.25 1592.07L1096.75 1597.14L1097 1593.61L1098 1569.08L1099.25 1599.75L1099.5 1599.75L1100.75 1569.08L1102.75 1618.14L1103 1617.18L1103.5 1615.07L1107.5 1631.97L1107.75 1631.81L1109.75 1615.07L1111.5 1629.72L1111.75 1629.38L1113.5 1615.07L1114.5 1623.24L1114.75 1623.24L1115.75 1615.07L1117.25 1627.33L1117.5 1629.37L1119 1615.07L1119.25 1616.61L1120.75 1592.07L1123.5 1637.05L1123.75 1638.06ZM1124.00 1638.06L1124.25 1637.05L1127 1592.07L1128.5 1616.61L1128.75 1618.24L1129.25 1615.07L1130 1619.82L1130.25 1620.69L1132 1592.07L1134.75 1637.05L1135 1635.51L1137.5 1615.07L1137.75 1617.11L1138 1615.07L1138.75 1622.89L1139 1625.29L1140.25 1615.07L1143 1637.55L1143.25 1638.06ZM1145.00 1638.06L1145.25 1637.17L1147.5 1523.09L1149.25 1611.82L1149.5 1619.82L1150.25 1615.07L1153.75 1637.25L1154 1638.06ZM1156.00 1638.06L1156.25 1636.8L1159.25 1615.07L1162.25 1636.8L1162.5 1638.06ZM1165.50 1638.06L1165.75 1637.7L1170.25 1592.07L1174.75 1637.7L1175 1638.06ZM1175.25 1638.06L1175.5 1637.55L1178.25 1615.07L1179.25 1623.24L1179.5 1625.12L1180.75 1615.07L1181.25 1619.09L1181.5 1619.16L1182 1615.07L1183.5 1627.33L1185 1615.07L1186.25 1625.29L1187.5 1615.07L1190.25 1637.55L1190.5 1638.06ZM1191.25 1638.06L1191.5 1636.54L1194.25 1569.08L1196 1612.01L1196.25 1616.61L1197.75 1592.07L1199.5 1620.69L1199.75 1623.62L1200.5 1615.07L1201.25 1623.62L1201.5 1626.16L1203.25 1615.07L1205.75 1630.91L1206 1629.45L1207.25 1615.07L1209 1635.21L1209.25 1638.06ZM1212.25 1638.06L1212.5 1635.53L1215.5 1592.07L1218.5 1635.53L1218.75 1638.06ZM1220.75 1638.06L1221 1637.55L1223.75 1615.07L1224 1617.11L1224.25 1617.33L1224.5 1615.07L1226.5 1633.2L1226.75 1633.47L1229 1615.07L1230 1623.24L1230.25 1621.73L1231 1615.07L1231.75 1621.73L1232 1621.2L1232.75 1615.07L1233.75 1623.24L1234 1624.28L1236.25 1569.08L1238 1612.01L1238.25 1612.52L1239.5 1592.07L1240.25 1604.34L1240.5 1603.33L1242.25 1546.09L1245 1636.04L1245.25 1638.06ZM1246.50 1638.06L1246.75 1637.05L1249.5 1592.07L1251.5 1624.78L1251.75 1624.57L1253.25 1615.07L1254 1619.82L1254.25 1618.99L1254.75 1615.07L1257.25 1634.66L1257.5 1632.96L1260 1592.07L1262.75 1637.05L1263 1635.51L1265.5 1615.07L1266.5 1623.24L1266.75 1622.54L1267.5 1615.07L1268.25 1622.54L1268.5 1624.78L1270.5 1592.07L1272.75 1628.87L1273 1631.42L1275 1615.07L1277 1631.42L1279 1615.07L1280.5 1627.33L1280.75 1624.78L1282.75 1592.07L1283.75 1608.43L1284 1607.92L1285.25 1592.07L1286.25 1604.75L1286.5 1607.59L1288.5 1523.09L1291 1628.72L1291.25 1638.06ZM1292.75 1638.06L1293 1637.05L1295.75 1592.07L1297 1612.52L1297.25 1612.52L1298.5 1592.07L1299.75 1612.52L1300 1612.52L1301.25 1592.07L1304 1637.05L1304.25 1638.06ZM1304.50 1638.06L1304.75 1637.55L1307.5 1615.07L1309.5 1631.42L1309.75 1628.87L1312 1592.07L1314 1624.78L1314.25 1628.34L1314.75 1632.76L1315 1626.85L1317.5 1500.1L1318.75 1563.48L1319 1570.62L1319.75 1546.09L1320.5 1570.62L1320.75 1563.48L1322 1500.1L1323.75 1588.83L1324 1596.16L1324.25 1592.07L1325.75 1616.61L1326 1611.51L1328 1546.09L1329.75 1603.33L1330 1604.34L1330.75 1592.07L1331.75 1608.43L1332 1611.51L1334 1546.09L1335 1578.8L1335.25 1578.8L1336.25 1546.09L1338.5 1619.68L1338.75 1619.16L1339.25 1615.07L1341 1629.38L1341.25 1629.38L1343 1615.07L1343.5 1619.16L1343.75 1618.14L1345.75 1569.08L1347.75 1618.14L1348 1617.6L1348.5 1615.07L1353 1637.88L1353.25 1638.06ZM1358.75 1638.06L1359 1636.37L1361.25 1615.07L1362.25 1624.53L1362.5 1623.94L1364.25 1615.07L1367.75 1632.81L1368 1633.47L1370.25 1615.07L1372.25 1631.42L1374.25 1615.07L1376.5 1633.47L1378.75 1615.07L1380.25 1627.33L1380.5 1627.33L1382 1615.07L1382.25 1617.11L1382.5 1617.63L1382.75 1615.07L1383.25 1620.2L1383.5 1618.14L1385.5 1569.08L1388 1630.41L1388.25 1635.66L1391.5 1615.07L1393.25 1626.16L1393.5 1626.12L1396.5 1569.08L1399 1616.61L1399.25 1620.85L1400.5 1635.32L1400.75 1638.06ZM1401.75 1638.06L1402 1636.76L1403 1624.36L1403.25 1620.69L1405 1592.07L1406 1608.43L1406.25 1605.88L1407.75 1569.08L1409.25 1605.88L1409.5 1604.87L1411.5 1523.09L1413.25 1594.65L1413.5 1604.34L1414.25 1592.07L1416 1620.69L1417.75 1592.07L1419.75 1624.78L1420 1627.33L1421.5 1615.07L1423.5 1631.42L1423.5 1638.06Z" fill="#0000ff" stroke="#000085" stroke-width="0.65" stroke-linejoin="miter" stroke-miterlimit="10"/>
<path d="M271 1500.0V1638.1" stroke="#7f7f7f" stroke-width="1.1" fill="none"/>
<path d="M259.2 1500.0H271.5" stroke="#222" stroke-width="1" fill="none"/>
<path d="M259.2 1638.1H271.5" stroke="#7f7f7f" stroke-width="1.4" fill="none"/>
<text x="251.8" y="1502.7" class="tk" text-anchor="end">6</text>
<text x="251.8" y="1641.3" class="tk" text-anchor="end">0</text>
<text x="73.5" y="1575.3" class="lb">GSM2481682</text>
<path d="M319.25 1792.00L369.75 1764.1L376.5 1791.5L383.25 1764.1L746 1791.96L746.25 1792ZM746.50 1792.00L1109 1709.5L1215.5 1792ZM1215.50 1792.00L1320.75 1763.9L1321.5 1682L1322.5 1653.9L1323.5 1653.9L1324 1682L1350.75 1792ZM1350.75 1792.00L1377.25 1763.9L1377.75 1736.2L1378.5 1736.2L1379 1763.9L1388.25 1792ZM1388.25 1792.00L1397.25 1736.2L1397.5 1709L1398.25 1709L1398.75 1736.2L1411.5 1792Z" fill="#0000ff" stroke="#000085" stroke-width="0.65" stroke-linejoin="miter" stroke-miterlimit="10"/>
<path d="M271 1653.9V1792.0" stroke="#7f7f7f" stroke-width="1.1" fill="none"/>
<path d="M259.2 1653.9H271.5" stroke="#222" stroke-width="1" fill="none"/>
<path d="M259.2 1792.0H271.5" stroke="#7f7f7f" stroke-width="1.4" fill="none"/>
<text x="251.8" y="1656.6" class="tk" text-anchor="end">343</text>
<text x="251.8" y="1795.2" class="tk" text-anchor="end">0</text>
<text x="73.5" y="1729.2" class="lb">GSM2481681</text>
<path d="M328.00 1945.94L387 1876.94L445 1945.94ZM445.00 1945.94L504 1876.94L505.25 1905.94L506.5 1876.94L515.25 1945.94ZM515.25 1945.94L525.25 1876.94L571.5 1945.94ZM571.50 1945.94L618.25 1876.94L704.5 1945.94ZM704.50 1945.94L791 1876.94L792.75 1930.94L794.5 1876.94L795.5 1915.94L797.5 1876.94L812.5 1945.94ZM812.50 1945.94L826.5 1876.94L863.25 1945.94ZM863.25 1945.94L900.75 1877.4L901 1807.84L901.75 1807.84L902 1876.94L992.5 1945.94ZM992.50 1945.94L1084 1876.94L1242.75 1945.94ZM1242.75 1945.94L1400.5 1876.94L1412 1945.94ZM1412.00 1945.94L1423.25 1876.94L1423.5 1945.94Z" fill="#0000ff" stroke="#000085" stroke-width="0.65" stroke-linejoin="miter" stroke-miterlimit="10"/>
<path d="M271 1807.8V1945.9" stroke="#7f7f7f" stroke-width="1.1" fill="none"/>
<path d="M259.2 1807.8H271.5" stroke="#222" stroke-width="1" fill="none"/>
<path d="M259.2 1945.9H271.5" stroke="#7f7f7f" stroke-width="1.4" fill="none"/>
<text x="251.8" y="1810.5" class="tk" text-anchor="end">79</text>
<text x="251.8" y="1949.1" class="tk" text-anchor="end">0</text>
<text x="73.5" y="1883.2" class="lb">GSM2481680</text>
<path d="M277.25 2099.88L285.5 2030.88L369.25 2099.88ZM369.25 2099.88L454 2030.88L488 2099.88ZM488.00 2099.88L522.25 2031.38L522.5 1961.78L523.25 1961.78L523.5 2030.88L570.25 2099.88ZM570.25 2099.88L617.5 2030.88L618.75 2071.88L620 2030.88L690 2099.88ZM690.00 2099.88L760.25 2030.88L762 2071.88L763.5 2030.88L770.5 2099.88ZM770.50 2099.88L778 2030.88L928 2099.88ZM928.00 2099.88L1078 2030.88L1199.25 2099.88ZM1199.25 2099.88L1320.25 2030.88L1373 2099.88Z" fill="#0000ff" stroke="#000085" stroke-width="0.65" stroke-linejoin="miter" stroke-miterlimit="10"/>
<path d="M271 1961.8V2099.9" stroke="#7f7f7f" stroke-width="1.1" fill="none"/>
<path d="M259.2 1961.8H271.5" stroke="#222" stroke-width="1" fill="none"/>
<path d="M259.2 2099.9H271.5" stroke="#7f7f7f" stroke-width="1.4" fill="none"/>
<text x="251.8" y="1964.5" class="tk" text-anchor="end">74</text>
<text x="251.8" y="2103.1" class="tk" text-anchor="end">0</text>
<text x="73.5" y="2037.1" class="lb">GSM2481679</text>
<path d="M290.75 2253.82L310.25 2184.82L315 2241.82L319.5 2184.82L320 2115.72L320.75 2115.72L321.25 2184.82L332 2253.82ZM332.00 2253.82L342.5 2184.82L344 2215.82L344.75 2184.82L347 2235.82L349.75 2184.82L415.5 2253.82ZM415.50 2253.82L480.5 2184.82L481.5 2115.72L482.25 2115.72L506.25 2253.82ZM506.25 2253.82L531 2184.82L531.25 2115.72L532 2115.72L532.25 2184.82L563 2253.82ZM563.00 2253.82L594 2184.82L594.25 2115.72L594.75 2115.72L595 2184.82L626.5 2253.82ZM626.50 2253.82L660 2184.82L679.5 2253.82ZM679.50 2253.82L698.5 2184.82L706.75 2253.82ZM706.75 2253.82L716.25 2184.82L738.5 2253.82ZM738.50 2253.82L760.25 2184.82L762 2216.82L763.75 2184.82L820.5 2253.82ZM820.50 2253.82L877.25 2184.82L896.25 2253.82ZM896.25 2253.82L915.75 2184.82L920.75 2248.82L926.25 2184.82L928.5 2233.82L931.5 2115.72L932 2115.72L943 2253.82ZM943.00 2253.82L954.75 2184.82L958 2241.82L961 2184.82L963.75 2241.82L967 2184.82L973 2249.82L978.25 2184.82L1056.75 2253.82ZM1056.75 2253.82L1135.25 2184.82L1148.75 2253.82ZM1148.75 2253.82L1162.5 2184.82L1170.5 2251.82L1177.5 2184.82L1195.5 2253.82ZM1195.50 2253.82L1213.25 2184.82L1229 2253.82ZM1229.00 2253.82L1244.5 2184.82L1271.25 2253.82ZM1271.25 2253.82L1298.5 2184.82L1300 2225.82L1301.25 2184.82L1363.5 2253.82Z" fill="#0000ff" stroke="#000085" stroke-width="0.65" stroke-linejoin="miter" stroke-miterlimit="10"/>
<path d="M271 2115.7V2253.8" stroke="#7f7f7f" stroke-width="1.1" fill="none"/>
<path d="M259.2 2115.7H271.5" stroke="#222" stroke-width="1" fill="none"/>
<path d="M259.2 2253.8H271.5" stroke="#7f7f7f" stroke-width="1.4" fill="none"/>
<text x="251.8" y="2118.4" class="tk" text-anchor="end">58</text>
<text x="251.8" y="2257.0" class="tk" text-anchor="end">0</text>
<text x="73.5" y="2191.1" class="lb">GSM2481678</text>
<path d="M271.00 2407.76L271 2393.8L272.25 2382.64L274 2398.27L274.25 2396.88L276.25 2370.07L278.5 2400.23L278.75 2398.27L280.5 2382.64L282.25 2398.27L282.5 2399.67L283.5 2395.2L284.75 2400.78L285 2400.38L286 2395.2L286.75 2399.08L287 2399.67L288 2395.2L289.75 2403.02L290 2403.02L291.75 2395.2L294 2405.25L296.25 2395.2L297.25 2399.67L297.5 2396.88L299.5 2370.07L301.25 2393.53L301.5 2396.04L303 2382.64L305 2400.51L305.25 2401.52L306.25 2395.2L307.25 2401.52L307.5 2401.9L309 2395.2L310.25 2400.78L310.5 2399.48L311.25 2395.2L312 2399.48L312.25 2400.23L314.5 2370.07L316.5 2396.88L316.75 2396.36L317 2395.2L317.25 2396.36L317.5 2396.04L319 2382.64L320.5 2396.04L320.75 2397.72L323 2357.51L325 2393.25L325.25 2396.04L326.75 2382.64L327.75 2391.57L328 2391.57L329 2382.64L330 2391.57L330.25 2390.18L331.75 2370.07L333.75 2396.88L334 2398.55L334.75 2395.2L335.25 2397.43L335.5 2398.42L336.25 2395.2L339 2407.02L339.25 2407.76ZM340.50 2407.76L340.75 2407.21L343.5 2382.64L346.25 2407.21L346.5 2407.76ZM347.75 2407.76L348 2407.48L350.75 2395.2L351 2396.31L351.25 2396.27L351.5 2395.2L354.25 2406.99L354.5 2407.76ZM355.00 2407.76L355.25 2407.04L357 2395.2L357.25 2396.04L358.75 2382.64L360 2393.8L360.25 2395.2L360.5 2396.04L362 2382.64L363.5 2396.04L363.75 2395.2L365.5 2406.7L365.75 2407.76ZM365.75 2407.76L366 2407.48L368.75 2395.2L369.75 2399.67L370 2400.51L372 2382.64L374.75 2407.21L375 2407.76ZM375.25 2407.76L375.5 2406.93L378.25 2370.07L380.5 2400.23L380.75 2398.27L382.5 2382.64L384.25 2398.27L386 2382.64L388.5 2404.97L388.75 2404.8L390.25 2395.2L390.75 2398.4L391 2397.43L391.5 2395.2L393.5 2404.13L393.75 2402.74L396 2382.64L398.5 2404.97L398.75 2406.63L400.5 2395.2L401.25 2400.1L401.5 2398.27L403.25 2382.64L405.5 2402.74L405.75 2403.02L407.5 2395.2L408 2397.43L408.25 2397.72L410.5 2357.51L411.75 2379.85L412 2379.85L413.25 2357.51L414.75 2384.32L415 2383.48L416 2370.07L418 2396.88L418.25 2397.43L418.75 2395.2L421.25 2406.37L421.5 2406.66L424.25 2357.51L427 2406.66L427.25 2407.76ZM429.25 2407.76L429.5 2407.21L432.25 2382.64L435 2407.21L435.25 2407.76ZM436.25 2407.76L436.5 2407.48L439.25 2395.2L441.75 2406.37L442 2404.97L444.5 2382.64L446 2396.04L446.25 2396.88L448.25 2370.07L449.25 2383.48L449.5 2383.48L450.5 2370.07L451.75 2386.83L452 2386.83L453.25 2370.07L453.75 2376.77L454 2378.46L455.5 2344.95L458.25 2406.38L458.5 2407.76ZM459.50 2407.76L459.75 2406.8L461.75 2395.2L462 2396.65L462.25 2397.43L462.75 2395.2L465.25 2406.37L465.5 2407.38L465.75 2405.86L466 2403.58L468.5 2370.07L471 2403.58L471.25 2404.18L472.5 2396.7L472.75 2393.53L474.5 2370.07L476.25 2393.53L476.5 2393.8L477.75 2382.64L479.25 2396.04L480.75 2382.64L483.25 2404.97L483.5 2405.27L485.75 2395.2L486 2396.32L486.25 2397.43L486.75 2395.2L488.75 2404.13L489 2403.96L491 2395.2L493 2403.96L493.25 2403.47L494.75 2395.2L495 2396.58L495.25 2397.43L495.75 2395.2L498 2405.25L498.25 2404.03L499.75 2395.2L500 2396.31L500.25 2395.2L501.75 2401.9L502 2401.9L503.5 2395.2L504 2397.43L504.25 2396.88L506.25 2370.07L508.5 2400.23L508.75 2400.79L509.75 2395.2L510.5 2399.39L510.75 2399.67L511.75 2395.2L514.5 2407.48L514.75 2407.76ZM516.50 2407.76L516.75 2407.48L519.5 2395.2L519.75 2396.31L520 2397.36L520.5 2395.2L522.5 2403.84L522.75 2403.02L524 2395.2L524.5 2398.32L524.75 2397.43L525.25 2395.2L527 2403.02L527.25 2403.47L529 2395.2L531.5 2407.02L531.75 2407.76ZM532.00 2407.76L532.25 2407.66L536.75 2395.2L539.5 2402.82L539.75 2400.23L542 2370.07L544 2396.88L544.25 2396.04L545.75 2382.64L547 2393.8L547.25 2393.25L549.25 2357.51L551 2388.78L551.25 2386.83L552.5 2370.07L553.75 2386.83L554 2388.78L555.75 2357.51L557 2379.85L557.25 2380.13L558 2370.07L559.75 2393.53L560 2396.38L560.25 2395.2L560.75 2397.57L561 2397.43L561.5 2395.2L563 2401.9L563.25 2402.68L564.25 2397.69L564.5 2396.04L566 2382.64L567.75 2398.27L568 2397.72L570.25 2357.51L571.25 2375.38L571.5 2368.3L573 2319.82L574.75 2376.38L575 2380.13L575.75 2370.07L578.5 2406.93L578.75 2407.76ZM579.00 2407.76L579.25 2406.93L582 2370.07L583.75 2393.53L584 2393.8L585.25 2382.64L587.5 2402.74L589.75 2382.64L591.5 2398.27L593.25 2382.64L595 2398.27L595.25 2397.51L595.75 2395.2L596.5 2398.67L596.75 2399.67L597.75 2395.2L600.25 2406.37L600.5 2407.21L603.25 2382.64L605.25 2400.51L605.5 2400.23L607.75 2370.07L609.75 2396.88L610 2396.04L611.5 2382.64L612.75 2393.8L613 2395.2L615.5 2406.04L615.75 2404.97L618.25 2382.64L620 2398.27L620.25 2397.42L620.75 2395.2L622.75 2404.1L623 2403.93L625 2395.2L625.25 2393.8L626.5 2382.64L628 2396.04L629.5 2382.64L631.75 2402.74L632 2403.58L634.5 2370.07L635.75 2386.83L636 2386.83L637.25 2370.07L639.25 2396.88L639.5 2396.04L641 2382.64L643.25 2402.74L643.5 2404.13L645.5 2395.2L645.75 2395.2L646.5 2399.49L646.75 2400.78L648 2406.37L648.25 2407.21L651 2382.64L651.25 2382.64L653.5 2402.74L653.75 2403.58L656.25 2370.07L656.75 2376.77L657.25 2370.07L659 2393.53L659.25 2396.88L659.5 2395.2L660 2398.56L660.25 2399.67L661.25 2395.2L664 2407.48L664.25 2407.76ZM664.50 2407.76L664.75 2406.22L666.5 2395.2L666.75 2392.7L669 2332.39L671.25 2392.7L671.5 2393.8L672.75 2382.64L675 2402.74L677.25 2382.64L680 2407.21L680.25 2407.76ZM681.75 2407.76L682 2407.52L684 2395.2L684.25 2396.74L684.5 2397.43L685 2395.2L686.75 2403.02L687 2403.81L688.75 2395.2L689 2396.43L689.25 2396.04L690.75 2382.64L692 2393.8L692.25 2393.53L694 2370.07L695 2383.48L695.25 2383.48L696.25 2370.07L698.25 2396.88L698.5 2398.62L699.25 2395.2L700.5 2400.91L700.75 2400.23L703 2370.07L704.25 2386.83L704.5 2386.83L705.75 2370.07L707.5 2393.53L707.75 2393.8L709 2382.64L711.5 2404.97L711.75 2403.95L713.5 2395.2L714.5 2400.2L714.75 2395.21L717 2344.95L719.25 2395.21L719.5 2399.48L719.75 2400.51L721.75 2382.64L723.5 2398.27L723.75 2396.88L725.75 2370.07L727.5 2393.53L727.75 2396.04L729.25 2382.64L731.75 2404.97L732 2404.13L734 2395.2L734.5 2397.43L734.75 2397.57L735.25 2395.2L735.5 2389.63L737.5 2344.95L738 2356.12L738.25 2345.75L739.5 2282.27L739.75 2269.66L740 2282.27L742 2383.84L742.25 2389.34L743 2382.64L745.25 2402.74L745.5 2404.13L747.5 2395.2L749 2401.9L749.25 2397.72L751.5 2357.51L753.75 2397.72L754 2399.68L754.5 2401.91L754.75 2403.02L756.5 2395.2L759.25 2407.48L759.5 2407.76ZM759.50 2407.76L759.75 2406.66L762.5 2357.51L763.75 2379.85L764 2379.85L765.25 2357.51L766.75 2384.32L767 2383.48L768 2370.07L769.5 2390.18L771 2370.07L773 2396.88L773.25 2397.43L773.75 2395.2L774.75 2399.66L775 2399.67L776 2395.2L777.75 2403.02L778 2402.74L780.25 2382.64L782 2398.27L782.25 2398.51L782.75 2395.2L783 2396.85L783.25 2393.25L785.25 2357.51L787.5 2397.72L787.75 2400.98L788 2402.42L788.25 2401.9L789.75 2395.2L792.5 2407.48L792.75 2407.76ZM793.00 2407.76L793.25 2407.48L796 2395.2L797.75 2403.02L798 2402.19L800.5 2357.51L801.5 2375.38L801.75 2378.46L803.25 2344.95L804.75 2378.46L805 2376.77L805.5 2370.07L808.25 2406.93L811 2370.07L813.5 2403.58L813.75 2403.02L815.5 2395.2L815.75 2396.31L816 2397.41L816.5 2395.2L817 2397.41L817.25 2397.72L819.5 2357.51L821.5 2393.25L821.75 2396.04L823.25 2382.64L825.5 2402.74L825.75 2404.13L827.75 2395.2L828.25 2397.43L828.5 2397.76L829 2395.2L830 2400.31L830.25 2400.51L832.25 2382.64L835 2407.21L837.75 2382.64L839.75 2400.51L840 2401.9L841.5 2395.2L841.75 2395.2L842.25 2398.18L842.5 2399.67L844.25 2407.48L844.5 2407.21L847.25 2382.64L849.5 2402.74L849.75 2402.84L851.5 2395.2L851.75 2395.2L853 2400.78L853.25 2400.23L855.5 2370.07L856.5 2383.48L856.75 2378.46L858.25 2344.95L859.25 2367.29L859.5 2372.6L861 2332.39L862.75 2379.3L863 2383.48L864 2370.07L866 2396.88L866.25 2396.04L867.75 2382.64L870.25 2404.97L870.5 2406.93L873.25 2370.07L875 2393.53L875.25 2393.25L877.25 2357.51L879.5 2397.72L879.75 2396.04L881.25 2382.64L882.75 2396.04L883 2397.72L885.25 2357.51L887.75 2402.19L888 2402.74L890.25 2382.64L892.75 2404.97L895.25 2382.64L897.5 2402.74L897.75 2403.02L899.5 2395.2L900.25 2398.55L900.5 2399.15L901.25 2395.2L902.75 2403.09L903 2402.74L905.25 2382.64L906.5 2393.8L906.75 2395.2L908.75 2407.28L909 2407.21L911.75 2382.64L913.5 2398.27L915.25 2382.64L916.75 2396.04L917 2396.04L918.5 2382.64L919.75 2393.8L920 2395.2L920.25 2396.63L920.5 2396.04L922 2382.64L923.25 2393.8L923.5 2395.2L924.25 2400.3L924.5 2400.78L925.75 2395.2L927.25 2401.9L927.5 2400.23L929.75 2370.07L932.25 2403.58L932.5 2406.66L935.25 2357.51L937.25 2393.25L937.5 2393.53L939.25 2370.07L941 2393.53L941.25 2393.8L942.5 2382.64L943.5 2391.57L943.75 2393.25L945.75 2357.51L947.75 2393.25L948 2393.8L949.25 2382.64L951 2398.27L951.25 2398.27L953 2382.64L954 2391.57L954.25 2387.68L956.5 2307.26L957.25 2334.07L957.5 2334.91L958.5 2294.7L961 2395.22L961.25 2398.55L962 2395.2L962.25 2396.31L962.5 2396.9L962.75 2395.2L964 2403.71L964.25 2403.02L966 2395.2L966.25 2396.31L966.5 2395.2L968 2402.02L968.25 2402.19L970.75 2357.51L973 2397.72L973.25 2399.67L974.25 2395.2L975.25 2399.67L975.5 2400.51L977.5 2382.64L979 2396.04L979.25 2395.2L980 2400.32L980.25 2400.23L982.5 2370.07L984 2390.18L985.5 2370.07L987 2390.18L987.25 2390.18L988.75 2370.07L990.75 2396.88L991 2396.04L992.5 2382.64L994.25 2398.27L994.5 2399.5L995.5 2395.2L996.25 2398.43L996.5 2397.43L997 2395.2L998.25 2400.78L998.5 2399.67L999.5 2395.2L1001.25 2403.03L1001.5 2402.74L1003.75 2382.64L1005.5 2398.27L1005.75 2399.59L1008.25 2307.26L1010.25 2381.13L1010.5 2383.48L1011.5 2370.07L1013.25 2393.53L1013.5 2396.72L1013.75 2395.2L1014.25 2398.24L1014.5 2397.43L1015 2395.2L1017.5 2406.37L1017.75 2406.93L1020.5 2370.07L1022.5 2396.88L1022.75 2396.04L1024.25 2382.64L1026.25 2400.51L1026.5 2400.78L1027.75 2395.2L1028.75 2399.67L1029 2396.88L1031 2370.07L1033.25 2400.23L1033.5 2399.67L1034.5 2395.2L1036 2401.9L1036.25 2401.08L1036.5 2399.61L1036.75 2396.88L1038.75 2370.07L1039.75 2383.48L1040 2379.85L1041.25 2357.51L1041.5 2357.51L1043.25 2388.78L1043.5 2391.57L1044.5 2382.64L1044.75 2378.46L1046.25 2344.95L1046.5 2350.53L1046.75 2344.95L1048 2372.87L1048.25 2373.42L1048.5 2370.07L1048.75 2373.42L1049 2370.07L1049.25 2373.42L1049.5 2372.6L1051 2332.39L1052.75 2379.3L1053 2376.77L1053.5 2370.07L1056.25 2406.93L1056.5 2407.76ZM1058.25 2407.76L1058.5 2407.21L1061.25 2382.64L1062.75 2396.04L1063 2396.88L1065 2370.07L1066.25 2386.83L1066.5 2389.63L1068.5 2344.95L1070.25 2384.04L1070.5 2386.83L1071.75 2370.07L1073.5 2393.53L1073.75 2396.04L1075.25 2382.64L1076.75 2396.04L1077 2395.2L1077.5 2397.68L1077.75 2398.27L1079.5 2382.64L1080.5 2391.57L1080.75 2393.25L1082.75 2357.51L1084.5 2388.78L1084.75 2390.18L1086.25 2370.07L1088 2393.53L1088.25 2396.47L1088.5 2396.04L1090 2382.64L1091.5 2396.04L1091.75 2398.24L1093 2405.86L1093.25 2406.37L1095.75 2395.2L1096 2396.31L1096.25 2395.2L1097 2400.35L1097.25 2401.9L1098.5 2407.48L1098.75 2406.94L1100.75 2395.2L1101 2393.8L1102.25 2382.64L1104.25 2400.51L1106.25 2382.64L1108.5 2402.74L1108.75 2400.79L1111.25 2344.95L1112.75 2378.46L1113 2383.48L1114 2370.07L1116 2396.88L1118 2370.07L1120 2396.88L1120.25 2396.04L1121.75 2382.64L1123.25 2396.04L1124.75 2382.64L1125.75 2391.57L1126 2390.18L1127.5 2370.07L1129.25 2393.53L1129.5 2393.8L1130.75 2382.64L1133.5 2407.21L1133.75 2406.37L1136.25 2395.2L1138.5 2405.25L1138.75 2405.67L1140.5 2395.2L1140.75 2396.69L1141 2396.04L1142.5 2382.64L1144 2396.04L1144.25 2397.72L1144.75 2395.2L1145.5 2398.98L1145.75 2400.23L1148 2370.07L1149.75 2393.53L1150 2391.57L1151 2382.64L1152 2391.57L1152.25 2393.25L1154.25 2357.51L1156.5 2397.72L1156.75 2399.95L1157.5 2395.2L1158.5 2401.53L1158.75 2401.9L1160.25 2395.2L1161.75 2401.9L1162 2400.23L1164.25 2370.07L1166 2393.53L1166.25 2396.46L1167.5 2402.75L1167.75 2401.9L1169.25 2395.2L1170.75 2401.9L1171 2400.51L1173 2382.64L1175.5 2404.97L1175.75 2404.97L1178.25 2382.64L1180.5 2402.74L1180.75 2404.13L1182.75 2395.2L1184.25 2401.9L1184.5 2400.51L1186.5 2382.64L1187.5 2391.57L1187.75 2390.18L1189.25 2370.07L1191 2393.53L1191.25 2396.04L1192.75 2382.64L1194.5 2398.27L1194.75 2398.27L1196.5 2382.64L1197.75 2393.8L1198 2393.53L1199.75 2370.07L1201.5 2393.53L1201.75 2396.04L1203.25 2382.64L1205 2398.27L1205.25 2398.48L1205.75 2395.2L1207.25 2405.04L1207.5 2402.19L1210 2357.51L1211.75 2388.78L1212 2388.78L1213.75 2357.51L1216 2397.72L1216.25 2394.71L1219.25 2332.39L1222.25 2394.71L1222.5 2393.8L1223.75 2382.64L1226.5 2407.21L1226.75 2407.48L1229.5 2395.2L1232 2406.37L1232.25 2406.66L1235 2357.51L1236.5 2384.32L1236.75 2384.32L1238.25 2357.51L1240.5 2397.72L1240.75 2402.09L1242.25 2395.2L1242.5 2396.04L1244 2382.64L1245.75 2398.27L1246 2399.98L1247 2395.2L1247.25 2393.8L1248.5 2382.64L1250.75 2402.74L1251 2404.19L1252.75 2395.2L1253.5 2399.05L1253.75 2398.27L1255.5 2382.64L1257.25 2398.27L1257.5 2397.79L1258 2395.2L1258.25 2393.53L1260 2370.07L1262.25 2400.23L1262.5 2402.32L1263 2405.17L1263.25 2403.58L1265.75 2370.07L1268 2400.23L1268.25 2400.33L1269.25 2395.2L1271.5 2406.75L1271.75 2407.76ZM1276.00 2407.76L1276.25 2407.21L1279 2382.64L1280.25 2393.8L1280.5 2393.8L1281.75 2382.64L1284.5 2407.21L1284.75 2406.37L1287.25 2395.2L1289.5 2405.25L1291.75 2395.2L1294 2405.25L1296.25 2395.2L1297.75 2401.9L1298 2401.9L1299.5 2395.2L1300 2397.43L1300.25 2397.78L1300.75 2395.2L1301 2396.49L1301.25 2393.53L1303 2370.07L1304.75 2393.53L1305 2396.3L1306.25 2401.79L1306.5 2397.55L1309 2282.14L1311.25 2386.01L1311.5 2390.18L1313 2370.07L1315.5 2403.58L1315.75 2406.46L1317.75 2395.2L1318 2393.53L1319.75 2370.07L1320.25 2376.77L1320.5 2378.46L1322 2344.95L1322.25 2345.75L1323.75 2280.46L1324 2269.66L1324.25 2280.46L1325.5 2334.87L1325.75 2335.46L1326.25 2319.82L1328.5 2390.19L1328.75 2396.04L1330.25 2382.64L1331.25 2391.57L1331.5 2386L1333.5 2332.39L1335 2372.6L1335.25 2367.29L1336.25 2344.95L1337.75 2378.46L1338 2374.55L1339.75 2319.82L1341.5 2374.55L1341.75 2379.85L1343 2357.51L1345.5 2402.19L1345.75 2405.58L1346 2404.28L1346.25 2402.74L1348.5 2382.64L1350.25 2398.27L1350.5 2399.06L1351.25 2395.2L1353 2404.21L1353.25 2404.13L1354 2400.78L1354.25 2399.39L1355 2395.2L1355.25 2395.2L1358 2407.48L1358.25 2406.93L1361 2370.07L1363.5 2403.58L1363.75 2406.66L1366.5 2357.51L1369.25 2406.66L1372 2357.51L1373.75 2388.78L1374 2390.18L1375.5 2370.07L1377.5 2396.88L1377.75 2396.04L1379.25 2382.64L1381.75 2404.97L1382 2406.93L1384.75 2370.07L1386.75 2396.88L1387 2399.52L1387.25 2400.6L1387.5 2400.79L1390 2344.95L1392.5 2400.79L1392.75 2402.74L1395 2382.64L1396.5 2396.04L1396.75 2395.2L1397.5 2400.19L1397.75 2396.88L1399.75 2370.07L1400.5 2380.13L1400.75 2379.85L1402 2357.51L1403.75 2388.78L1404 2391.57L1405 2382.64L1406.5 2396.04L1406.75 2395.2L1408.5 2403.41L1408.75 2400.23L1411 2370.07L1413 2396.88L1415 2370.07L1417 2396.88L1417.25 2396.04L1418.75 2382.64L1420 2393.8L1420.25 2395.2L1421.75 2401.88L1422 2400.78L1423.25 2395.2L1423.5 2396.31L1423.5 2407.76Z" fill="#0000ff" stroke="#000085" stroke-width="0.65" stroke-linejoin="miter" stroke-miterlimit="10"/>
<path d="M271 2269.7V2407.8" stroke="#7f7f7f" stroke-width="1.1" fill="none"/>
<path d="M259.2 2269.7H271.5" stroke="#222" stroke-width="1" fill="none"/>
<path d="M259.2 2407.8H271.5" stroke="#7f7f7f" stroke-width="1.4" fill="none"/>
<text x="251.8" y="2272.4" class="tk" text-anchor="end">8</text>
<text x="251.8" y="2411.0" class="tk" text-anchor="end">0</text>
<text x="73.5" y="2345.0" class="lb">GSM2481677</text>
<path d="M755.00 2561.70L1240.75 2423.6L1333 2561.7Z" fill="#0000ff" stroke="#000085" stroke-width="0.65" stroke-linejoin="miter" stroke-miterlimit="10"/>
<path d="M271 2423.6V2561.7" stroke="#7f7f7f" stroke-width="1.1" fill="none"/>
<path d="M259.2 2423.6H271.5" stroke="#222" stroke-width="1" fill="none"/>
<path d="M259.2 2561.7H271.5" stroke="#7f7f7f" stroke-width="1.4" fill="none"/>
<text x="251.8" y="2426.3" class="tk" text-anchor="end">174</text>
<text x="251.8" y="2564.9" class="tk" text-anchor="end">0</text>
<text x="73.5" y="2498.9" class="lb">GSM2481676</text>
<path d="M273.50 2715.64L273.75 2712.47L278.25 2646.71L280.5 2679.59L280.75 2681.17L281 2683.24L283.5 2646.71L286.25 2686.9L286.5 2687.92L287.25 2681.17L288.75 2694.66L289 2694.66L290.25 2683.42L290.5 2678.01L293.5 2612.24L296.75 2683.49L297 2683.42L297.25 2681.17L299 2696.91L300.75 2681.17L303.5 2705.91L303.75 2706.24L305.25 2701.85L305.75 2703.31L306 2703.66L308.5 2681.17L309.25 2687.92L309.5 2686.9L312.25 2646.71L315.75 2697.86L316 2699.16L318 2681.17L320.75 2705.91L323.5 2681.17L325.25 2696.91L327 2681.17L330.5 2712.65L330.75 2711.66L335.75 2646.71L337.5 2669.44L339.25 2646.71L344.5 2714.91L344.75 2715.64ZM345.00 2715.64L345.25 2712.47L349.75 2646.71L352.25 2683.24L354.75 2646.71L357.25 2683.24L357.5 2681.17L360.5 2708.16L360.75 2705.17L365.25 2646.71L367.25 2672.69L369.25 2646.71L374.25 2711.66L374.5 2712.23L378.75 2681.17L381 2697.62L381.25 2699.16L383.25 2681.17L384.5 2692.42L384.75 2694.21L388 2646.71L391.5 2697.86L391.75 2699.16L393.75 2681.17L395.5 2696.91L395.75 2697.86L399.25 2646.71L402.5 2694.21L402.75 2694.21L406 2646.71L410.5 2712.47L410.75 2715.64ZM411.50 2715.64L411.75 2714.9L415.5 2681.17L417 2694.66L417.25 2694.66L418.75 2681.17L420.5 2696.91L422.25 2681.17L423.75 2694.66L424 2694.21L427.25 2646.71L436 2715.64ZM436.25 2715.64L436.5 2714.79L442.25 2681.17L446.25 2704.56L446.5 2705.17L450.5 2646.71L461.75 2715.64ZM461.75 2715.64L472.25 2681.17L477.75 2715.64ZM479.50 2715.64L479.75 2713.94L485.5 2646.71L491.25 2713.94L491.5 2715.64ZM491.75 2715.64L492 2714.91L497.25 2646.71L502.5 2714.91L502.75 2715.64ZM503.25 2715.64L503.5 2681.17L513 2715.64ZM518.00 2715.64L518.25 2714.79L524 2681.17L526 2692.87L526.25 2692.42L527.5 2681.17L531.25 2714.9L531.5 2714.9L535.25 2681.17L536.5 2692.42L536.75 2692.42L538 2681.17L539.75 2696.91L540 2698.67L544 2646.71L547.5 2692.18L547.75 2694.66L549.25 2681.17L549.75 2685.67L550 2683.24L552.5 2646.71L555.25 2686.9L555.5 2687.92L556.25 2681.17L559.5 2710.4L559.75 2710.4L563 2681.17L564.5 2694.66L566 2681.17L566.5 2685.67L566.75 2685.32L569.25 2612.24L571.75 2685.32L572 2687.02L573 2681.17L578.5 2713.33L578.75 2712.23L583 2681.17L584.75 2693.96L585 2695.42L588.75 2646.71L593.5 2708.42L593.75 2710.4L597 2681.17L600 2708.16L600.25 2708.16L603.25 2681.17L607 2714.9L607.25 2715.64ZM608.50 2715.64L608.75 2714.9L612.5 2681.17L613.75 2692.42L614 2688.46L616.5 2646.71L619.5 2696.82L619.75 2681.17L638.75 2715.64ZM638.75 2715.64L658.25 2646.71L660 2652.15L660.25 2675.94L661.75 2646.71L664.5 2700.3L664.75 2703.66L667.25 2681.17L668.75 2694.66L669 2690.55L671.25 2646.71L672.5 2671.06L672.75 2671.06L674 2646.71L682 2709.73L682.25 2709.49L690 2681.17L697.5 2708.58L697.75 2709.36L704.5 2681.17L704.75 2682.22L705 2673.62L706.75 2612.24L709.25 2699.93L709.5 2702.05L712.25 2713.54L712.5 2711.66L717.5 2646.71L721 2692.18L721.25 2692.42L722.5 2681.17L723.5 2690.17L723.75 2687.4L726.75 2612.24L730 2693.67L730.25 2694.66L731.75 2681.17L732.25 2685.67L732.5 2684.29L734.75 2646.71L737.5 2692.64L737.75 2692.13L739.25 2681.17L743.75 2714.06L744 2714.79L749.75 2681.17L751.25 2689.94L751.5 2686.9L754.25 2646.71L757.25 2690.55L760.25 2646.71L762.75 2683.24L763 2685.67L763.5 2681.17L764.5 2690.17L764.75 2686.9L767.5 2646.71L771.75 2708.82L772 2710.4L776 2681.17L780.5 2714.06L780.75 2715.64ZM781.25 2715.64L781.5 2714.9L785.25 2681.17L786.75 2694.66L788.25 2681.17L789.5 2692.42L789.75 2692.64L792.5 2646.71L794 2671.76L795.5 2646.71L805 2715.64ZM806.00 2715.64L806.25 2715.28L813.25 2681.17L816 2694.57L816.25 2694.66L817.75 2681.17L820 2701.41L820.25 2694.69L823.25 2577.77L826.25 2694.69L826.5 2698.67L830.5 2646.71L833.75 2688.93L834 2690.17L835 2681.17L838.25 2710.4L838.5 2712.23L842.75 2681.17L845.75 2703.1L848.75 2681.17L852.75 2710.4L853 2708.09L858.25 2646.71L864 2713.94L864.25 2715.64ZM866.00 2715.64L866.25 2714.06L870.75 2681.17L872.5 2693.96L872.75 2692.64L875.5 2646.71L876.75 2667.58L877 2667.05L879.5 2612.24L884 2710.89L884.25 2715.64ZM885.50 2715.64L885.75 2714.9L889.5 2681.17L891 2694.66L891.25 2694.66L892.75 2681.17L894 2692.42L895.25 2681.17L906.25 2715.64ZM909.25 2715.64L909.5 2714.58L917.5 2681.17L917.75 2673.62L919.5 2612.24L922 2699.93L922.25 2701.01L925.5 2714.58L925.75 2715.64ZM926.50 2715.64L926.75 2714.79L932.5 2681.17L938 2713.33L938.25 2712.23L942.5 2681.17L945.5 2703.1L945.75 2701.41L948 2681.17L950.5 2703.66L952.75 2683.42L953 2680.08L956.5 2577.77L961 2709.31L961.25 2715.64ZM961.25 2715.64L961.5 2714.9L965.25 2681.17L967 2696.91L967.25 2695.79L969.25 2681.17L973.75 2714.06L974 2715.64ZM974.25 2715.64L974.5 2714.79L980.25 2681.17L983.25 2698.71L983.5 2699.16L985.5 2681.17L988.75 2710.4L989 2709.34L992.75 2646.71L996.75 2713.52L997 2715.64ZM997.25 2715.64L997.5 2714.91L1002.75 2646.71L1004.25 2666.19L1004.5 2662.35L1006.5 2612.24L1009 2674.88L1009.25 2675.94L1011 2646.71L1012.75 2675.94L1013 2677.99L1016 2577.77L1018.5 2661.29L1018.75 2661.32L1019.5 2646.71L1022 2695.42L1022.25 2699.16L1024.25 2681.17L1027.5 2710.4L1027.75 2708.75L1032.25 2646.71L1046.75 2715.64ZM1046.75 2715.64L1063.5 2681.17L1065.5 2715.64ZM1067.00 2715.64L1067.25 2714.55L1070.75 2612.24L1072.5 2663.39L1072.75 2661.32L1073.5 2646.71L1080.75 2707.28L1081 2708.16L1084 2681.17L1087 2708.16L1087.25 2706.75L1090.75 2681.17L1094 2704.92L1094.25 2706.19L1098 2612.24L1101.5 2699.93L1101.75 2705.91L1104.5 2681.17L1107.75 2710.4L1108 2710.4L1111.25 2681.17L1113 2696.91L1114.75 2681.17L1123 2715.64ZM1123.00 2715.64L1129 2665.51L1129.25 2662.35L1131.25 2612.24L1133.5 2668.61L1133.75 2666.19L1134.75 2646.71L1138 2710.04L1138.25 2714.9L1142 2681.17L1144.25 2701.41L1146.5 2681.17L1147.75 2692.42L1148 2690.55L1150.25 2646.71L1151.25 2666.19L1151.5 2662.35L1153.5 2612.24L1157.25 2706.19L1157.5 2704.92L1160.75 2681.17L1165.25 2714.06L1165.5 2715.64ZM1165.75 2715.64L1166 2714.06L1170.5 2681.17L1172.75 2697.62L1173 2696.91L1174.75 2681.17L1182.75 2715.64ZM1185.00 2715.64L1185.25 2714.79L1191 2681.17L1193 2692.87L1193.25 2694.21L1196.5 2646.71L1200 2697.86L1200.25 2699.93L1204.25 2612.24L1208 2694.45L1208.25 2692.42L1209.5 2681.17L1211.25 2696.91L1211.5 2696.91L1213.25 2681.17L1215 2696.91L1216.75 2681.17L1219 2701.41L1219.25 2699.93L1222.75 2612.24L1226.75 2712.46L1227 2715.64ZM1228.00 2715.64L1228.25 2714.06L1232.75 2681.17L1235.25 2699.44L1235.5 2699.93L1239.5 2612.24L1241.5 2656.08L1241.75 2657.82L1254.5 2715.64ZM1254.50 2715.64L1268 2681.17L1270 2702.38L1270.25 2701.27L1273 2681.17L1277.5 2714.06L1277.75 2715.64ZM1281.50 2715.64L1281.75 2714.06L1286.25 2681.17L1287.25 2688.48L1287.5 2686.9L1290.25 2646.71L1294.75 2712.47L1295 2715.64ZM1297.50 2715.64L1297.75 2714.06L1302.25 2681.17L1304.75 2699.44L1305 2699.16L1307 2681.17L1308.5 2694.66L1308.75 2694.66L1310.25 2681.17L1312.75 2703.66L1313 2701.51L1316.75 2646.71L1319 2679.59L1319.25 2681.48L1321.25 2663.94L1323 2679.29L1323.25 2674.88L1325.75 2612.24L1327 2643.56L1327.25 2643.56L1328.5 2612.24L1331.25 2681.14L1331.5 2687.02L1332.5 2681.17L1336.75 2706.02L1337 2706.19L1340.75 2612.24L1344.5 2706.19L1344.75 2705.17L1348.75 2646.71L1351.75 2690.55L1352 2690.17L1353 2681.17L1354.75 2696.91L1356.5 2681.17L1359.25 2705.91L1359.5 2705.17L1363 2646.71L1365.75 2692.64L1366 2684.95L1368.75 2577.77L1372.25 2714.18L1372.5 2712.47L1377 2646.71L1381.5 2712.47L1381.75 2715.64ZM1384.50 2715.64L1384.75 2714.06L1389.25 2681.17L1390.75 2692.13L1391 2690.55L1393.25 2646.71L1394.5 2671.06L1394.75 2668.61L1397 2612.24L1397.75 2631.03L1398 2634.48L1406.5 2715.64ZM1407.75 2715.64L1408 2713.52L1412 2646.71L1414.5 2688.46L1414.75 2688.48L1415.5 2681.17L1419 2715.28L1419.25 2715.64Z" fill="#0000ff" stroke="#000085" stroke-width="0.65" stroke-linejoin="miter" stroke-miterlimit="10"/>
<path d="M271 2577.5V2715.6" stroke="#7f7f7f" stroke-width="1.1" fill="none"/>
<path d="M259.2 2577.5H271.5" stroke="#222" stroke-width="1" fill="none"/>
<path d="M259.2 2715.6H271.5" stroke="#7f7f7f" stroke-width="1.4" fill="none"/>
<text x="251.8" y="2580.2" class="tk" text-anchor="end">10</text>
<text x="251.8" y="2718.8" class="tk" text-anchor="end">0</text>
<text x="73.5" y="2652.9" class="lb">GSM2481675</text>
<path d="M295.50 2869.58L320.25 2800.58L322 2731.48L568.5 2869.58ZM568.50 2869.58L814.5 2800.58L897.5 2869.58ZM897.50 2869.58L980.5 2800.58L1053.5 2869.58ZM1053.50 2869.58L1126.25 2800.58L1128 2731.48L1238.25 2869.58ZM1238.25 2869.58L1348.75 2731.48L1387 2869.58Z" fill="#0000ff" stroke="#000085" stroke-width="0.65" stroke-linejoin="miter" stroke-miterlimit="10"/>
<path d="M271 2731.5V2869.6" stroke="#7f7f7f" stroke-width="1.1" fill="none"/>
<path d="M259.2 2731.5H271.5" stroke="#222" stroke-width="1" fill="none"/>
<path d="M259.2 2869.6H271.5" stroke="#7f7f7f" stroke-width="1.4" fill="none"/>
<text x="251.8" y="2734.2" class="tk" text-anchor="end">239</text>
<text x="251.8" y="2872.8" class="tk" text-anchor="end">0</text>
<text x="73.5" y="2806.8" class="lb">GSM2481674</text>
<path d="M277.25 3023.52L282.75 2989.05L285.5 2954.59L287.25 2989.05L291.75 3023.52ZM291.75 3023.52L296.25 2989.05L299 2954.59L301.75 2989.05L306.75 3023.52ZM306.75 3023.52L314.5 2989.05L319.75 3023.52ZM319.75 3023.52L322.25 2989.05L327 3023.52ZM327.00 3023.52L331.75 2989.05L335.75 3023.52ZM335.75 3023.52L338 2989.05L344 3023.52ZM344.00 3023.52L348 2989.05L349.25 2920.12L350.75 2989.05L352 3009.91L354.25 2989.05L356.25 3014.45L357.5 2989.05L359.75 3014.45L362 2989.05L368 3023.52ZM368.00 3023.52L371 2989.05L372.5 3005.38L374.25 2954.59L380.25 3023.52ZM380.25 3023.52L386.5 2954.59L389.25 2989.05L396 3023.52ZM396.00 3023.52L406 2954.59L411 3023.52ZM411.00 3023.52L414.25 2989.05L423.25 3023.52ZM423.25 3023.52L431 2989.05L433.75 3018.98L436 2989.05L440 3023.52ZM440.00 3023.52L443.75 2989.05L445.5 3014.45L447.25 2989.05L449 3009.91L450.5 2989.05L466.25 3023.52ZM466.25 3023.52L481.75 2989.05L488 3023.52ZM488.00 3023.52L494 2989.05L500.25 3023.52ZM500.25 3023.52L508.5 2954.59L521.75 3023.52ZM521.75 3023.52L534.5 2989.05L545.75 3023.52ZM545.75 3023.52L558.5 2989.05L563 3023.52ZM563.00 3023.52L564.75 2989.05L568 3023.52ZM568.00 3023.52L571 2989.05L584.25 3023.52ZM584.25 3023.52L594.25 2989.05L595.5 2954.59L597 2989.05L601 3023.52ZM601.00 3023.52L606 2989.05L609.25 3023.52ZM609.25 3023.52L611.5 2989.05L620.5 3023.52ZM620.50 3023.52L632 2989.05L650 3023.52ZM650.00 3023.52L665.75 2989.05L668.25 3014.45L670 2989.05L679.5 3023.52ZM679.50 3023.52L688 2989.05L699 3023.52ZM699.00 3023.52L709.5 2989.05L714.5 3023.52ZM714.50 3023.52L717.5 2989.05L719 2954.59L720.75 2996.31L723 2989.05L724.5 2920.12L726.25 2989.05L730.75 3023.52ZM730.75 3023.52L736.25 2989.05L738 3005.38L739.75 2989.05L746.25 3023.52ZM746.25 3023.52L753.75 2989.05L762.5 3023.52ZM762.50 3023.52L769.75 2989.05L771 2954.59L772.5 3000.84L777 2989.05L786 3023.52ZM786.00 3023.52L794.25 2954.59L811 3023.52ZM811.00 3023.52L829.5 2989.05L835 3023.52ZM835.00 3023.52L839.5 2989.05L847.25 3023.52ZM847.25 3023.52L855 2989.05L856.75 3009.91L857.75 2989.05L859.5 3014.45L861 2989.05L863.25 3014.45L866.25 2989.05L868.5 3005.38L870.75 2954.59L873.25 2989.05L878 3023.52ZM878.00 3023.52L885 2989.05L890.25 3023.52ZM890.25 3023.52L894.5 2989.05L897.25 3018.98L899 2989.05L920.75 3023.52ZM920.75 3023.52L943 2989.05L946.25 3023.52ZM946.25 3023.52L951.25 2989.05L957 3023.52ZM957.00 3023.52L963 2989.05L976.5 3023.52ZM976.50 3023.52L988.75 2989.05L990.5 2954.59L992.5 2989.05L995.5 3023.52ZM995.50 3023.52L999.25 2989.05L1002.75 3023.52ZM1002.75 3023.52L1006 2954.59L1008.25 2885.65L1011 2954.59L1016.5 3023.52ZM1016.50 3023.52L1025 2989.05L1026.5 3005.38L1028.25 2989.05L1034.5 3023.52ZM1034.50 3023.52L1041 2989.05L1041.75 2977.56L1042.75 2954.59L1043 2958.42L1043.25 2954.59L1045.5 2989.05L1045.75 2999.11L1050 3023.52ZM1050.00 3023.52L1056.75 2989.05L1058.5 3014.45L1060.75 2989.05L1065.75 3023.52ZM1065.75 3023.52L1070.75 2989.05L1075.25 3023.52ZM1075.25 3023.52L1079.5 2989.05L1086.75 3023.52ZM1086.75 3023.52L1092.5 2989.05L1094.5 3014.45L1097.25 2989.05L1103.5 3023.52ZM1103.50 3023.52L1109.5 2989.05L1111.75 3014.45L1114 2989.05L1120.75 3023.52ZM1120.75 3023.52L1127 2989.05L1129.25 3018.98L1132 2989.05L1156.5 3023.52ZM1156.50 3023.52L1178.25 2989.05L1180.25 3009.91L1182.5 2989.05L1194.25 3023.52ZM1194.25 3023.52L1205 2989.05L1206.5 2954.59L1207.75 2978.17L1210 2954.59L1212.25 2996.31L1216 3021.25L1218.25 2989.05L1220.5 3018.98L1223.75 2954.59L1231.5 3021.25L1238.75 2954.59L1241.75 3014.45L1244.5 2989.05L1246.25 3009.91L1248.5 2954.59L1250 2973.63L1251.75 2954.59L1262.25 3023.52ZM1262.25 3023.52L1272.25 2989.05L1275.75 3018.98L1280.75 2920.12L1283.5 3014.45L1286.75 2954.59L1290.75 3018.98L1297.5 2954.59L1299.5 2954.59L1301.75 3005.38L1305.75 2920.12L1307.5 2996.31L1309.5 2989.05L1315.75 3023.52ZM1315.75 3023.52L1320.75 2989.05L1323.5 2920.12L1325.75 2989.05L1328 3009.91L1329.25 2989.05L1331.25 3018.98L1334.25 2954.59L1336.25 2987.24L1338 2954.59L1340.25 2996.31L1342.5 2989.05L1347 3018.98L1352.5 2989.05L1354.25 3009.91L1356.5 2989.05L1365.25 3023.52ZM1365.25 3023.52L1372.5 2989.05L1376.5 3014.45L1382.75 2954.59L1385.5 3018.98L1389.75 2920.12L1392.5 3014.45L1394.75 2989.05L1397 3014.45L1399.75 2989.05L1403.75 3021.25L1408.75 2954.59L1413.75 3018.98L1416 2989.05L1420 3023.52Z" fill="#0000ff" stroke="#000085" stroke-width="0.65" stroke-linejoin="miter" stroke-miterlimit="10"/>
<path d="M271 2885.4V3023.5" stroke="#7f7f7f" stroke-width="1.1" fill="none"/>
<path d="M259.2 2885.4H271.5" stroke="#222" stroke-width="1" fill="none"/>
<path d="M259.2 3023.5H271.5" stroke="#7f7f7f" stroke-width="1.4" fill="none"/>
<text x="251.8" y="2888.1" class="tk" text-anchor="end">12</text>
<text x="251.8" y="3026.7" class="tk" text-anchor="end">0</text>
<text x="73.5" y="2960.8" class="lb">GSM2481673</text>
<path d="M311.00 3177.46L351.75 3039.36L371 3177.46ZM371.00 3177.46L390 3039.36L697.5 3177.46ZM697.50 3177.46L1004 3039.36L1110.75 3177.46ZM1110.75 3177.46L1219 3039.36L1251.5 3174.46L1283.5 3039.36L1341.5 3177.46ZM1341.50 3177.46L1398.5 3039.36L1411.5 3177.46Z" fill="#0000ff" stroke="#000085" stroke-width="0.65" stroke-linejoin="miter" stroke-miterlimit="10"/>
<path d="M271 3039.4V3177.5" stroke="#7f7f7f" stroke-width="1.1" fill="none"/>
<path d="M259.2 3039.4H271.5" stroke="#222" stroke-width="1" fill="none"/>
<path d="M259.2 3177.5H271.5" stroke="#7f7f7f" stroke-width="1.4" fill="none"/>
<text x="251.8" y="3042.1" class="tk" text-anchor="end">38</text>
<text x="251.8" y="3180.7" class="tk" text-anchor="end">0</text>
<text x="73.5" y="3114.7" class="lb">GSM2481672</text>
<path d="M286.25 3331.40L304 3296.93L308 3331.4ZM308.00 3331.40L312.5 3296.93L314 3262.47L315.25 3296.93L319.75 3331.4ZM319.75 3331.40L324.75 3296.93L330.25 3329.13L334.5 3296.93L337 3326.86L340.25 3296.93L346.25 3331.4ZM346.25 3331.40L351.25 3296.93L353 3262.47L354.75 3296.93L356.5 3317.79L358.5 3296.93L360.25 3262.47L362 3296.93L368 3331.4ZM368.00 3331.40L371.5 3296.93L373 3308.72L374.25 3296.93L380.75 3331.4ZM380.75 3331.40L387 3296.93L391.5 3326.86L393.75 3296.93L413.25 3331.4ZM413.25 3331.40L431.5 3296.93L434.25 3326.86L436.75 3296.93L440.5 3326.86L443.25 3296.93L450.5 3331.4ZM450.50 3331.40L456 3296.93L458.75 3326.86L461 3296.93L462.75 3313.26L464.5 3296.93L468.5 3322.33L472.25 3296.93L473.5 3262.47L475.5 3193.53L477.25 3262.47L478.5 3304.19L480.5 3296.93L488 3331.4ZM488.00 3331.40L496.75 3296.93L502.75 3329.13L507.25 3296.93L510.25 3326.86L513 3296.93L515.25 3322.33L517.5 3296.93L519.75 3322.33L521.75 3296.93L523 3262.47L524.5 3296.93L526.25 3317.79L528.5 3296.93L558 3331.4ZM558.00 3331.40L587.5 3296.93L596.5 3331.4ZM596.50 3331.40L604.75 3296.93L607 3262.47L608.75 3296.93L612.75 3329.13L616 3296.93L617.75 3324.6L619.75 3296.93L622 3324.6L624.25 3296.93L626.5 3324.6L628.75 3296.93L630.5 3317.79L632 3296.93L634.5 3326.86L637.25 3296.93L639.5 3313.26L641.5 3262.47L643.25 3313.26L645.5 3326.86L647.75 3296.93L653.75 3331.4ZM653.75 3331.40L657.75 3296.93L659 3313.26L661 3296.93L678 3331.4ZM678.00 3331.40L696.75 3296.93L701.25 3329.13L704.5 3262.47L709 3326.86L714.5 3262.47L716.75 3313.26L718 3296.93L721.75 3322.33L725.25 3296.93L728 3313.26L730.75 3228L734 3296.93L738.5 3329.13L743.5 3296.93L750.75 3331.4ZM750.75 3331.40L757.5 3296.93L759.25 3317.79L760.75 3296.93L767 3331.4ZM767.00 3331.40L771.5 3296.93L777 3329.13L780.5 3296.93L784.25 3326.86L787.75 3296.93L791.5 3326.86L796 3262.47L806.5 3331.4ZM806.50 3331.40L814.25 3262.47L817.25 3228L819.5 3296.93L843.25 3331.4ZM843.25 3331.40L866.25 3296.93L867.75 3262.47L873.5 3326.86L879 3228L882.75 3324.6L885.75 3262.47L887.75 3276.98L889.5 3262.47L891.25 3286.05L893.5 3262.47L898.5 3326.86L900.75 3262.47L905.25 3326.86L908 3262.47L911.75 3326.86L914.75 3262.47L919.75 3326.86L925.75 3262.47L928 3286.05L930.75 3262.47L936.5 3329.13L941.25 3296.93L943 3313.26L944.75 3296.93L946.5 3313.26L948 3296.93L953 3329.13L957.5 3296.93L967.5 3331.4ZM967.50 3331.40L976.5 3296.93L986.5 3331.4ZM986.50 3331.40L993.75 3296.93L995.5 3317.79L997.5 3296.93L1001.5 3326.86L1007.25 3228L1011.5 3322.33L1014.25 3296.93L1017.25 3317.79L1024.5 3228L1028.25 3322.33L1030 3296.93L1031.75 3313.26L1033.75 3296.93L1041.75 3329.37L1042 3329.49L1046.25 3296.93L1046.75 3300.38L1047.25 3296.93L1047.5 3305.55L1051.25 3331.4ZM1051.25 3331.40L1056.25 3296.93L1062.75 3331.4ZM1062.75 3331.40L1069.5 3296.93L1072.75 3329.13L1075.25 3296.93L1077.25 3317.79L1079 3296.93L1081.75 3326.86L1084.5 3296.93L1086.25 3317.79L1088 3296.93L1102.25 3331.4ZM1102.25 3331.40L1114 3296.93L1115.25 3262.47L1116.75 3296.93L1126.25 3331.4ZM1126.25 3331.40L1133.5 3296.93L1134.75 3193.53L1136.25 3296.93L1140.75 3331.4ZM1140.75 3331.40L1146.5 3296.93L1151 3329.13L1154.75 3296.93L1164.75 3331.4ZM1164.75 3331.40L1171.5 3296.93L1173 3313.26L1174.25 3296.93L1179.75 3331.4ZM1179.75 3331.40L1186 3296.93L1194.25 3331.4ZM1194.25 3331.40L1200.5 3296.93L1203.25 3322.33L1206 3296.93L1209.5 3326.86L1212.75 3296.93L1216 3322.33L1219.25 3296.93L1221.75 3262.47L1225 3296.93L1237.75 3331.4ZM1237.75 3331.40L1249.5 3296.93L1251.25 3262.47L1252.75 3313.26L1254.5 3296.93L1256.25 3313.26L1258.25 3262.47L1259.5 3313.26L1261.75 3296.93L1272.25 3331.4ZM1272.25 3331.40L1279.5 3296.93L1280.75 3308.72L1282.75 3296.93L1286.25 3322.33L1290.75 3262.47L1300.75 3331.4ZM1300.75 3331.40L1309 3296.93L1315.75 3331.4ZM1315.75 3331.40L1321.75 3296.93L1324 3322.33L1326.25 3296.93L1329 3326.86L1332 3262.47L1334.25 3228L1336.5 3296.93L1338.5 3322.33L1340.25 3296.93L1342 3313.26L1343.75 3296.93L1346.5 3326.86L1349.25 3296.93L1364.25 3331.4ZM1364.25 3331.40L1378.75 3296.93L1383.25 3331.4ZM1383.25 3331.40L1387.5 3296.93L1403.75 3331.4ZM1403.75 3331.40L1418.75 3296.93L1421.75 3331.4Z" fill="#0000ff" stroke="#000085" stroke-width="0.65" stroke-linejoin="miter" stroke-miterlimit="10"/>
<path d="M271 3193.3V3331.4" stroke="#7f7f7f" stroke-width="1.1" fill="none"/>
<path d="M259.2 3193.3H271.5" stroke="#222" stroke-width="1" fill="none"/>
<path d="M259.2 3331.4H271.5" stroke="#7f7f7f" stroke-width="1.4" fill="none"/>
<text x="251.8" y="3196.0" class="tk" text-anchor="end">15</text>
<text x="251.8" y="3334.6" class="tk" text-anchor="end">0</text>
<text x="73.5" y="3268.7" class="lb">GSM2481671</text>
<path d="M350.50 3485.34L433.5 3416.34L478.5 3485.34ZM478.50 3485.34L524 3416.34L586.5 3485.34ZM586.50 3485.34L648.5 3347.24L680.5 3485.34ZM680.50 3485.34L711 3416.34L861.75 3485.34ZM861.75 3485.34L1011.5 3347.24L1062.5 3485.34ZM1062.50 3485.34L1112.75 3347.24L1269.25 3485.34Z" fill="#0000ff" stroke="#000085" stroke-width="0.65" stroke-linejoin="miter" stroke-miterlimit="10"/>
<path d="M271 3347.2V3485.3" stroke="#7f7f7f" stroke-width="1.1" fill="none"/>
<path d="M259.2 3347.2H271.5" stroke="#222" stroke-width="1" fill="none"/>
<path d="M259.2 3485.3H271.5" stroke="#7f7f7f" stroke-width="1.4" fill="none"/>
<text x="251.8" y="3349.9" class="tk" text-anchor="end">258</text>
<text x="251.8" y="3488.5" class="tk" text-anchor="end">0</text>
<text x="73.5" y="3422.6" class="lb">GSM2481670</text>
<path d="M271.00 3639.28L271 3616.93L272.75 3580.1L274.75 3622.19L275 3624.81L275.75 3619.55L276.75 3626.57L277 3627.89L279 3599.82L280.5 3620.87L280.75 3616.5L282.75 3560.37L284.5 3609.48L284.75 3611.67L286.25 3580.1L288.5 3627.46L290.75 3580.1L293 3627.46L293.25 3627.89L295.25 3599.82L297 3624.38L297.25 3623.22L297.75 3619.55L298 3621.39L298.25 3607.76L300 3501.18L301.5 3592.53L301.75 3606.84L302.25 3599.82L304.25 3627.89L304.5 3629.17L305.5 3619.55L306.25 3626.77L306.5 3626.57L307.5 3619.55L308.75 3628.32L309 3627.15L309.75 3619.55L311.25 3634.75L311.5 3635.51L312 3631.52L312.25 3627.46L314.5 3580.1L316.75 3627.46L319 3580.1L321.75 3637.98L322 3634.9L324.5 3599.82L325.25 3610.35L325.5 3606.41L326.75 3580.1L327.75 3601.14L328 3602.47L329.5 3560.37L331.5 3616.5L331.75 3616.93L333.5 3580.1L335.75 3627.46L336 3626.57L337 3619.55L337.25 3621.31L337.5 3619.55L339.5 3636.45L339.75 3636.71L341.75 3619.55L342 3621.7L342.25 3616.93L344 3580.1L345.75 3616.93L346 3621.49L346.25 3619.55L346.75 3623.43L347 3625.31L349 3520.91L351.25 3638.36L351.5 3639.28ZM352.25 3639.28L352.5 3638.85L354.25 3626.57L354.5 3624.3L355 3619.55L355.25 3619.55L357.5 3635.34L357.75 3630.53L360.25 3560.37L362 3609.48L362.25 3606.41L363.5 3580.1L365.25 3616.93L365.5 3610.8L367.5 3540.64L369.5 3610.8L369.75 3617.36L371 3599.82L373 3627.89L373.25 3630.16L373.5 3631.4L375.75 3599.82L377.75 3627.89L378 3630.85L378.25 3627.89L380.25 3599.82L382.25 3627.89L382.5 3627.54L383.5 3619.55L384 3623.55L384.25 3623.06L384.75 3619.55L386.75 3633.58L387 3633.83L388.75 3619.55L390 3629.75L390.25 3627.46L392.5 3580.1L395 3632.72L395.25 3635.34L397.5 3619.55L399 3630.08L399.25 3629.98L400.5 3619.55L400.75 3616.93L402.5 3580.1L404.5 3622.19L404.75 3626.37L405.5 3619.55L405.75 3621.82L406 3620.87L407.5 3599.82L409 3620.87L409.25 3619.55L410.25 3628.32L410.5 3630.08L412 3619.55L413.25 3628.32L413.5 3626.94L414.25 3619.55L415.25 3629.4L415.5 3623.51L417.75 3560.37L420.25 3630.53L420.5 3635.08L420.75 3633.53L422.75 3619.55L423 3621.3L423.25 3622.04L425.5 3580.1L428.25 3631.36L428.5 3635.7L430.75 3619.55L431 3619.55L433.25 3635.34L433.5 3634.9L436 3599.82L437.5 3620.87L437.75 3620.87L439.25 3599.82L440.5 3617.36L440.75 3619.55L441.75 3629.85L442 3631.83L443.75 3619.55L444.5 3624.81L444.75 3626.51L445.75 3619.55L447.75 3633.47L448 3632.72L450.5 3580.1L452.75 3627.46L453 3630.95L454.25 3619.55L454.5 3621.83L454.75 3621.31L455 3619.55L456.75 3631.83L457 3632.72L459.5 3580.1L461.5 3622.19L461.75 3626.19L462.5 3619.55L462.75 3617.36L464 3599.82L465.75 3624.38L466 3624.38L467.75 3599.82L469.25 3620.87L469.5 3620.87L471 3599.82L472.75 3624.38L473 3626.57L474 3619.55L475 3626.57L475.25 3626.43L476.25 3619.55L476.5 3617.36L477.75 3599.82L479.25 3620.87L479.5 3619.55L481 3629.9L481.25 3628.72L482.25 3619.55L484 3635.6L484.25 3634.9L486.75 3599.82L488.5 3624.38L488.75 3624.94L489.5 3619.55L491 3630.32L491.25 3627.46L493.5 3580.1L495 3611.67L495.25 3616.5L497.25 3560.37L499.75 3630.53L500 3634.77L501.75 3619.55L502 3621.31L502.25 3619.55L502.75 3623.06L503 3623.51L505.25 3560.37L507 3609.48L507.25 3606.41L508.5 3580.1L510.5 3622.19L510.75 3624.38L512.5 3599.82L514.25 3624.38L514.5 3627.23L514.75 3629.79L515 3628.32L516.25 3619.55L517.25 3626.57L517.5 3626.26L518.25 3619.55L519.25 3628.49L519.5 3627.46L521.75 3580.1L524.25 3632.72L524.5 3630.41L524.75 3627.7L525 3624.38L526.75 3599.82L528.5 3624.38L528.75 3622.95L529.25 3619.55L529.5 3617.36L530.75 3599.82L532.25 3620.87L532.5 3620.87L534 3599.82L535.75 3624.38L537.5 3599.82L538.75 3617.36L539 3617.36L540.25 3599.82L542.25 3627.89L542.5 3629.42L543.5 3619.55L543.75 3622.02L544 3621.31L544.25 3619.55L546 3631.83L546.25 3631.69L546.5 3629.67L546.75 3623.51L549 3560.37L550.75 3609.48L551 3611.67L552.5 3580.1L554.25 3616.93L554.5 3616.93L556.25 3580.1L558 3616.93L558.25 3613.86L559.25 3599.82L560.5 3617.36L560.75 3619.57L563 3540.64L565.25 3619.57L565.5 3623.5L566 3619.55L567 3627.44L567.25 3627.89L569.25 3599.82L570.75 3620.87L571 3623.14L572 3630.31L572.25 3627.89L574.25 3599.82L576.25 3627.89L576.5 3630.14L576.75 3630.35L578.25 3619.55L580.75 3637.55L581 3639.28ZM581.25 3639.28L581.5 3638.41L584.25 3599.82L586.5 3631.4L586.75 3632.68L588 3619.55L588.25 3622.18L588.5 3621.31L588.75 3619.55L590 3628.32L590.25 3626.57L591.25 3619.55L592.25 3626.57L592.5 3627.46L594.75 3580.1L596 3606.41L596.25 3610.35L597 3599.82L597.75 3610.35L598 3612.26L599.75 3520.91L602 3638.36L602.25 3637.09L604.75 3619.55L606.75 3633.58L607 3631.4L609.25 3599.82L611.5 3631.4L611.75 3631.32L613 3619.55L613.25 3621.9L613.5 3621.31L613.75 3619.55L615.5 3631.83L615.75 3631.63L617.25 3619.55L618 3625.59L618.25 3627.46L620.5 3580.1L623 3632.72L623.25 3634.31L624.25 3626.93L624.5 3622.19L626.5 3580.1L628.5 3622.19L628.75 3623.25L629.25 3619.55L629.5 3620.87L631 3599.82L632.5 3620.87L632.75 3621.48L633 3619.55L634.75 3633.04L635 3632.99L636.75 3619.55L637.25 3623.39L637.5 3624.38L639.25 3599.82L640.5 3617.36L640.75 3619.55L641.75 3626.65L642 3624.38L643.75 3599.82L645.25 3620.87L645.5 3623.94L646 3619.55L647.25 3630.52L647.5 3630.08L649 3619.55L649.5 3623.06L649.75 3620.87L651.25 3599.82L652 3610.35L652.25 3611.67L653.75 3580.1L655.25 3611.67L656.75 3580.1L657.5 3595.88L658.25 3580.1L658.5 3585.36L658.75 3585.36L659 3580.1L660 3601.14L660.25 3601.14L661.25 3580.1L663.5 3627.46L663.75 3630.27L664 3632.95L664.25 3632.72L666.75 3580.1L668.5 3616.93L668.75 3617.36L670 3599.82L671.25 3617.36L671.5 3619.55L671.75 3621.32L672 3620.87L673.5 3599.82L674.75 3617.36L675 3617.36L676.25 3599.82L678.25 3627.89L678.5 3626.57L679.5 3619.55L681.5 3633.58L681.75 3631.37L682 3627.89L684 3599.82L686.25 3631.4L686.5 3629.41L687.5 3619.55L687.75 3622.02L688 3623.06L688.5 3619.55L689.5 3626.57L689.75 3627.89L691.75 3599.82L693.5 3624.38L695.25 3599.82L697 3624.38L697.25 3624.38L699 3599.82L700.25 3617.36L700.5 3619.55L701.25 3626.02L701.5 3624.81L702.25 3619.55L703.25 3626.57L703.5 3623.51L705.75 3560.37L708.25 3630.53L708.5 3631.83L710.25 3619.55L712 3631.83L712.25 3631.4L714.5 3599.82L715.25 3610.35L715.5 3611.67L717 3580.1L719.25 3627.46L719.5 3630.32L720.75 3619.55L721 3621.71L721.25 3623.06L721.75 3619.55L723 3628.32L723.25 3626.78L724 3619.55L725.25 3631.61L725.5 3629.78L726.5 3621.6L726.75 3616.93L728.5 3580.1L730.25 3616.93L730.5 3619.55L731.5 3627.56L731.75 3628.32L733 3619.55L733.75 3624.81L734 3623.7L734.5 3619.55L734.75 3620.87L736.25 3599.82L738.5 3631.4L738.75 3633.58L740.75 3619.55L742.25 3630.08L742.5 3630.08L744 3619.55L745 3626.57L745.25 3624.44L745.75 3619.55L746.25 3624.44L746.5 3626.57L747.5 3619.55L749 3630.08L749.25 3627.67L750 3619.55L751 3630.37L751.25 3631.4L753.5 3599.82L755.25 3624.38L755.5 3626.52L757 3636.97L757.25 3638.62L759.5 3621.46L759.75 3616.93L761.5 3580.1L763.25 3616.93L763.5 3617.36L764.75 3599.82L766.75 3627.89L768.75 3599.82L770.75 3627.89L771 3630.08L772.5 3619.55L772.75 3619.55L773.25 3624.73L773.5 3626.57L773.75 3628.32L774 3627.89L776 3599.82L777.25 3617.36L777.5 3619.55L777.75 3621.28L778 3616.93L779.75 3580.1L781.75 3622.19L782 3626.57L783 3619.55L784.5 3630.08L784.75 3627.46L787 3580.1L788.75 3616.93L789 3619.55L791 3634.15L791.25 3634.4L793.25 3619.55L795.5 3636.25L795.75 3636.09L798 3619.55L799.5 3630.58L799.75 3627.79L802 3599.82L804.25 3627.79L804.5 3628.13L805.5 3619.55L807.75 3638.86L808 3639.28ZM809.00 3639.28L809.25 3637.98L812 3580.1L813.75 3616.93L815.5 3580.1L817 3611.67L817.25 3611.67L818.75 3580.1L820 3606.41L820.25 3606.41L821.5 3580.1L823.5 3622.19L823.75 3625.98L825.25 3638.83L825.5 3637.55L828.25 3560.37L830.5 3623.51L830.75 3622.19L832.75 3580.1L835 3627.46L835.25 3630.08L836.75 3619.55L837 3621.31L837.25 3621.95L837.5 3619.55L838.25 3626.73L838.5 3627.89L840.5 3599.82L842 3620.87L842.25 3620.87L843.75 3599.82L844.5 3610.35L844.75 3611.67L846.25 3580.1L847.5 3606.41L847.75 3609.48L849.5 3560.37L851 3602.47L851.25 3606.84L851.75 3599.82L853 3617.36L853.25 3616.93L855 3580.1L856.5 3611.67L856.75 3609.48L858.5 3560.37L860.5 3616.5L860.75 3611.67L862.25 3580.1L864.75 3632.72L865 3635L867.25 3619.55L868 3624.7L868.25 3624.81L869 3619.55L870 3626.57L870.25 3624.89L871 3619.55L872.25 3628.46L872.5 3627.89L874.5 3599.82L876.5 3627.89L876.75 3627.46L879 3580.1L881 3622.19L883 3580.1L884 3601.14L884.25 3601.14L885.25 3580.1L887.75 3632.72L888 3633.26L889.75 3619.55L890 3621.31L890.25 3619.55L891.75 3630.08L892 3630.26L893.5 3619.55L893.75 3621.31L894 3619.55L895.5 3630.08L895.75 3630.31L897.25 3619.55L897.5 3620.87L899 3599.82L900.25 3617.36L900.5 3619.55L902 3631.9L902.25 3631.83L904 3619.55L904.75 3624.81L905 3623.37L905.5 3619.55L905.75 3616.93L907.5 3580.1L909.5 3622.19L909.75 3626.35L910.75 3619.55L911.25 3622.95L911.5 3621.31L911.75 3619.55L912.25 3623.06L912.5 3619.57L914.75 3540.64L917 3619.57L917.25 3624.38L919 3599.82L921.75 3638.41L922 3637.09L924.5 3619.55L926.5 3633.58L926.75 3634.06L928.25 3619.55L929 3626.8L929.25 3627.89L931.25 3599.82L932.75 3620.87L933 3619.55L934.25 3628L934.5 3628.32L935.75 3619.55L936 3619.55L937.5 3631.75L937.75 3632.72L940.25 3580.1L942.5 3627.46L942.75 3628.32L944 3619.55L944.5 3623.06L944.75 3621.41L945 3616.5L947 3560.37L949 3616.5L949.25 3613.86L950.25 3599.82L951.5 3617.36L951.75 3616.93L953.5 3580.1L955.5 3622.19L955.75 3623.25L956.25 3619.55L956.75 3623.25L957 3623.06L957.5 3619.55L958.25 3624.81L958.5 3625.43L959.25 3619.55L959.5 3617.36L960.75 3599.82L962.25 3620.87L963.75 3599.82L965.5 3624.38L965.75 3624.38L967.5 3599.82L969 3620.87L969.25 3620.87L970.75 3599.82L972.5 3624.38L972.75 3626.86L973.5 3632.35L973.75 3630.23L974.75 3619.55L975 3622.22L975.25 3621.31L975.5 3619.55L977.25 3631.83L977.5 3627.46L979.75 3580.1L982 3627.46L982.25 3628.34L983.5 3619.55L983.75 3621.31L984 3621.31L984.25 3619.55L986 3631.83L986.25 3630.45L987.75 3619.55L988 3621.31L988.25 3619.55L990 3631.83L990.25 3633.04L992 3619.55L992.25 3621.31L992.5 3619.55L994 3630.08L994.25 3631.08L995.75 3619.55L997 3629.16L997.25 3627.89L999.25 3599.82L1000.5 3617.36L1000.75 3619.55L1002 3630.27L1002.25 3630.08L1003.75 3619.55L1004.75 3626.57L1005 3622.19L1007 3580.1L1008.25 3606.41L1008.5 3606.41L1009.75 3580.1L1012.25 3632.72L1012.5 3632.52L1013 3627.33L1013.25 3624.38L1015 3599.82L1016.5 3620.87L1016.75 3623.34L1017.25 3619.55L1018.25 3627.13L1018.5 3626.57L1019.5 3619.55L1020.75 3628.32L1021 3626.27L1021.75 3619.55L1023.75 3637.47L1024 3639.28ZM1024.25 3639.28L1024.5 3638.41L1027.25 3599.82L1029.25 3627.89L1029.5 3627.89L1031.5 3599.82L1032.75 3617.36L1033 3617.36L1034.25 3599.82L1035.75 3620.87L1036 3619.55L1037.25 3631.3L1037.5 3630.08L1039 3619.55L1039.25 3621.31L1039.5 3621.59L1039.75 3619.55L1040.75 3627.71L1041 3623.51L1043.25 3560.37L1043.5 3567.38L1043.75 3560.37L1045.5 3609.48L1047.25 3560.37L1049.5 3623.51L1049.75 3630.08L1051.25 3619.55L1054 3638.85L1054.25 3639.28ZM1054.25 3639.28L1054.5 3637.98L1057.25 3580.1L1059.75 3632.72L1060 3634.83L1061.5 3619.55L1063 3634.83L1063.25 3635.69L1065.25 3619.55L1065.5 3621.57L1065.75 3623.51L1068 3560.37L1069.5 3602.47L1069.75 3601.14L1070.75 3580.1L1072.25 3611.67L1072.5 3611.67L1074 3580.1L1074.75 3595.88L1075 3595.45L1076.25 3560.37L1077.75 3602.47L1078 3601.14L1079 3580.1L1081.25 3627.46L1081.5 3627.81L1082.5 3619.55L1083 3623.68L1083.25 3624.81L1084 3619.55L1084.5 3623.06L1084.75 3624.8L1085.5 3619.55L1085.75 3616.93L1087.5 3580.1L1089.5 3622.19L1089.75 3626.24L1090.5 3619.55L1090.75 3620.87L1092.25 3599.82L1093.75 3620.87L1094 3623.51L1096.25 3560.37L1098.25 3616.5L1098.5 3621.88L1099.5 3631.18L1099.75 3630.08L1101.25 3619.55L1101.5 3621.31L1101.75 3619.55L1104 3638.64L1104.25 3636.72L1104.5 3634.27L1104.75 3631.4L1107 3599.82L1109.5 3634.9L1109.75 3632.91L1111.25 3619.55L1111.5 3621.31L1111.75 3619.55L1113.5 3631.83L1113.75 3632.72L1116.25 3580.1L1118.25 3622.19L1118.5 3626.83L1119.5 3619.55L1120.75 3628.65L1121 3627.89L1123 3599.82L1125 3627.89L1125.25 3627.46L1127.5 3580.1L1128.5 3601.14L1128.75 3601.14L1129.75 3580.1L1132 3627.46L1132.25 3624.38L1134 3599.82L1135.5 3620.87L1135.75 3619.55L1136.25 3624.87L1136.5 3626.57L1137.5 3619.55L1139 3630.08L1139.25 3627.46L1141.5 3580.1L1143.5 3622.19L1143.75 3620.87L1145.25 3599.82L1148 3638.41L1148.25 3638.85L1151 3619.55L1151.5 3623.06L1151.75 3622.19L1153.75 3580.1L1155.5 3616.93L1155.75 3617.36L1157 3599.82L1159 3627.89L1161 3599.82L1162.75 3624.38L1163 3624.38L1164.75 3599.82L1167 3631.4L1167.25 3633.15L1169 3619.55L1170.5 3631.21L1170.75 3631.88L1172.25 3619.55L1172.75 3623.66L1173 3624.81L1173.75 3619.55L1174.25 3623.06L1174.5 3620.87L1176 3599.82L1178.5 3634.9L1178.75 3635.3L1180.5 3619.55L1181.25 3626.3L1181.5 3628.32L1182.75 3619.55L1185 3635.34L1185.25 3635.34L1187.5 3619.55L1188.5 3626.57L1188.75 3627.46L1191 3580.1L1192.75 3616.93L1193 3619.55L1194 3629.58L1194.25 3628.32L1195.5 3619.55L1196.75 3628.32L1197 3628.67L1198 3619.55L1200 3637.8L1200.25 3637.09L1202.75 3619.55L1203.5 3624.81L1203.75 3624.38L1205.5 3599.82L1208.25 3638.41L1208.5 3638.8L1210.75 3621.48L1211 3616.93L1212.75 3580.1L1214.5 3616.93L1214.75 3621.62L1215 3623.69L1215.25 3620.87L1216.75 3599.82L1218.25 3620.87L1218.5 3619.55L1219.25 3625.01L1219.5 3622.19L1221.5 3580.1L1223.25 3616.93L1223.5 3620.87L1225 3599.82L1227.5 3634.9L1227.75 3633.13L1228 3630.53L1230.5 3560.37L1232.5 3616.5L1232.75 3617.36L1234 3599.82L1235 3613.86L1235.25 3610.8L1237.25 3540.64L1239.5 3619.57L1239.75 3627.89L1241.75 3599.82L1243.25 3620.87L1243.5 3620.87L1245 3599.82L1247 3627.89L1247.25 3619.57L1249.5 3540.64L1251.75 3619.57L1252 3627.69L1252.75 3619.55L1253 3622.26L1253.25 3624.81L1254 3619.55L1255 3626.57L1255.25 3624.73L1255.75 3619.55L1256 3622.14L1256.25 3623.51L1258.5 3560.37L1261 3630.53L1261.25 3631.4L1263.5 3599.82L1265 3620.87L1265.25 3622.92L1266.25 3629.66L1266.5 3630.08L1268 3619.55L1270.5 3637.09L1270.75 3638.41L1273.5 3599.82L1274.75 3617.36L1275 3616.93L1276.75 3580.1L1278.5 3616.93L1278.75 3621.53L1279 3619.55L1279.5 3623.52L1279.75 3623.06L1280.25 3619.55L1282 3631.83L1282.25 3632.36L1284 3619.55L1285 3626.87L1285.25 3622.19L1287.25 3580.1L1288.25 3601.14L1288.5 3593.26L1290 3540.64L1292.5 3628.34L1292.75 3628.32L1294 3619.55L1295 3626.57L1295.25 3627.46L1297.5 3580.1L1298.75 3606.41L1299 3609.48L1300.75 3560.37L1303 3623.51L1303.25 3624.81L1304 3619.55L1304.75 3624.81L1305 3624.6L1305.5 3619.55L1305.75 3616.93L1307.5 3580.1L1309.75 3627.46L1310 3630.55L1310.25 3631.83L1312 3619.55L1314 3633.58L1314.25 3632.72L1316.75 3580.1L1317.75 3601.14L1318 3602.03L1319.75 3540.64L1320.75 3575.72L1321.75 3540.64L1323 3584.49L1323.25 3588.43L1324.25 3560.37L1325 3581.42L1325.25 3575.72L1326.25 3540.64L1329 3637.11L1329.25 3638.85L1330 3631.61L1330.25 3627.46L1332.5 3580.1L1334.25 3616.93L1334.5 3612.26L1336.25 3520.91L1338.25 3625.31L1338.5 3634.96L1338.75 3633.58L1339.75 3626.57L1340 3624.48L1340.5 3619.55L1340.75 3619.55L1342.25 3630.08L1342.5 3628.36L1342.75 3626.6L1343 3624.38L1344.75 3599.82L1346.5 3624.38L1346.75 3624.38L1348.5 3599.82L1350.25 3624.38L1350.5 3625.16L1351.25 3619.55L1352.75 3630.76L1353 3627.46L1355.25 3580.1L1357.5 3627.46L1357.75 3626.57L1358.75 3619.55L1360.5 3631.83L1360.75 3632.72L1363.25 3580.1L1365 3616.93L1365.25 3619.55L1365.75 3624.13L1366 3620.87L1367.5 3599.82L1369 3620.87L1369.25 3621.62L1369.5 3619.55L1371 3631.98L1371.25 3630.31L1372.75 3619.55L1373 3621.31L1373.25 3619.55L1375 3631.83L1375.25 3632.72L1377.75 3580.1L1379.75 3622.19L1380 3623.03L1380.5 3619.55L1381.25 3624.77L1381.5 3624.38L1383.25 3599.82L1384.75 3620.87L1385 3623.28L1385.25 3625.15L1385.5 3623.51L1387.75 3560.37L1390 3623.51L1390.25 3625.62L1391 3619.55L1392.5 3631.69L1392.75 3631.4L1395 3599.82L1396.5 3620.87L1396.75 3620.87L1398.25 3599.82L1400.75 3634.9L1401 3637.45L1401.75 3632.08L1402 3627.46L1404.25 3580.1L1406.25 3622.19L1406.5 3621.4L1406.75 3619.55L1407.5 3625.11L1407.75 3626.57L1408.75 3619.55L1409.25 3623.06L1409.5 3622.19L1411.5 3580.1L1413.25 3616.93L1413.5 3620.87L1415 3599.82L1416.25 3617.36L1416.5 3617.36L1417.75 3599.82L1419.25 3620.87L1419.5 3619.55L1419.75 3617.36L1421 3599.82L1421.25 3603.33L1421.5 3602.03L1423.25 3540.64L1423.5 3549.41L1423.5 3639.28Z" fill="#0000ff" stroke="#000085" stroke-width="0.65" stroke-linejoin="miter" stroke-miterlimit="10"/>
<path d="M271 3501.2V3639.3" stroke="#7f7f7f" stroke-width="1.1" fill="none"/>
<path d="M259.2 3501.2H271.5" stroke="#222" stroke-width="1" fill="none"/>
<path d="M259.2 3639.3H271.5" stroke="#7f7f7f" stroke-width="1.4" fill="none"/>
<text x="251.8" y="3503.9" class="tk" text-anchor="end">6</text>
<text x="251.8" y="3642.5" class="tk" text-anchor="end">0</text>
<text x="73.5" y="3576.5" class="lb">GSM2481669</text>
<path d="M271.00 3793.22L271 3778.49L273.5 3747.42L276 3778.49L278.5 3747.42L281.75 3787.82L282 3782.06L284.5 3655.81L286.25 3744.18L286.5 3740.46L287.75 3701.61L290 3771.53L290.25 3778.49L292.75 3747.42L295.5 3781.6L295.75 3781.76L300 3747.42L305.5 3791.86L305.75 3793.22ZM307.75 3793.22L308 3787.07L310.75 3701.61L312.5 3755.99L312.75 3744.18L314.5 3655.81L316.25 3744.18L316.5 3749.44L316.75 3747.42L322.25 3791.86L322.5 3793.22ZM325.25 3793.22L325.5 3790.92L329 3747.42L330.25 3762.95L330.5 3762.95L331.75 3747.42L332.5 3756.74L332.75 3744.18L334.5 3655.81L336 3731.56L336.25 3733.17L337.5 3701.61L341 3789.99L341.25 3793.22ZM347.00 3793.22L347.25 3790.92L350.75 3747.42L351.25 3753.63L351.5 3748.23L353 3701.61L354.75 3755.99L356.5 3701.61L358.25 3755.99L358.5 3762.95L359.75 3747.42L361.75 3772.28L362 3771.53L364.25 3701.61L367 3787.07L367.25 3793.22ZM372.25 3793.22L372.5 3791.39L376.5 3701.61L380.5 3791.39L380.75 3793.22ZM382.25 3793.22L382.5 3792.87L387 3747.42L391.5 3792.87L391.75 3790.92L395.25 3747.42L396.75 3766.06L398.25 3747.42L400 3769.17L400.25 3771.66L403.25 3747.42L412.75 3793.22ZM412.75 3793.22L421 3747.42L421.75 3753.48L422 3744.18L423.75 3655.81L425.75 3756.81L426 3769.17L427.75 3747.42L429.5 3769.17L429.75 3769.17L431.5 3747.42L433 3766.06L434.5 3747.42L436 3766.06L436.25 3767.62L438.25 3747.42L442.75 3792.87L443 3793.22ZM444.50 3793.22L444.75 3790.92L448.25 3747.42L450.5 3775.38L452.75 3747.42L455.75 3784.71L458.75 3747.42L461.25 3778.49L461.5 3778.49L464 3747.42L467.5 3790.92L471 3747.42L473.25 3775.38L475.5 3747.42L479 3790.92L479.25 3793.22ZM480.00 3793.22L480.25 3785.66L483.25 3655.81L486 3774.84L486.25 3781.6L489 3747.42L490.25 3762.95L490.5 3762.95L491.75 3747.42L495.25 3790.92L495.5 3793.22ZM497.25 3793.22L497.5 3787.07L500.25 3701.61L502.75 3779.3L505.25 3701.61L507 3755.99L507.25 3762.95L508.5 3747.42L509.75 3762.95L510 3753.2L512.25 3655.81L515 3774.84L515.25 3775.38L517.5 3747.42L520.25 3781.6L520.5 3779.3L523 3701.61L525.25 3771.53L525.5 3772.28L527.5 3747.42L529.75 3775.38L532 3747.42L533.75 3769.17L534 3769.17L535.75 3747.42L537.5 3769.17L537.75 3763.76L539.75 3701.61L542.25 3779.3L542.5 3780.24L545.75 3747.42L549.25 3782.77L549.5 3784.71L552.5 3747.42L554 3766.06L554.25 3766.06L555.75 3747.42L559.25 3790.92L559.5 3793.22ZM560.00 3793.22L560.25 3790.92L563.75 3747.42L566.25 3778.49L566.5 3780.24L569.75 3747.42L574.25 3792.87L574.5 3793.22ZM576.00 3793.22L576.25 3790.92L579.75 3747.42L580.5 3756.74L580.75 3755.99L582.5 3701.61L585 3779.3L585.25 3782.77L588.75 3747.42L593.25 3792.87L593.5 3793.22ZM599.50 3793.22L599.75 3785.66L602.75 3655.81L605.5 3774.84L605.75 3782.77L609.25 3747.42L613.75 3792.87L614 3793.22ZM614.50 3793.22L614.75 3790.92L618.25 3747.42L621.5 3787.82L621.75 3787.82L625 3747.42L627.25 3775.38L629.5 3747.42L631 3766.06L631.25 3766.06L632.75 3747.42L635 3775.38L637.25 3747.42L640.75 3790.92L641 3787.07L643.75 3701.61L646 3771.53L648.25 3701.61L650.25 3763.76L652.25 3701.61L652.5 3709.38L652.75 3701.61L654.5 3755.99L654.75 3756.74L655.5 3747.42L656.5 3759.85L656.75 3760.69L659 3655.81L659.25 3667.46L659.5 3677.45L660 3655.81L663 3785.66L663.25 3793.22ZM664.25 3793.22L664.5 3792.87L669 3747.42L673.5 3792.87L673.75 3793.22ZM678.00 3793.22L678.25 3792.87L682.75 3747.42L686 3780.24L686.25 3781.6L689 3747.42L689.75 3756.74L690 3755.99L691.75 3701.61L694.5 3787.07L694.75 3790.34L699 3747.42L703.5 3792.87L703.75 3793.22ZM706.50 3793.22L706.75 3787.07L709.5 3701.61L711.5 3763.76L711.75 3769.17L713.5 3747.42L714.75 3762.95L715 3763.76L717 3701.61L719.25 3771.53L719.5 3774.35L722.5 3747.42L727.5 3792.3L727.75 3793.22ZM732.50 3793.22L732.75 3790.92L736.25 3747.42L737.5 3762.95L737.75 3760.88L739.25 3747.42L744.25 3792.3L744.5 3793.22ZM747.00 3793.22L747.25 3790.92L750.75 3747.42L753.25 3778.49L753.5 3771.53L755.75 3701.61L758.25 3779.3L758.5 3778.49L761 3747.42L761.5 3753.63L761.75 3744.18L763.5 3655.81L765.25 3744.18L765.5 3753.63L766 3747.42L766.75 3756.74L767 3755.99L768.75 3701.61L771.5 3787.07L771.75 3784.71L774.75 3747.42L777.5 3781.6L777.75 3782.06L780.25 3655.81L782.75 3782.06L783 3747.42L800.5 3793.22ZM800.50 3793.22L817 3747.42L822.25 3793.22ZM824.50 3793.22L824.75 3790.92L828.25 3747.42L829.75 3766.06L830 3766.06L831.5 3747.42L834.5 3784.71L834.75 3782.77L838.25 3747.42L842.75 3792.87L847.25 3747.42L851.75 3792.87L852 3793.22ZM852.00 3793.22L852.25 3792.87L856.75 3747.42L861 3790.34L861.25 3791.86L866.75 3747.42L872.25 3791.86L872.5 3793.22ZM877.50 3793.22L877.75 3790.92L881.25 3747.42L882 3756.74L882.25 3758.42L884.5 3701.61L888 3789.99L888.25 3793.22ZM889.00 3793.22L889.25 3789.99L892.75 3701.61L896.25 3789.99L896.5 3793.22ZM897.00 3793.22L897.25 3792.87L901.75 3747.42L906.25 3792.87L906.5 3793.22ZM907.50 3793.22L907.75 3785.66L910.75 3655.81L913.75 3785.66L916.75 3655.81L919 3753.2L919.25 3750.52L919.5 3747.42L922 3778.49L924.5 3747.42L925.75 3762.95L926 3764.74L928.5 3701.61L931.25 3771.05L931.5 3772.28L933.5 3747.42L935 3766.06L936.5 3747.42L940 3790.92L940.25 3793.22ZM941.00 3793.22L941.25 3787.07L944 3701.61L945.25 3740.46L945.5 3731.56L947 3655.81L949.5 3782.06L949.75 3793.22ZM950.50 3793.22L950.75 3791.39L954.75 3701.61L958.75 3791.39L959 3793.22ZM965.00 3793.22L965.25 3789.99L968.75 3701.61L970.75 3752.11L971 3747.82L972 3724.51L973.5 3759.47L973.75 3758.42L976 3701.61L978.5 3764.74L978.75 3765.6L981 3747.42L986.5 3791.86L986.75 3793.22ZM991.75 3793.22L992 3790.92L995.5 3747.42L996.75 3762.95L997 3762.95L998.25 3747.42L1001.75 3790.92L1002 3793.22ZM1002.50 3793.22L1002.75 3792.87L1007.25 3747.42L1011.75 3792.87L1012 3793.22ZM1012.25 3793.22L1012.5 3790.92L1016 3747.42L1017 3759.85L1017.25 3759.85L1018.25 3747.42L1021.75 3790.92L1022 3793.22ZM1025.75 3793.22L1026 3787.07L1028.75 3701.61L1029.25 3717.15L1029.5 3720.73L1031 3655.81L1033.25 3753.2L1033.5 3750.52L1033.75 3747.42L1037 3787.82L1037.25 3787.07L1040 3701.61L1040.5 3717.15L1040.75 3717.15L1041.25 3701.61L1042 3724.92L1042.75 3701.61L1043.25 3717.15L1043.75 3701.61L1044.25 3717.15L1044.5 3706.31L1045.5 3655.81L1047.5 3756.81L1047.75 3758.26L1048 3759.47L1048.25 3756.74L1049 3747.42L1051 3772.28L1051.25 3775.14L1055 3793.22ZM1055.00 3793.22L1063.5 3747.42L1066.5 3777.72L1066.75 3771.53L1069 3701.61L1071.75 3787.07L1072 3793.22ZM1073.50 3793.22L1073.75 3790.92L1077.25 3747.42L1079.75 3778.49L1080 3777.72L1083 3747.42L1087.5 3792.87L1087.75 3793.22ZM1088.75 3793.22L1089 3790.92L1092.5 3747.42L1093.25 3756.74L1093.5 3744.18L1095.25 3655.81L1097.75 3782.06L1098 3793.22ZM1098.75 3793.22L1099 3747.42L1110.25 3793.22ZM1110.25 3793.22L1121.75 3747.42L1123.25 3766.06L1124.75 3747.42L1127 3775.38L1129.25 3747.42L1131 3769.17L1131.25 3769.17L1133 3747.42L1134.75 3769.17L1136.5 3747.42L1138.5 3772.28L1138.75 3772.28L1140.75 3747.42L1144 3787.82L1148 3747.42L1152.5 3792.87L1157 3747.42L1160 3777.72L1160.25 3775.38L1162.5 3747.42L1163.5 3759.85L1163.75 3759.85L1164.75 3747.42L1165.75 3759.85L1166 3753.2L1168.25 3655.81L1170.5 3753.2L1170.75 3756.74L1171.5 3747.42L1172.75 3762.95L1173 3755.99L1174.75 3701.61L1177.5 3787.07L1177.75 3787.82L1181 3747.42L1184.5 3790.92L1184.75 3792.3L1189.75 3747.42L1194.75 3792.3L1195 3793.22ZM1197.50 3793.22L1197.75 3791.86L1203.25 3747.42L1208.75 3791.86L1209 3785.78L1211.5 3701.61L1213.25 3760.53L1213.5 3759.85L1214.5 3747.42L1218 3790.92L1218.25 3793.22ZM1219.75 3793.22L1220 3792.87L1224.5 3747.42L1227.25 3775.19L1227.5 3772.28L1229.5 3747.42L1231.75 3775.38L1234 3747.42L1236.25 3775.38L1236.5 3775.38L1238.75 3747.42L1241.25 3778.49L1243.75 3747.42L1246.25 3778.49L1246.5 3777.72L1249.5 3747.42L1254 3792.87L1254.25 3790.92L1257.75 3747.42L1259.25 3766.06L1260.75 3747.42L1264.25 3790.92L1264.5 3790.92L1268 3747.42L1269.5 3766.06L1269.75 3766.06L1271.25 3747.42L1273.5 3775.38L1275.75 3747.42L1278.25 3778.49L1280.75 3747.42L1284 3787.82L1284.25 3790.34L1288.5 3747.42L1292 3782.77L1292.25 3784.71L1295.25 3747.42L1296 3756.74L1296.25 3744.18L1298 3655.81L1300.25 3769.43L1300.5 3778.49L1303 3747.42L1305.25 3775.38L1307.5 3747.42L1308.75 3762.95L1309 3755.99L1310.75 3701.61L1312.75 3763.76L1313 3766.06L1314.5 3747.42L1317.5 3784.71L1317.75 3782.77L1321.25 3747.42L1324.25 3777.72L1324.5 3778.49L1327 3747.42L1330.25 3787.82L1330.5 3788.18L1333.5 3701.61L1335.5 3759.32L1335.75 3762.95L1337 3747.42L1338 3759.85L1338.25 3759.85L1339.25 3747.42L1342.75 3790.92L1343 3793.22ZM1344.75 3793.22L1345 3790.92L1348.5 3747.42L1349.75 3762.95L1350 3762.57L1351.5 3747.42L1355.5 3787.82L1358.75 3747.42L1361.5 3781.6L1364.25 3747.42L1366.75 3778.49L1367 3780.24L1370.25 3747.42L1374.75 3792.87L1375 3793.22ZM1377.25 3793.22L1377.5 3790.92L1381 3747.42L1381.75 3756.74L1382 3752.11L1383.75 3701.61L1386 3766.54L1386.25 3766.06L1387.75 3747.42L1389.75 3772.28L1390 3773.59L1397 3747.42L1411 3793.22Z" fill="#0000ff" stroke="#000085" stroke-width="0.65" stroke-linejoin="miter" stroke-miterlimit="10"/>
<path d="M271 3655.1V3793.2" stroke="#7f7f7f" stroke-width="1.1" fill="none"/>
<path d="M259.2 3655.1H271.5" stroke="#222" stroke-width="1" fill="none"/>
<path d="M259.2 3793.2H271.5" stroke="#7f7f7f" stroke-width="1.4" fill="none"/>
<text x="251.8" y="3657.8" class="tk" text-anchor="end">9</text>
<text x="251.8" y="3796.4" class="tk" text-anchor="end">0</text>
<text x="73.5" y="3730.5" class="lb">GSM2481668</text>
<path d="M314 3957.5H1422" stroke="#111" stroke-width="1.1" fill="none"/>
<rect x="270.4" y="3933.7" width="42.1" height="47.3" fill="#000"/>
<rect x="312.2" y="3910.2" width="3.6" height="94.6" fill="#000"/>
<rect x="328.0" y="3910.2" width="2.0" height="94.6" fill="#000"/>
<rect x="366.8" y="3910.2" width="4.4" height="94.6" fill="#000"/>
<rect x="412.1" y="3910.2" width="2.5" height="94.6" fill="#000"/>
<rect x="422.2" y="3910.2" width="3.5" height="94.6" fill="#000"/>
<rect x="534.7" y="3910.2" width="2.0" height="94.6" fill="#000"/>
<rect x="548.5" y="3910.2" width="2.0" height="94.6" fill="#000"/>
<rect x="569.0" y="3910.2" width="2.0" height="94.6" fill="#000"/>
<rect x="611.8" y="3910.2" width="2.0" height="94.6" fill="#000"/>
<rect x="644.1" y="3910.2" width="4.5" height="94.6" fill="#000"/>
<rect x="664.6" y="3910.2" width="2.0" height="94.6" fill="#000"/>
<rect x="698.0" y="3910.2" width="2.0" height="94.6" fill="#000"/>
<rect x="726.9" y="3910.2" width="3.5" height="94.6" fill="#000"/>
<rect x="770.2" y="3910.2" width="1.5" height="94.6" fill="#000"/>
<rect x="827.5" y="3910.2" width="3.0" height="94.6" fill="#000"/>
<rect x="877.4" y="3910.2" width="2.5" height="94.6" fill="#000"/>
<rect x="900.2" y="3910.2" width="2.5" height="94.6" fill="#000"/>
<rect x="936.5" y="3910.2" width="1.5" height="94.6" fill="#000"/>
<rect x="1296.9" y="3910.2" width="4.6" height="94.6" fill="#000"/>
<rect x="535.7" y="3933.7" width="34.3" height="47.3" fill="#000"/>
<rect x="699.0" y="3933.7" width="22.4" height="47.3" fill="#000"/>
<rect x="767.9" y="3933.7" width="3.7" height="47.3" fill="#000"/>
<rect x="934.2" y="3933.7" width="4.1" height="47.3" fill="#000"/>
<rect x="1297.0" y="3933.7" width="14.7" height="47.3" fill="#000"/>
<rect x="1320.2" y="3933.7" width="2.4" height="47.3" fill="#000"/>
<rect x="1420.4" y="3933.7" width="3.0" height="47.3" fill="#000"/>
<path d="M327.1 3948L317.2 3957.5L327.1 3967" stroke="#111" stroke-width="1.05" fill="none"/>
<path d="M352.6 3948L342.7 3957.5L352.6 3967" stroke="#111" stroke-width="1.05" fill="none"/>
<path d="M395.9 3948L386.0 3957.5L395.9 3967" stroke="#111" stroke-width="1.05" fill="none"/>
<path d="M445.9 3948L436.0 3957.5L445.9 3967" stroke="#111" stroke-width="1.05" fill="none"/>
<path d="M484.2 3948L474.3 3957.5L484.2 3967" stroke="#111" stroke-width="1.05" fill="none"/>
<path d="M522.5 3948L512.6 3957.5L522.5 3967" stroke="#111" stroke-width="1.05" fill="none"/>
<path d="M594.4 3948L584.5 3957.5L594.4 3967" stroke="#111" stroke-width="1.05" fill="none"/>
<path d="M632.2 3948L622.3 3957.5L632.2 3967" stroke="#111" stroke-width="1.05" fill="none"/>
<path d="M660.7 3948L650.8 3957.5L660.7 3967" stroke="#111" stroke-width="1.05" fill="none"/>
<path d="M685.7 3948L675.8 3957.5L685.7 3967" stroke="#111" stroke-width="1.05" fill="none"/>
<path d="M752.6 3948L742.7 3957.5L752.6 3967" stroke="#111" stroke-width="1.05" fill="none"/>
<path d="M785.2 3948L775.3 3957.5L785.2 3967" stroke="#111" stroke-width="1.05" fill="none"/>
<path d="M823.5 3948L813.6 3957.5L823.5 3967" stroke="#111" stroke-width="1.05" fill="none"/>
<path d="M857.7 3948L847.8 3957.5L857.7 3967" stroke="#111" stroke-width="1.05" fill="none"/>
<path d="M894.4 3948L884.5 3957.5L894.4 3967" stroke="#111" stroke-width="1.05" fill="none"/>
<path d="M923.0 3948L913.1 3957.5L923.0 3967" stroke="#111" stroke-width="1.05" fill="none"/>
<path d="M953.6 3948L943.7 3957.5L953.6 3967" stroke="#111" stroke-width="1.05" fill="none"/>
<path d="M990.8 3948L980.9 3957.5L990.8 3967" stroke="#111" stroke-width="1.05" fill="none"/>
<path d="M1027.8 3948L1017.9 3957.5L1027.8 3967" stroke="#111" stroke-width="1.05" fill="none"/>
<path d="M1065.2 3948L1055.3 3957.5L1065.2 3967" stroke="#111" stroke-width="1.05" fill="none"/>
<path d="M1102.7 3948L1092.8 3957.5L1102.7 3967" stroke="#111" stroke-width="1.05" fill="none"/>
<path d="M1140.8 3948L1130.9 3957.5L1140.8 3967" stroke="#111" stroke-width="1.05" fill="none"/>
<path d="M1177.6 3948L1167.7 3957.5L1177.6 3967" stroke="#111" stroke-width="1.05" fill="none"/>
<path d="M1215.3 3948L1205.4 3957.5L1215.3 3967" stroke="#111" stroke-width="1.05" fill="none"/>
<path d="M1253.1 3948L1243.2 3957.5L1253.1 3967" stroke="#111" stroke-width="1.05" fill="none"/>
<path d="M1290.3 3948L1280.4 3957.5L1290.3 3967" stroke="#111" stroke-width="1.05" fill="none"/>
<path d="M1338.8 3948L1328.9 3957.5L1338.8 3967" stroke="#111" stroke-width="1.05" fill="none"/>
<path d="M1375.5 3948L1365.6 3957.5L1375.5 3967" stroke="#111" stroke-width="1.05" fill="none"/>
<path d="M1413.3 3948L1403.4 3957.5L1413.3 3967" stroke="#111" stroke-width="1.05" fill="none"/>
<text x="852" y="3903" class="gn" text-anchor="middle">PRKD3</text>
<path d="M271 4063H1423.5" stroke="#999" stroke-width="1.6" fill="none"/>
<path d="M271 4120.5H1423.5" stroke="#555" stroke-width="1" fill="none"/>
<path d="M294.6 4120.5V4150.7" stroke="#444" stroke-width="1" fill="none"/>
<path d="M325.8 4120.5V4150.7" stroke="#444" stroke-width="1" fill="none"/>
<path d="M357.0 4120.5V4150.7" stroke="#444" stroke-width="1" fill="none"/>
<path d="M388.2 4120.5V4150.7" stroke="#444" stroke-width="1" fill="none"/>
<path d="M419.4 4120.5V4196" stroke="#333" stroke-width="1" fill="none"/>
<path d="M450.6 4120.5V4150.7" stroke="#444" stroke-width="1" fill="none"/>
<path d="M481.8 4120.5V4150.7" stroke="#444" stroke-width="1" fill="none"/>
<path d="M513.0 4120.5V4150.7" stroke="#444" stroke-width="1" fill="none"/>
<path d="M544.2 4120.5V4150.7" stroke="#444" stroke-width="1" fill="none"/>
<path d="M575.4 4120.5V4196" stroke="#333" stroke-width="1" fill="none"/>
<path d="M606.6 4120.5V4150.7" stroke="#444" stroke-width="1" fill="none"/>
<path d="M637.8 4120.5V4150.7" stroke="#444" stroke-width="1" fill="none"/>
<path d="M669.0 4120.5V4150.7" stroke="#444" stroke-width="1" fill="none"/>
<path d="M700.3 4120.5V4150.7" stroke="#444" stroke-width="1" fill="none"/>
<path d="M731.5 4120.5V4196" stroke="#333" stroke-width="1" fill="none"/>
<path d="M762.7 4120.5V4150.7" stroke="#444" stroke-width="1" fill="none"/>
<path d="M793.9 4120.5V4150.7" stroke="#444" stroke-width="1" fill="none"/>
<path d="M825.1 4120.5V4150.7" stroke="#444" stroke-width="1" fill="none"/>
<path d="M856.3 4120.5V4150.7" stroke="#444" stroke-width="1" fill="none"/>
<path d="M887.5 4120.5V4196" stroke="#333" stroke-width="1" fill="none"/>
<path d="M918.7 4120.5V4150.7" stroke="#444" stroke-width="1" fill="none"/>
<path d="M949.9 4120.5V4150.7" stroke="#444" stroke-width="1" fill="none"/>
<path d="M981.1 4120.5V4150.7" stroke="#444" stroke-width="1" fill="none"/>
<path d="M1012.3 4120.5V4150.7" stroke="#444" stroke-width="1" fill="none"/>
<path d="M1043.5 4120.5V4196" stroke="#333" stroke-width="1" fill="none"/>
<path d="M1074.7 4120.5V4150.7" stroke="#444" stroke-width="1" fill="none"/>
<path d="M1105.9 4120.5V4150.7" stroke="#444" stroke-width="1" fill="none"/>
<path d="M1137.1 4120.5V4150.7" stroke="#444" stroke-width="1" fill="none"/>
<path d="M1168.3 4120.5V4150.7" stroke="#444" stroke-width="1" fill="none"/>
<path d="M1199.5 4120.5V4196" stroke="#333" stroke-width="1" fill="none"/>
<path d="M1230.8 4120.5V4150.7" stroke="#444" stroke-width="1" fill="none"/>
<path d="M1262.0 4120.5V4150.7" stroke="#444" stroke-width="1" fill="none"/>
<path d="M1293.2 4120.5V4150.7" stroke="#444" stroke-width="1" fill="none"/>
<path d="M1324.4 4120.5V4150.7" stroke="#444" stroke-width="1" fill="none"/>
<path d="M1355.6 4120.5V4196" stroke="#333" stroke-width="1" fill="none"/>
<path d="M1386.8 4120.5V4150.7" stroke="#444" stroke-width="1" fill="none"/>
<path d="M1418.0 4120.5V4150.7" stroke="#444" stroke-width="1" fill="none"/>
<text x="419.4" y="4212.6" class="ax" text-anchor="middle">37.26Mb</text>
<text x="575.4" y="4212.6" class="ax" text-anchor="middle">37.27Mb</text>
<text x="731.5" y="4212.6" class="ax" text-anchor="middle">37.28Mb</text>
<text x="887.5" y="4212.6" class="ax" text-anchor="middle">37.29Mb</text>
<text x="1043.5" y="4212.6" class="ax" text-anchor="middle">37.3Mb</text>
<text x="1199.5" y="4212.6" class="ax" text-anchor="middle">37.31Mb</text>
<text x="1355.6" y="4212.6" class="ax" text-anchor="middle">37.32Mb</text>
<text x="87.5" y="4109" class="chr">chr2</text>
</svg>
</body></html>
